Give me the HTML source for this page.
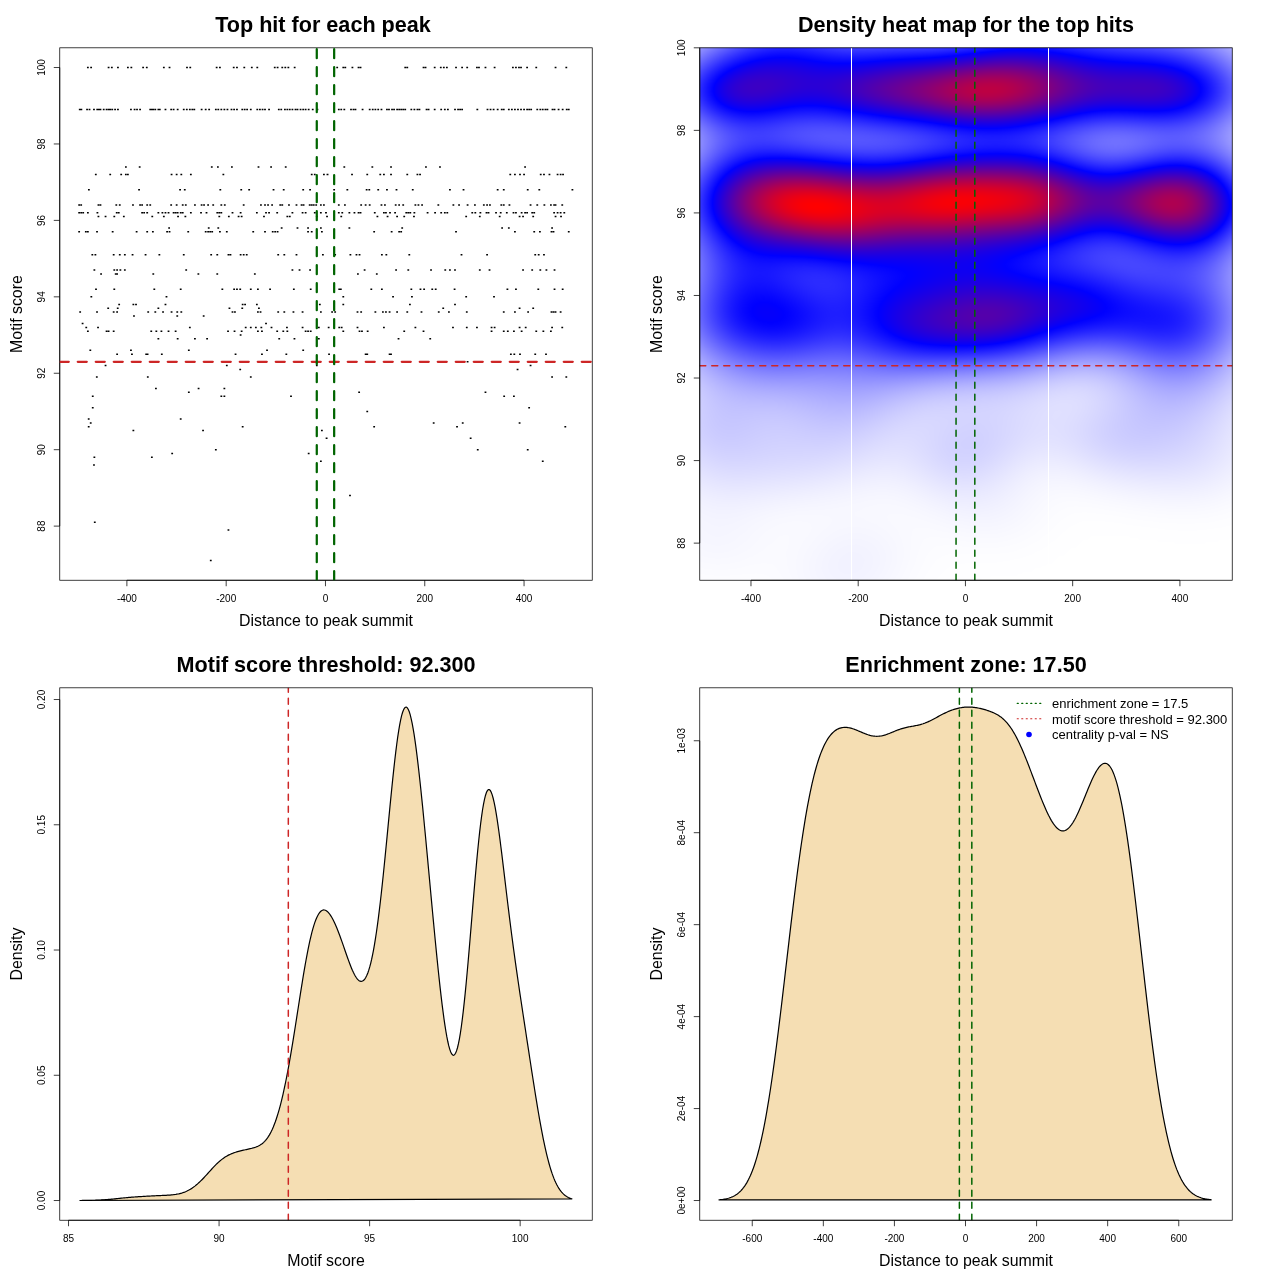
<!DOCTYPE html>
<html><head><meta charset="utf-8"><style>
html,body{margin:0;padding:0;background:#fff;width:1280px;height:1280px;overflow:hidden}
#hm{position:absolute;left:700px;top:48px;width:532px;height:532px}
svg{position:absolute;left:0;top:0}
text{font-family:"Liberation Sans", sans-serif;fill:#000}
</style></head><body>
<svg id="fb" width="1280" height="1280" viewBox="0 0 1280 1280"><defs><filter id="bl" x="-5%" y="-5%" width="110%" height="110%"><feGaussianBlur stdDeviation="9"/></filter><clipPath id="fc"><rect x="699.76" y="47.81" width="532.48" height="532.43"/></clipPath></defs><g clip-path="url(#fc)"><g filter="url(#bl)"><rect x="681" y="29" width="19.5" height="19.5" fill="#6060ff"/><rect x="700" y="29" width="19.5" height="19.5" fill="#6060ff"/><rect x="719" y="29" width="19.5" height="19.5" fill="#3535ff"/><rect x="738" y="29" width="19.5" height="19.5" fill="#1616ff"/><rect x="757" y="29" width="19.5" height="19.5" fill="#0404ff"/><rect x="776" y="29" width="19.5" height="19.5" fill="#0101ff"/><rect x="795" y="29" width="19.5" height="19.5" fill="#0707ff"/><rect x="814" y="29" width="19.5" height="19.5" fill="#1010ff"/><rect x="833" y="29" width="19.5" height="19.5" fill="#1717ff"/><rect x="852" y="29" width="19.5" height="19.5" fill="#1616ff"/><rect x="871" y="29" width="19.5" height="19.5" fill="#1111ff"/><rect x="890" y="29" width="19.5" height="19.5" fill="#0b0bff"/><rect x="909" y="29" width="19.5" height="19.5" fill="#0606ff"/><rect x="928" y="29" width="19.5" height="19.5" fill="#0100fe"/><rect x="947" y="29" width="19.5" height="19.5" fill="#0d00f2"/><rect x="966" y="29" width="19.5" height="19.5" fill="#1d00e2"/><rect x="985" y="29" width="19.5" height="19.5" fill="#2a00d5"/><rect x="1004" y="29" width="19.5" height="19.5" fill="#2e00d1"/><rect x="1023" y="29" width="19.5" height="19.5" fill="#2800d7"/><rect x="1042" y="29" width="19.5" height="19.5" fill="#1b00e4"/><rect x="1061" y="29" width="19.5" height="19.5" fill="#0b00f4"/><rect x="1080" y="29" width="19.5" height="19.5" fill="#0404ff"/><rect x="1099" y="29" width="19.5" height="19.5" fill="#0f0fff"/><rect x="1118" y="29" width="19.5" height="19.5" fill="#1515ff"/><rect x="1137" y="29" width="19.5" height="19.5" fill="#1c1cff"/><rect x="1156" y="29" width="19.5" height="19.5" fill="#2626ff"/><rect x="1175" y="29" width="19.5" height="19.5" fill="#3a3aff"/><rect x="1194" y="29" width="19.5" height="19.5" fill="#5858ff"/><rect x="1213" y="29" width="19.5" height="19.5" fill="#7d7dff"/><rect x="1232" y="29" width="19.5" height="19.5" fill="#7d7dff"/><rect x="681" y="48" width="19.5" height="19.5" fill="#6060ff"/><rect x="700" y="48" width="19.5" height="19.5" fill="#6060ff"/><rect x="719" y="48" width="19.5" height="19.5" fill="#3535ff"/><rect x="738" y="48" width="19.5" height="19.5" fill="#1616ff"/><rect x="757" y="48" width="19.5" height="19.5" fill="#0404ff"/><rect x="776" y="48" width="19.5" height="19.5" fill="#0101ff"/><rect x="795" y="48" width="19.5" height="19.5" fill="#0707ff"/><rect x="814" y="48" width="19.5" height="19.5" fill="#1010ff"/><rect x="833" y="48" width="19.5" height="19.5" fill="#1717ff"/><rect x="852" y="48" width="19.5" height="19.5" fill="#1616ff"/><rect x="871" y="48" width="19.5" height="19.5" fill="#1111ff"/><rect x="890" y="48" width="19.5" height="19.5" fill="#0b0bff"/><rect x="909" y="48" width="19.5" height="19.5" fill="#0606ff"/><rect x="928" y="48" width="19.5" height="19.5" fill="#0100fe"/><rect x="947" y="48" width="19.5" height="19.5" fill="#0d00f2"/><rect x="966" y="48" width="19.5" height="19.5" fill="#1d00e2"/><rect x="985" y="48" width="19.5" height="19.5" fill="#2a00d5"/><rect x="1004" y="48" width="19.5" height="19.5" fill="#2e00d1"/><rect x="1023" y="48" width="19.5" height="19.5" fill="#2800d7"/><rect x="1042" y="48" width="19.5" height="19.5" fill="#1b00e4"/><rect x="1061" y="48" width="19.5" height="19.5" fill="#0b00f4"/><rect x="1080" y="48" width="19.5" height="19.5" fill="#0404ff"/><rect x="1099" y="48" width="19.5" height="19.5" fill="#0f0fff"/><rect x="1118" y="48" width="19.5" height="19.5" fill="#1515ff"/><rect x="1137" y="48" width="19.5" height="19.5" fill="#1c1cff"/><rect x="1156" y="48" width="19.5" height="19.5" fill="#2626ff"/><rect x="1175" y="48" width="19.5" height="19.5" fill="#3a3aff"/><rect x="1194" y="48" width="19.5" height="19.5" fill="#5858ff"/><rect x="1213" y="48" width="19.5" height="19.5" fill="#7d7dff"/><rect x="1232" y="48" width="19.5" height="19.5" fill="#7d7dff"/><rect x="681" y="67" width="19.5" height="19.5" fill="#2020ff"/><rect x="700" y="67" width="19.5" height="19.5" fill="#2020ff"/><rect x="719" y="67" width="19.5" height="19.5" fill="#1100ee"/><rect x="738" y="67" width="19.5" height="19.5" fill="#2b00d4"/><rect x="757" y="67" width="19.5" height="19.5" fill="#3200cd"/><rect x="776" y="67" width="19.5" height="19.5" fill="#2d00d2"/><rect x="795" y="67" width="19.5" height="19.5" fill="#2600d9"/><rect x="814" y="67" width="19.5" height="19.5" fill="#2300dc"/><rect x="833" y="67" width="19.5" height="19.5" fill="#2800d7"/><rect x="852" y="67" width="19.5" height="19.5" fill="#3400cb"/><rect x="871" y="67" width="19.5" height="19.5" fill="#4300bc"/><rect x="890" y="67" width="19.5" height="19.5" fill="#5100ae"/><rect x="909" y="67" width="19.5" height="19.5" fill="#60009f"/><rect x="928" y="67" width="19.5" height="19.5" fill="#72008d"/><rect x="947" y="67" width="19.5" height="19.5" fill="#85007a"/><rect x="966" y="67" width="19.5" height="19.5" fill="#95006a"/><rect x="985" y="67" width="19.5" height="19.5" fill="#9c0063"/><rect x="1004" y="67" width="19.5" height="19.5" fill="#960069"/><rect x="1023" y="67" width="19.5" height="19.5" fill="#84007b"/><rect x="1042" y="67" width="19.5" height="19.5" fill="#6c0093"/><rect x="1061" y="67" width="19.5" height="19.5" fill="#5200ad"/><rect x="1080" y="67" width="19.5" height="19.5" fill="#3f00c0"/><rect x="1099" y="67" width="19.5" height="19.5" fill="#3400cb"/><rect x="1118" y="67" width="19.5" height="19.5" fill="#3100ce"/><rect x="1137" y="67" width="19.5" height="19.5" fill="#2f00d0"/><rect x="1156" y="67" width="19.5" height="19.5" fill="#2500da"/><rect x="1175" y="67" width="19.5" height="19.5" fill="#0e00f1"/><rect x="1194" y="67" width="19.5" height="19.5" fill="#1818ff"/><rect x="1213" y="67" width="19.5" height="19.5" fill="#4b4bff"/><rect x="1232" y="67" width="19.5" height="19.5" fill="#4b4bff"/><rect x="681" y="86" width="19.5" height="19.5" fill="#0f0fff"/><rect x="700" y="86" width="19.5" height="19.5" fill="#0f0fff"/><rect x="719" y="86" width="19.5" height="19.5" fill="#1f00e0"/><rect x="738" y="86" width="19.5" height="19.5" fill="#3200cd"/><rect x="757" y="86" width="19.5" height="19.5" fill="#3000cf"/><rect x="776" y="86" width="19.5" height="19.5" fill="#2500da"/><rect x="795" y="86" width="19.5" height="19.5" fill="#1e00e1"/><rect x="814" y="86" width="19.5" height="19.5" fill="#2000df"/><rect x="833" y="86" width="19.5" height="19.5" fill="#2c00d3"/><rect x="852" y="86" width="19.5" height="19.5" fill="#3e00c1"/><rect x="871" y="86" width="19.5" height="19.5" fill="#5200ad"/><rect x="890" y="86" width="19.5" height="19.5" fill="#65009a"/><rect x="909" y="86" width="19.5" height="19.5" fill="#790086"/><rect x="928" y="86" width="19.5" height="19.5" fill="#8f0070"/><rect x="947" y="86" width="19.5" height="19.5" fill="#a5005a"/><rect x="966" y="86" width="19.5" height="19.5" fill="#b4004b"/><rect x="985" y="86" width="19.5" height="19.5" fill="#b5004a"/><rect x="1004" y="86" width="19.5" height="19.5" fill="#a80057"/><rect x="1023" y="86" width="19.5" height="19.5" fill="#90006f"/><rect x="1042" y="86" width="19.5" height="19.5" fill="#73008c"/><rect x="1061" y="86" width="19.5" height="19.5" fill="#5600a9"/><rect x="1080" y="86" width="19.5" height="19.5" fill="#4200bd"/><rect x="1099" y="86" width="19.5" height="19.5" fill="#3800c7"/><rect x="1118" y="86" width="19.5" height="19.5" fill="#3800c7"/><rect x="1137" y="86" width="19.5" height="19.5" fill="#3900c6"/><rect x="1156" y="86" width="19.5" height="19.5" fill="#3300cc"/><rect x="1175" y="86" width="19.5" height="19.5" fill="#1d00e2"/><rect x="1194" y="86" width="19.5" height="19.5" fill="#0a0aff"/><rect x="1213" y="86" width="19.5" height="19.5" fill="#3f3fff"/><rect x="1232" y="86" width="19.5" height="19.5" fill="#3f3fff"/><rect x="681" y="105" width="19.5" height="19.5" fill="#4040ff"/><rect x="700" y="105" width="19.5" height="19.5" fill="#4040ff"/><rect x="719" y="105" width="19.5" height="19.5" fill="#1b1bff"/><rect x="738" y="105" width="19.5" height="19.5" fill="#0c0cff"/><rect x="757" y="105" width="19.5" height="19.5" fill="#0f0fff"/><rect x="776" y="105" width="19.5" height="19.5" fill="#1a1aff"/><rect x="795" y="105" width="19.5" height="19.5" fill="#2121ff"/><rect x="814" y="105" width="19.5" height="19.5" fill="#2020ff"/><rect x="833" y="105" width="19.5" height="19.5" fill="#1616ff"/><rect x="852" y="105" width="19.5" height="19.5" fill="#0909ff"/><rect x="871" y="105" width="19.5" height="19.5" fill="#0600f9"/><rect x="890" y="105" width="19.5" height="19.5" fill="#1400eb"/><rect x="909" y="105" width="19.5" height="19.5" fill="#2500da"/><rect x="928" y="105" width="19.5" height="19.5" fill="#3700c8"/><rect x="947" y="105" width="19.5" height="19.5" fill="#4800b7"/><rect x="966" y="105" width="19.5" height="19.5" fill="#5300ac"/><rect x="985" y="105" width="19.5" height="19.5" fill="#5400ab"/><rect x="1004" y="105" width="19.5" height="19.5" fill="#4900b6"/><rect x="1023" y="105" width="19.5" height="19.5" fill="#3500ca"/><rect x="1042" y="105" width="19.5" height="19.5" fill="#1d00e2"/><rect x="1061" y="105" width="19.5" height="19.5" fill="#0600f9"/><rect x="1080" y="105" width="19.5" height="19.5" fill="#0d0dff"/><rect x="1099" y="105" width="19.5" height="19.5" fill="#1515ff"/><rect x="1118" y="105" width="19.5" height="19.5" fill="#1515ff"/><rect x="1137" y="105" width="19.5" height="19.5" fill="#1111ff"/><rect x="1156" y="105" width="19.5" height="19.5" fill="#1212ff"/><rect x="1175" y="105" width="19.5" height="19.5" fill="#2020ff"/><rect x="1194" y="105" width="19.5" height="19.5" fill="#3d3dff"/><rect x="1213" y="105" width="19.5" height="19.5" fill="#6666ff"/><rect x="1232" y="105" width="19.5" height="19.5" fill="#6666ff"/><rect x="681" y="124" width="19.5" height="19.5" fill="#7272ff"/><rect x="700" y="124" width="19.5" height="19.5" fill="#7272ff"/><rect x="719" y="124" width="19.5" height="19.5" fill="#5050ff"/><rect x="738" y="124" width="19.5" height="19.5" fill="#3f3fff"/><rect x="757" y="124" width="19.5" height="19.5" fill="#3f3fff"/><rect x="776" y="124" width="19.5" height="19.5" fill="#4747ff"/><rect x="795" y="124" width="19.5" height="19.5" fill="#4f4fff"/><rect x="814" y="124" width="19.5" height="19.5" fill="#5353ff"/><rect x="833" y="124" width="19.5" height="19.5" fill="#5252ff"/><rect x="852" y="124" width="19.5" height="19.5" fill="#4f4fff"/><rect x="871" y="124" width="19.5" height="19.5" fill="#4949ff"/><rect x="890" y="124" width="19.5" height="19.5" fill="#4141ff"/><rect x="909" y="124" width="19.5" height="19.5" fill="#3737ff"/><rect x="928" y="124" width="19.5" height="19.5" fill="#2a2aff"/><rect x="947" y="124" width="19.5" height="19.5" fill="#1d1dff"/><rect x="966" y="124" width="19.5" height="19.5" fill="#1515ff"/><rect x="985" y="124" width="19.5" height="19.5" fill="#1212ff"/><rect x="1004" y="124" width="19.5" height="19.5" fill="#1717ff"/><rect x="1023" y="124" width="19.5" height="19.5" fill="#2323ff"/><rect x="1042" y="124" width="19.5" height="19.5" fill="#3535ff"/><rect x="1061" y="124" width="19.5" height="19.5" fill="#4949ff"/><rect x="1080" y="124" width="19.5" height="19.5" fill="#5b5bff"/><rect x="1099" y="124" width="19.5" height="19.5" fill="#6464ff"/><rect x="1118" y="124" width="19.5" height="19.5" fill="#6464ff"/><rect x="1137" y="124" width="19.5" height="19.5" fill="#5d5dff"/><rect x="1156" y="124" width="19.5" height="19.5" fill="#5757ff"/><rect x="1175" y="124" width="19.5" height="19.5" fill="#5a5aff"/><rect x="1194" y="124" width="19.5" height="19.5" fill="#6b6bff"/><rect x="1213" y="124" width="19.5" height="19.5" fill="#8989ff"/><rect x="1232" y="124" width="19.5" height="19.5" fill="#8989ff"/><rect x="681" y="143" width="19.5" height="19.5" fill="#6e6eff"/><rect x="700" y="143" width="19.5" height="19.5" fill="#6e6eff"/><rect x="719" y="143" width="19.5" height="19.5" fill="#4242ff"/><rect x="738" y="143" width="19.5" height="19.5" fill="#2626ff"/><rect x="757" y="143" width="19.5" height="19.5" fill="#1c1cff"/><rect x="776" y="143" width="19.5" height="19.5" fill="#1e1eff"/><rect x="795" y="143" width="19.5" height="19.5" fill="#2727ff"/><rect x="814" y="143" width="19.5" height="19.5" fill="#3030ff"/><rect x="833" y="143" width="19.5" height="19.5" fill="#3838ff"/><rect x="852" y="143" width="19.5" height="19.5" fill="#3d3dff"/><rect x="871" y="143" width="19.5" height="19.5" fill="#3d3dff"/><rect x="890" y="143" width="19.5" height="19.5" fill="#3737ff"/><rect x="909" y="143" width="19.5" height="19.5" fill="#2b2bff"/><rect x="928" y="143" width="19.5" height="19.5" fill="#1d1dff"/><rect x="947" y="143" width="19.5" height="19.5" fill="#1111ff"/><rect x="966" y="143" width="19.5" height="19.5" fill="#0909ff"/><rect x="985" y="143" width="19.5" height="19.5" fill="#0606ff"/><rect x="1004" y="143" width="19.5" height="19.5" fill="#0808ff"/><rect x="1023" y="143" width="19.5" height="19.5" fill="#1313ff"/><rect x="1042" y="143" width="19.5" height="19.5" fill="#2727ff"/><rect x="1061" y="143" width="19.5" height="19.5" fill="#4040ff"/><rect x="1080" y="143" width="19.5" height="19.5" fill="#5656ff"/><rect x="1099" y="143" width="19.5" height="19.5" fill="#6262ff"/><rect x="1118" y="143" width="19.5" height="19.5" fill="#5f5fff"/><rect x="1137" y="143" width="19.5" height="19.5" fill="#5151ff"/><rect x="1156" y="143" width="19.5" height="19.5" fill="#4444ff"/><rect x="1175" y="143" width="19.5" height="19.5" fill="#4242ff"/><rect x="1194" y="143" width="19.5" height="19.5" fill="#5353ff"/><rect x="1213" y="143" width="19.5" height="19.5" fill="#7575ff"/><rect x="1232" y="143" width="19.5" height="19.5" fill="#7575ff"/><rect x="681" y="162" width="19.5" height="19.5" fill="#4141ff"/><rect x="700" y="162" width="19.5" height="19.5" fill="#4141ff"/><rect x="719" y="162" width="19.5" height="19.5" fill="#0303ff"/><rect x="738" y="162" width="19.5" height="19.5" fill="#2d00d2"/><rect x="757" y="162" width="19.5" height="19.5" fill="#4a00b5"/><rect x="776" y="162" width="19.5" height="19.5" fill="#5500aa"/><rect x="795" y="162" width="19.5" height="19.5" fill="#5300ac"/><rect x="814" y="162" width="19.5" height="19.5" fill="#4800b7"/><rect x="833" y="162" width="19.5" height="19.5" fill="#3a00c5"/><rect x="852" y="162" width="19.5" height="19.5" fill="#2f00d0"/><rect x="871" y="162" width="19.5" height="19.5" fill="#2e00d1"/><rect x="890" y="162" width="19.5" height="19.5" fill="#3700c8"/><rect x="909" y="162" width="19.5" height="19.5" fill="#4900b6"/><rect x="928" y="162" width="19.5" height="19.5" fill="#5a00a5"/><rect x="947" y="162" width="19.5" height="19.5" fill="#670098"/><rect x="966" y="162" width="19.5" height="19.5" fill="#6e0091"/><rect x="985" y="162" width="19.5" height="19.5" fill="#6e0091"/><rect x="1004" y="162" width="19.5" height="19.5" fill="#680097"/><rect x="1023" y="162" width="19.5" height="19.5" fill="#5800a7"/><rect x="1042" y="162" width="19.5" height="19.5" fill="#3c00c3"/><rect x="1061" y="162" width="19.5" height="19.5" fill="#1900e6"/><rect x="1080" y="162" width="19.5" height="19.5" fill="#0303ff"/><rect x="1099" y="162" width="19.5" height="19.5" fill="#0e0eff"/><rect x="1118" y="162" width="19.5" height="19.5" fill="#0505ff"/><rect x="1137" y="162" width="19.5" height="19.5" fill="#1100ee"/><rect x="1156" y="162" width="19.5" height="19.5" fill="#2400db"/><rect x="1175" y="162" width="19.5" height="19.5" fill="#2200dd"/><rect x="1194" y="162" width="19.5" height="19.5" fill="#0400fb"/><rect x="1213" y="162" width="19.5" height="19.5" fill="#3232ff"/><rect x="1232" y="162" width="19.5" height="19.5" fill="#3232ff"/><rect x="681" y="181" width="19.5" height="19.5" fill="#1717ff"/><rect x="700" y="181" width="19.5" height="19.5" fill="#1717ff"/><rect x="719" y="181" width="19.5" height="19.5" fill="#3700c8"/><rect x="738" y="181" width="19.5" height="19.5" fill="#7b0084"/><rect x="757" y="181" width="19.5" height="19.5" fill="#ac0053"/><rect x="776" y="181" width="19.5" height="19.5" fill="#c90036"/><rect x="795" y="181" width="19.5" height="19.5" fill="#d4002b"/><rect x="814" y="181" width="19.5" height="19.5" fill="#ce0031"/><rect x="833" y="181" width="19.5" height="19.5" fill="#bf0040"/><rect x="852" y="181" width="19.5" height="19.5" fill="#b0004f"/><rect x="871" y="181" width="19.5" height="19.5" fill="#ac0053"/><rect x="890" y="181" width="19.5" height="19.5" fill="#b4004b"/><rect x="909" y="181" width="19.5" height="19.5" fill="#c60039"/><rect x="928" y="181" width="19.5" height="19.5" fill="#d70028"/><rect x="947" y="181" width="19.5" height="19.5" fill="#e1001e"/><rect x="966" y="181" width="19.5" height="19.5" fill="#e2001d"/><rect x="985" y="181" width="19.5" height="19.5" fill="#de0021"/><rect x="1004" y="181" width="19.5" height="19.5" fill="#d4002b"/><rect x="1023" y="181" width="19.5" height="19.5" fill="#bf0040"/><rect x="1042" y="181" width="19.5" height="19.5" fill="#9c0063"/><rect x="1061" y="181" width="19.5" height="19.5" fill="#72008d"/><rect x="1080" y="181" width="19.5" height="19.5" fill="#5200ad"/><rect x="1099" y="181" width="19.5" height="19.5" fill="#4a00b5"/><rect x="1118" y="181" width="19.5" height="19.5" fill="#5c00a3"/><rect x="1137" y="181" width="19.5" height="19.5" fill="#7b0084"/><rect x="1156" y="181" width="19.5" height="19.5" fill="#91006e"/><rect x="1175" y="181" width="19.5" height="19.5" fill="#8b0074"/><rect x="1194" y="181" width="19.5" height="19.5" fill="#5e00a1"/><rect x="1213" y="181" width="19.5" height="19.5" fill="#1200ed"/><rect x="1232" y="181" width="19.5" height="19.5" fill="#1200ed"/><rect x="681" y="200" width="19.5" height="19.5" fill="#1010ff"/><rect x="700" y="200" width="19.5" height="19.5" fill="#1010ff"/><rect x="719" y="200" width="19.5" height="19.5" fill="#3f00c0"/><rect x="738" y="200" width="19.5" height="19.5" fill="#85007a"/><rect x="757" y="200" width="19.5" height="19.5" fill="#bb0044"/><rect x="776" y="200" width="19.5" height="19.5" fill="#e2001d"/><rect x="795" y="200" width="19.5" height="19.5" fill="#f80007"/><rect x="814" y="200" width="19.5" height="19.5" fill="#fd0002"/><rect x="833" y="200" width="19.5" height="19.5" fill="#f4000b"/><rect x="852" y="200" width="19.5" height="19.5" fill="#e60019"/><rect x="871" y="200" width="19.5" height="19.5" fill="#db0024"/><rect x="890" y="200" width="19.5" height="19.5" fill="#db0024"/><rect x="909" y="200" width="19.5" height="19.5" fill="#e4001b"/><rect x="928" y="200" width="19.5" height="19.5" fill="#ed0012"/><rect x="947" y="200" width="19.5" height="19.5" fill="#ef0010"/><rect x="966" y="200" width="19.5" height="19.5" fill="#ea0015"/><rect x="985" y="200" width="19.5" height="19.5" fill="#e2001d"/><rect x="1004" y="200" width="19.5" height="19.5" fill="#d70028"/><rect x="1023" y="200" width="19.5" height="19.5" fill="#c2003d"/><rect x="1042" y="200" width="19.5" height="19.5" fill="#9f0060"/><rect x="1061" y="200" width="19.5" height="19.5" fill="#760089"/><rect x="1080" y="200" width="19.5" height="19.5" fill="#5700a8"/><rect x="1099" y="200" width="19.5" height="19.5" fill="#5200ad"/><rect x="1118" y="200" width="19.5" height="19.5" fill="#680097"/><rect x="1137" y="200" width="19.5" height="19.5" fill="#8b0074"/><rect x="1156" y="200" width="19.5" height="19.5" fill="#a5005a"/><rect x="1175" y="200" width="19.5" height="19.5" fill="#a0005f"/><rect x="1194" y="200" width="19.5" height="19.5" fill="#72008d"/><rect x="1213" y="200" width="19.5" height="19.5" fill="#2200dd"/><rect x="1232" y="200" width="19.5" height="19.5" fill="#2200dd"/><rect x="681" y="219" width="19.5" height="19.5" fill="#2c2cff"/><rect x="700" y="219" width="19.5" height="19.5" fill="#2c2cff"/><rect x="719" y="219" width="19.5" height="19.5" fill="#1400eb"/><rect x="738" y="219" width="19.5" height="19.5" fill="#4900b6"/><rect x="757" y="219" width="19.5" height="19.5" fill="#71008e"/><rect x="776" y="219" width="19.5" height="19.5" fill="#90006f"/><rect x="795" y="219" width="19.5" height="19.5" fill="#a60059"/><rect x="814" y="219" width="19.5" height="19.5" fill="#b2004d"/><rect x="833" y="219" width="19.5" height="19.5" fill="#b4004b"/><rect x="852" y="219" width="19.5" height="19.5" fill="#ab0054"/><rect x="871" y="219" width="19.5" height="19.5" fill="#9f0060"/><rect x="890" y="219" width="19.5" height="19.5" fill="#980067"/><rect x="909" y="219" width="19.5" height="19.5" fill="#960069"/><rect x="928" y="219" width="19.5" height="19.5" fill="#970068"/><rect x="947" y="219" width="19.5" height="19.5" fill="#93006c"/><rect x="966" y="219" width="19.5" height="19.5" fill="#8b0074"/><rect x="985" y="219" width="19.5" height="19.5" fill="#81007e"/><rect x="1004" y="219" width="19.5" height="19.5" fill="#760089"/><rect x="1023" y="219" width="19.5" height="19.5" fill="#64009b"/><rect x="1042" y="219" width="19.5" height="19.5" fill="#4800b7"/><rect x="1061" y="219" width="19.5" height="19.5" fill="#2800d7"/><rect x="1080" y="219" width="19.5" height="19.5" fill="#1000ef"/><rect x="1099" y="219" width="19.5" height="19.5" fill="#0b00f4"/><rect x="1118" y="219" width="19.5" height="19.5" fill="#1c00e3"/><rect x="1137" y="219" width="19.5" height="19.5" fill="#3a00c5"/><rect x="1156" y="219" width="19.5" height="19.5" fill="#5300ac"/><rect x="1175" y="219" width="19.5" height="19.5" fill="#5400ab"/><rect x="1194" y="219" width="19.5" height="19.5" fill="#3300cc"/><rect x="1213" y="219" width="19.5" height="19.5" fill="#0e0eff"/><rect x="1232" y="219" width="19.5" height="19.5" fill="#0e0eff"/><rect x="681" y="238" width="19.5" height="19.5" fill="#4d4dff"/><rect x="700" y="238" width="19.5" height="19.5" fill="#4d4dff"/><rect x="719" y="238" width="19.5" height="19.5" fill="#1c1cff"/><rect x="738" y="238" width="19.5" height="19.5" fill="#0600f9"/><rect x="757" y="238" width="19.5" height="19.5" fill="#1800e7"/><rect x="776" y="238" width="19.5" height="19.5" fill="#2300dc"/><rect x="795" y="238" width="19.5" height="19.5" fill="#2d00d2"/><rect x="814" y="238" width="19.5" height="19.5" fill="#3800c7"/><rect x="833" y="238" width="19.5" height="19.5" fill="#4000bf"/><rect x="852" y="238" width="19.5" height="19.5" fill="#4100be"/><rect x="871" y="238" width="19.5" height="19.5" fill="#3c00c3"/><rect x="890" y="238" width="19.5" height="19.5" fill="#3800c7"/><rect x="909" y="238" width="19.5" height="19.5" fill="#3600c9"/><rect x="928" y="238" width="19.5" height="19.5" fill="#3600c9"/><rect x="947" y="238" width="19.5" height="19.5" fill="#3300cc"/><rect x="966" y="238" width="19.5" height="19.5" fill="#2c00d3"/><rect x="985" y="238" width="19.5" height="19.5" fill="#2200dd"/><rect x="1004" y="238" width="19.5" height="19.5" fill="#1700e8"/><rect x="1023" y="238" width="19.5" height="19.5" fill="#0800f7"/><rect x="1042" y="238" width="19.5" height="19.5" fill="#0b0bff"/><rect x="1061" y="238" width="19.5" height="19.5" fill="#2020ff"/><rect x="1080" y="238" width="19.5" height="19.5" fill="#3131ff"/><rect x="1099" y="238" width="19.5" height="19.5" fill="#3838ff"/><rect x="1118" y="238" width="19.5" height="19.5" fill="#3232ff"/><rect x="1137" y="238" width="19.5" height="19.5" fill="#2222ff"/><rect x="1156" y="238" width="19.5" height="19.5" fill="#1212ff"/><rect x="1175" y="238" width="19.5" height="19.5" fill="#0f0fff"/><rect x="1194" y="238" width="19.5" height="19.5" fill="#2424ff"/><rect x="1213" y="238" width="19.5" height="19.5" fill="#5151ff"/><rect x="1232" y="238" width="19.5" height="19.5" fill="#5151ff"/><rect x="681" y="257" width="19.5" height="19.5" fill="#5b5bff"/><rect x="700" y="257" width="19.5" height="19.5" fill="#5b5bff"/><rect x="719" y="257" width="19.5" height="19.5" fill="#3030ff"/><rect x="738" y="257" width="19.5" height="19.5" fill="#1919ff"/><rect x="757" y="257" width="19.5" height="19.5" fill="#1414ff"/><rect x="776" y="257" width="19.5" height="19.5" fill="#1818ff"/><rect x="795" y="257" width="19.5" height="19.5" fill="#1c1cff"/><rect x="814" y="257" width="19.5" height="19.5" fill="#1919ff"/><rect x="833" y="257" width="19.5" height="19.5" fill="#1111ff"/><rect x="852" y="257" width="19.5" height="19.5" fill="#0808ff"/><rect x="871" y="257" width="19.5" height="19.5" fill="#0202ff"/><rect x="890" y="257" width="19.5" height="19.5" fill="#0300fc"/><rect x="909" y="257" width="19.5" height="19.5" fill="#0800f7"/><rect x="928" y="257" width="19.5" height="19.5" fill="#0c00f3"/><rect x="947" y="257" width="19.5" height="19.5" fill="#0e00f1"/><rect x="966" y="257" width="19.5" height="19.5" fill="#0c00f3"/><rect x="985" y="257" width="19.5" height="19.5" fill="#0500fa"/><rect x="1004" y="257" width="19.5" height="19.5" fill="#0404ff"/><rect x="1023" y="257" width="19.5" height="19.5" fill="#0f0fff"/><rect x="1042" y="257" width="19.5" height="19.5" fill="#1b1bff"/><rect x="1061" y="257" width="19.5" height="19.5" fill="#2828ff"/><rect x="1080" y="257" width="19.5" height="19.5" fill="#3535ff"/><rect x="1099" y="257" width="19.5" height="19.5" fill="#4040ff"/><rect x="1118" y="257" width="19.5" height="19.5" fill="#4545ff"/><rect x="1137" y="257" width="19.5" height="19.5" fill="#4545ff"/><rect x="1156" y="257" width="19.5" height="19.5" fill="#4141ff"/><rect x="1175" y="257" width="19.5" height="19.5" fill="#4343ff"/><rect x="1194" y="257" width="19.5" height="19.5" fill="#5555ff"/><rect x="1213" y="257" width="19.5" height="19.5" fill="#7878ff"/><rect x="1232" y="257" width="19.5" height="19.5" fill="#7878ff"/><rect x="681" y="276" width="19.5" height="19.5" fill="#5656ff"/><rect x="700" y="276" width="19.5" height="19.5" fill="#5656ff"/><rect x="719" y="276" width="19.5" height="19.5" fill="#2b2bff"/><rect x="738" y="276" width="19.5" height="19.5" fill="#1414ff"/><rect x="757" y="276" width="19.5" height="19.5" fill="#1111ff"/><rect x="776" y="276" width="19.5" height="19.5" fill="#1b1bff"/><rect x="795" y="276" width="19.5" height="19.5" fill="#2626ff"/><rect x="814" y="276" width="19.5" height="19.5" fill="#2b2bff"/><rect x="833" y="276" width="19.5" height="19.5" fill="#2727ff"/><rect x="852" y="276" width="19.5" height="19.5" fill="#1b1bff"/><rect x="871" y="276" width="19.5" height="19.5" fill="#0d0dff"/><rect x="890" y="276" width="19.5" height="19.5" fill="#0000ff"/><rect x="909" y="276" width="19.5" height="19.5" fill="#0c00f3"/><rect x="928" y="276" width="19.5" height="19.5" fill="#1500ea"/><rect x="947" y="276" width="19.5" height="19.5" fill="#1d00e2"/><rect x="966" y="276" width="19.5" height="19.5" fill="#2100de"/><rect x="985" y="276" width="19.5" height="19.5" fill="#1f00e0"/><rect x="1004" y="276" width="19.5" height="19.5" fill="#1900e6"/><rect x="1023" y="276" width="19.5" height="19.5" fill="#1000ef"/><rect x="1042" y="276" width="19.5" height="19.5" fill="#0600f9"/><rect x="1061" y="276" width="19.5" height="19.5" fill="#0303ff"/><rect x="1080" y="276" width="19.5" height="19.5" fill="#1010ff"/><rect x="1099" y="276" width="19.5" height="19.5" fill="#1e1eff"/><rect x="1118" y="276" width="19.5" height="19.5" fill="#2c2cff"/><rect x="1137" y="276" width="19.5" height="19.5" fill="#3535ff"/><rect x="1156" y="276" width="19.5" height="19.5" fill="#3a3aff"/><rect x="1175" y="276" width="19.5" height="19.5" fill="#4343ff"/><rect x="1194" y="276" width="19.5" height="19.5" fill="#5959ff"/><rect x="1213" y="276" width="19.5" height="19.5" fill="#7c7cff"/><rect x="1232" y="276" width="19.5" height="19.5" fill="#7c7cff"/><rect x="681" y="295" width="19.5" height="19.5" fill="#4c4cff"/><rect x="700" y="295" width="19.5" height="19.5" fill="#4c4cff"/><rect x="719" y="295" width="19.5" height="19.5" fill="#2020ff"/><rect x="738" y="295" width="19.5" height="19.5" fill="#0505ff"/><rect x="757" y="295" width="19.5" height="19.5" fill="#0200fd"/><rect x="776" y="295" width="19.5" height="19.5" fill="#0606ff"/><rect x="795" y="295" width="19.5" height="19.5" fill="#1414ff"/><rect x="814" y="295" width="19.5" height="19.5" fill="#1f1fff"/><rect x="833" y="295" width="19.5" height="19.5" fill="#2020ff"/><rect x="852" y="295" width="19.5" height="19.5" fill="#1414ff"/><rect x="871" y="295" width="19.5" height="19.5" fill="#0000ff"/><rect x="890" y="295" width="19.5" height="19.5" fill="#1400eb"/><rect x="909" y="295" width="19.5" height="19.5" fill="#2500da"/><rect x="928" y="295" width="19.5" height="19.5" fill="#3400cb"/><rect x="947" y="295" width="19.5" height="19.5" fill="#4000bf"/><rect x="966" y="295" width="19.5" height="19.5" fill="#4900b6"/><rect x="985" y="295" width="19.5" height="19.5" fill="#4900b6"/><rect x="1004" y="295" width="19.5" height="19.5" fill="#4100be"/><rect x="1023" y="295" width="19.5" height="19.5" fill="#3400cb"/><rect x="1042" y="295" width="19.5" height="19.5" fill="#2600d9"/><rect x="1061" y="295" width="19.5" height="19.5" fill="#1900e6"/><rect x="1080" y="295" width="19.5" height="19.5" fill="#0b00f4"/><rect x="1099" y="295" width="19.5" height="19.5" fill="#0303ff"/><rect x="1118" y="295" width="19.5" height="19.5" fill="#0f0fff"/><rect x="1137" y="295" width="19.5" height="19.5" fill="#1818ff"/><rect x="1156" y="295" width="19.5" height="19.5" fill="#1f1fff"/><rect x="1175" y="295" width="19.5" height="19.5" fill="#2d2dff"/><rect x="1194" y="295" width="19.5" height="19.5" fill="#4848ff"/><rect x="1213" y="295" width="19.5" height="19.5" fill="#7171ff"/><rect x="1232" y="295" width="19.5" height="19.5" fill="#7171ff"/><rect x="681" y="314" width="19.5" height="19.5" fill="#5353ff"/><rect x="700" y="314" width="19.5" height="19.5" fill="#5353ff"/><rect x="719" y="314" width="19.5" height="19.5" fill="#2828ff"/><rect x="738" y="314" width="19.5" height="19.5" fill="#0c0cff"/><rect x="757" y="314" width="19.5" height="19.5" fill="#0202ff"/><rect x="776" y="314" width="19.5" height="19.5" fill="#0505ff"/><rect x="795" y="314" width="19.5" height="19.5" fill="#1212ff"/><rect x="814" y="314" width="19.5" height="19.5" fill="#1e1eff"/><rect x="833" y="314" width="19.5" height="19.5" fill="#2121ff"/><rect x="852" y="314" width="19.5" height="19.5" fill="#1616ff"/><rect x="871" y="314" width="19.5" height="19.5" fill="#0101ff"/><rect x="890" y="314" width="19.5" height="19.5" fill="#1800e7"/><rect x="909" y="314" width="19.5" height="19.5" fill="#2d00d2"/><rect x="928" y="314" width="19.5" height="19.5" fill="#3c00c3"/><rect x="947" y="314" width="19.5" height="19.5" fill="#4800b7"/><rect x="966" y="314" width="19.5" height="19.5" fill="#4e00b1"/><rect x="985" y="314" width="19.5" height="19.5" fill="#4a00b5"/><rect x="1004" y="314" width="19.5" height="19.5" fill="#3d00c2"/><rect x="1023" y="314" width="19.5" height="19.5" fill="#2800d7"/><rect x="1042" y="314" width="19.5" height="19.5" fill="#1200ed"/><rect x="1061" y="314" width="19.5" height="19.5" fill="#0100fe"/><rect x="1080" y="314" width="19.5" height="19.5" fill="#0c0cff"/><rect x="1099" y="314" width="19.5" height="19.5" fill="#1414ff"/><rect x="1118" y="314" width="19.5" height="19.5" fill="#1717ff"/><rect x="1137" y="314" width="19.5" height="19.5" fill="#1616ff"/><rect x="1156" y="314" width="19.5" height="19.5" fill="#1818ff"/><rect x="1175" y="314" width="19.5" height="19.5" fill="#2525ff"/><rect x="1194" y="314" width="19.5" height="19.5" fill="#4242ff"/><rect x="1213" y="314" width="19.5" height="19.5" fill="#6e6eff"/><rect x="1232" y="314" width="19.5" height="19.5" fill="#6e6eff"/><rect x="681" y="333" width="19.5" height="19.5" fill="#7373ff"/><rect x="700" y="333" width="19.5" height="19.5" fill="#7373ff"/><rect x="719" y="333" width="19.5" height="19.5" fill="#4e4eff"/><rect x="738" y="333" width="19.5" height="19.5" fill="#3535ff"/><rect x="757" y="333" width="19.5" height="19.5" fill="#2a2aff"/><rect x="776" y="333" width="19.5" height="19.5" fill="#2a2aff"/><rect x="795" y="333" width="19.5" height="19.5" fill="#3333ff"/><rect x="814" y="333" width="19.5" height="19.5" fill="#3c3cff"/><rect x="833" y="333" width="19.5" height="19.5" fill="#3f3fff"/><rect x="852" y="333" width="19.5" height="19.5" fill="#3535ff"/><rect x="871" y="333" width="19.5" height="19.5" fill="#2323ff"/><rect x="890" y="333" width="19.5" height="19.5" fill="#0f0fff"/><rect x="909" y="333" width="19.5" height="19.5" fill="#0100fe"/><rect x="928" y="333" width="19.5" height="19.5" fill="#0b00f4"/><rect x="947" y="333" width="19.5" height="19.5" fill="#0f00f0"/><rect x="966" y="333" width="19.5" height="19.5" fill="#0e00f1"/><rect x="985" y="333" width="19.5" height="19.5" fill="#0600f9"/><rect x="1004" y="333" width="19.5" height="19.5" fill="#0909ff"/><rect x="1023" y="333" width="19.5" height="19.5" fill="#1f1fff"/><rect x="1042" y="333" width="19.5" height="19.5" fill="#3636ff"/><rect x="1061" y="333" width="19.5" height="19.5" fill="#4848ff"/><rect x="1080" y="333" width="19.5" height="19.5" fill="#5252ff"/><rect x="1099" y="333" width="19.5" height="19.5" fill="#5353ff"/><rect x="1118" y="333" width="19.5" height="19.5" fill="#4b4bff"/><rect x="1137" y="333" width="19.5" height="19.5" fill="#3f3fff"/><rect x="1156" y="333" width="19.5" height="19.5" fill="#3939ff"/><rect x="1175" y="333" width="19.5" height="19.5" fill="#4040ff"/><rect x="1194" y="333" width="19.5" height="19.5" fill="#5a5aff"/><rect x="1213" y="333" width="19.5" height="19.5" fill="#8181ff"/><rect x="1232" y="333" width="19.5" height="19.5" fill="#8181ff"/><rect x="681" y="352" width="19.5" height="19.5" fill="#9b9bff"/><rect x="700" y="352" width="19.5" height="19.5" fill="#9b9bff"/><rect x="719" y="352" width="19.5" height="19.5" fill="#8080ff"/><rect x="738" y="352" width="19.5" height="19.5" fill="#6e6eff"/><rect x="757" y="352" width="19.5" height="19.5" fill="#6464ff"/><rect x="776" y="352" width="19.5" height="19.5" fill="#6363ff"/><rect x="795" y="352" width="19.5" height="19.5" fill="#6767ff"/><rect x="814" y="352" width="19.5" height="19.5" fill="#6c6cff"/><rect x="833" y="352" width="19.5" height="19.5" fill="#6c6cff"/><rect x="852" y="352" width="19.5" height="19.5" fill="#6666ff"/><rect x="871" y="352" width="19.5" height="19.5" fill="#5d5dff"/><rect x="890" y="352" width="19.5" height="19.5" fill="#5454ff"/><rect x="909" y="352" width="19.5" height="19.5" fill="#4f4fff"/><rect x="928" y="352" width="19.5" height="19.5" fill="#4f4fff"/><rect x="947" y="352" width="19.5" height="19.5" fill="#5151ff"/><rect x="966" y="352" width="19.5" height="19.5" fill="#5656ff"/><rect x="985" y="352" width="19.5" height="19.5" fill="#5e5eff"/><rect x="1004" y="352" width="19.5" height="19.5" fill="#6a6aff"/><rect x="1023" y="352" width="19.5" height="19.5" fill="#7a7aff"/><rect x="1042" y="352" width="19.5" height="19.5" fill="#8a8aff"/><rect x="1061" y="352" width="19.5" height="19.5" fill="#9797ff"/><rect x="1080" y="352" width="19.5" height="19.5" fill="#9c9cff"/><rect x="1099" y="352" width="19.5" height="19.5" fill="#9797ff"/><rect x="1118" y="352" width="19.5" height="19.5" fill="#8a8aff"/><rect x="1137" y="352" width="19.5" height="19.5" fill="#7979ff"/><rect x="1156" y="352" width="19.5" height="19.5" fill="#6e6eff"/><rect x="1175" y="352" width="19.5" height="19.5" fill="#6f6fff"/><rect x="1194" y="352" width="19.5" height="19.5" fill="#8282ff"/><rect x="1213" y="352" width="19.5" height="19.5" fill="#a0a0ff"/><rect x="1232" y="352" width="19.5" height="19.5" fill="#a0a0ff"/><rect x="681" y="371" width="19.5" height="19.5" fill="#b9b9ff"/><rect x="700" y="371" width="19.5" height="19.5" fill="#b9b9ff"/><rect x="719" y="371" width="19.5" height="19.5" fill="#a8a8ff"/><rect x="738" y="371" width="19.5" height="19.5" fill="#9d9dff"/><rect x="757" y="371" width="19.5" height="19.5" fill="#9898ff"/><rect x="776" y="371" width="19.5" height="19.5" fill="#9696ff"/><rect x="795" y="371" width="19.5" height="19.5" fill="#9696ff"/><rect x="814" y="371" width="19.5" height="19.5" fill="#9595ff"/><rect x="833" y="371" width="19.5" height="19.5" fill="#9393ff"/><rect x="852" y="371" width="19.5" height="19.5" fill="#9191ff"/><rect x="871" y="371" width="19.5" height="19.5" fill="#9292ff"/><rect x="890" y="371" width="19.5" height="19.5" fill="#9595ff"/><rect x="909" y="371" width="19.5" height="19.5" fill="#9999ff"/><rect x="928" y="371" width="19.5" height="19.5" fill="#9e9eff"/><rect x="947" y="371" width="19.5" height="19.5" fill="#a2a2ff"/><rect x="966" y="371" width="19.5" height="19.5" fill="#a6a6ff"/><rect x="985" y="371" width="19.5" height="19.5" fill="#ababff"/><rect x="1004" y="371" width="19.5" height="19.5" fill="#b2b2ff"/><rect x="1023" y="371" width="19.5" height="19.5" fill="#bbbbff"/><rect x="1042" y="371" width="19.5" height="19.5" fill="#c4c4ff"/><rect x="1061" y="371" width="19.5" height="19.5" fill="#cbcbff"/><rect x="1080" y="371" width="19.5" height="19.5" fill="#cacaff"/><rect x="1099" y="371" width="19.5" height="19.5" fill="#c3c3ff"/><rect x="1118" y="371" width="19.5" height="19.5" fill="#b5b5ff"/><rect x="1137" y="371" width="19.5" height="19.5" fill="#a5a5ff"/><rect x="1156" y="371" width="19.5" height="19.5" fill="#9b9bff"/><rect x="1175" y="371" width="19.5" height="19.5" fill="#9a9aff"/><rect x="1194" y="371" width="19.5" height="19.5" fill="#a7a7ff"/><rect x="1213" y="371" width="19.5" height="19.5" fill="#bbbbff"/><rect x="1232" y="371" width="19.5" height="19.5" fill="#bbbbff"/><rect x="681" y="390" width="19.5" height="19.5" fill="#c7c7ff"/><rect x="700" y="390" width="19.5" height="19.5" fill="#c7c7ff"/><rect x="719" y="390" width="19.5" height="19.5" fill="#bebeff"/><rect x="738" y="390" width="19.5" height="19.5" fill="#babaff"/><rect x="757" y="390" width="19.5" height="19.5" fill="#b8b8ff"/><rect x="776" y="390" width="19.5" height="19.5" fill="#b6b6ff"/><rect x="795" y="390" width="19.5" height="19.5" fill="#b3b3ff"/><rect x="814" y="390" width="19.5" height="19.5" fill="#afafff"/><rect x="833" y="390" width="19.5" height="19.5" fill="#adadff"/><rect x="852" y="390" width="19.5" height="19.5" fill="#afafff"/><rect x="871" y="390" width="19.5" height="19.5" fill="#b5b5ff"/><rect x="890" y="390" width="19.5" height="19.5" fill="#bdbdff"/><rect x="909" y="390" width="19.5" height="19.5" fill="#c4c4ff"/><rect x="928" y="390" width="19.5" height="19.5" fill="#c9c9ff"/><rect x="947" y="390" width="19.5" height="19.5" fill="#cbcbff"/><rect x="966" y="390" width="19.5" height="19.5" fill="#ccccff"/><rect x="985" y="390" width="19.5" height="19.5" fill="#ceceff"/><rect x="1004" y="390" width="19.5" height="19.5" fill="#d2d2ff"/><rect x="1023" y="390" width="19.5" height="19.5" fill="#d7d7ff"/><rect x="1042" y="390" width="19.5" height="19.5" fill="#dcdcff"/><rect x="1061" y="390" width="19.5" height="19.5" fill="#ddddff"/><rect x="1080" y="390" width="19.5" height="19.5" fill="#dadaff"/><rect x="1099" y="390" width="19.5" height="19.5" fill="#d1d1ff"/><rect x="1118" y="390" width="19.5" height="19.5" fill="#c6c6ff"/><rect x="1137" y="390" width="19.5" height="19.5" fill="#bbbbff"/><rect x="1156" y="390" width="19.5" height="19.5" fill="#b5b5ff"/><rect x="1175" y="390" width="19.5" height="19.5" fill="#b6b6ff"/><rect x="1194" y="390" width="19.5" height="19.5" fill="#c0c0ff"/><rect x="1213" y="390" width="19.5" height="19.5" fill="#cfcfff"/><rect x="1232" y="390" width="19.5" height="19.5" fill="#cfcfff"/><rect x="681" y="409" width="19.5" height="19.5" fill="#cacaff"/><rect x="700" y="409" width="19.5" height="19.5" fill="#cacaff"/><rect x="719" y="409" width="19.5" height="19.5" fill="#c6c6ff"/><rect x="738" y="409" width="19.5" height="19.5" fill="#c6c6ff"/><rect x="757" y="409" width="19.5" height="19.5" fill="#c7c7ff"/><rect x="776" y="409" width="19.5" height="19.5" fill="#c7c7ff"/><rect x="795" y="409" width="19.5" height="19.5" fill="#c4c4ff"/><rect x="814" y="409" width="19.5" height="19.5" fill="#c0c0ff"/><rect x="833" y="409" width="19.5" height="19.5" fill="#c0c0ff"/><rect x="852" y="409" width="19.5" height="19.5" fill="#c3c3ff"/><rect x="871" y="409" width="19.5" height="19.5" fill="#cacaff"/><rect x="890" y="409" width="19.5" height="19.5" fill="#d1d1ff"/><rect x="909" y="409" width="19.5" height="19.5" fill="#d5d5ff"/><rect x="928" y="409" width="19.5" height="19.5" fill="#d6d6ff"/><rect x="947" y="409" width="19.5" height="19.5" fill="#d5d5ff"/><rect x="966" y="409" width="19.5" height="19.5" fill="#d4d4ff"/><rect x="985" y="409" width="19.5" height="19.5" fill="#d5d5ff"/><rect x="1004" y="409" width="19.5" height="19.5" fill="#d9d9ff"/><rect x="1023" y="409" width="19.5" height="19.5" fill="#ddddff"/><rect x="1042" y="409" width="19.5" height="19.5" fill="#dfdfff"/><rect x="1061" y="409" width="19.5" height="19.5" fill="#dedeff"/><rect x="1080" y="409" width="19.5" height="19.5" fill="#d8d8ff"/><rect x="1099" y="409" width="19.5" height="19.5" fill="#d1d1ff"/><rect x="1118" y="409" width="19.5" height="19.5" fill="#c9c9ff"/><rect x="1137" y="409" width="19.5" height="19.5" fill="#c3c3ff"/><rect x="1156" y="409" width="19.5" height="19.5" fill="#c2c2ff"/><rect x="1175" y="409" width="19.5" height="19.5" fill="#c6c6ff"/><rect x="1194" y="409" width="19.5" height="19.5" fill="#ceceff"/><rect x="1213" y="409" width="19.5" height="19.5" fill="#dadaff"/><rect x="1232" y="409" width="19.5" height="19.5" fill="#dadaff"/><rect x="681" y="428" width="19.5" height="19.5" fill="#ceceff"/><rect x="700" y="428" width="19.5" height="19.5" fill="#ceceff"/><rect x="719" y="428" width="19.5" height="19.5" fill="#cbcbff"/><rect x="738" y="428" width="19.5" height="19.5" fill="#ccccff"/><rect x="757" y="428" width="19.5" height="19.5" fill="#ceceff"/><rect x="776" y="428" width="19.5" height="19.5" fill="#cfcfff"/><rect x="795" y="428" width="19.5" height="19.5" fill="#ceceff"/><rect x="814" y="428" width="19.5" height="19.5" fill="#cdcdff"/><rect x="833" y="428" width="19.5" height="19.5" fill="#ceceff"/><rect x="852" y="428" width="19.5" height="19.5" fill="#d3d3ff"/><rect x="871" y="428" width="19.5" height="19.5" fill="#d8d8ff"/><rect x="890" y="428" width="19.5" height="19.5" fill="#dbdbff"/><rect x="909" y="428" width="19.5" height="19.5" fill="#dbdbff"/><rect x="928" y="428" width="19.5" height="19.5" fill="#d7d7ff"/><rect x="947" y="428" width="19.5" height="19.5" fill="#d3d3ff"/><rect x="966" y="428" width="19.5" height="19.5" fill="#d2d2ff"/><rect x="985" y="428" width="19.5" height="19.5" fill="#d5d5ff"/><rect x="1004" y="428" width="19.5" height="19.5" fill="#dadaff"/><rect x="1023" y="428" width="19.5" height="19.5" fill="#dfdfff"/><rect x="1042" y="428" width="19.5" height="19.5" fill="#e1e1ff"/><rect x="1061" y="428" width="19.5" height="19.5" fill="#dedeff"/><rect x="1080" y="428" width="19.5" height="19.5" fill="#d8d8ff"/><rect x="1099" y="428" width="19.5" height="19.5" fill="#d1d1ff"/><rect x="1118" y="428" width="19.5" height="19.5" fill="#ccccff"/><rect x="1137" y="428" width="19.5" height="19.5" fill="#cacaff"/><rect x="1156" y="428" width="19.5" height="19.5" fill="#cbcbff"/><rect x="1175" y="428" width="19.5" height="19.5" fill="#d0d0ff"/><rect x="1194" y="428" width="19.5" height="19.5" fill="#d7d7ff"/><rect x="1213" y="428" width="19.5" height="19.5" fill="#e1e1ff"/><rect x="1232" y="428" width="19.5" height="19.5" fill="#e1e1ff"/><rect x="681" y="447" width="19.5" height="19.5" fill="#d7d7ff"/><rect x="700" y="447" width="19.5" height="19.5" fill="#d7d7ff"/><rect x="719" y="447" width="19.5" height="19.5" fill="#d3d3ff"/><rect x="738" y="447" width="19.5" height="19.5" fill="#d4d4ff"/><rect x="757" y="447" width="19.5" height="19.5" fill="#d5d5ff"/><rect x="776" y="447" width="19.5" height="19.5" fill="#d6d6ff"/><rect x="795" y="447" width="19.5" height="19.5" fill="#d7d7ff"/><rect x="814" y="447" width="19.5" height="19.5" fill="#d8d8ff"/><rect x="833" y="447" width="19.5" height="19.5" fill="#dbdbff"/><rect x="852" y="447" width="19.5" height="19.5" fill="#dfdfff"/><rect x="871" y="447" width="19.5" height="19.5" fill="#e3e3ff"/><rect x="890" y="447" width="19.5" height="19.5" fill="#e3e3ff"/><rect x="909" y="447" width="19.5" height="19.5" fill="#dfdfff"/><rect x="928" y="447" width="19.5" height="19.5" fill="#d9d9ff"/><rect x="947" y="447" width="19.5" height="19.5" fill="#d4d4ff"/><rect x="966" y="447" width="19.5" height="19.5" fill="#d4d4ff"/><rect x="985" y="447" width="19.5" height="19.5" fill="#d9d9ff"/><rect x="1004" y="447" width="19.5" height="19.5" fill="#e1e1ff"/><rect x="1023" y="447" width="19.5" height="19.5" fill="#e7e7ff"/><rect x="1042" y="447" width="19.5" height="19.5" fill="#e9e9ff"/><rect x="1061" y="447" width="19.5" height="19.5" fill="#e6e6ff"/><rect x="1080" y="447" width="19.5" height="19.5" fill="#e0e0ff"/><rect x="1099" y="447" width="19.5" height="19.5" fill="#dadaff"/><rect x="1118" y="447" width="19.5" height="19.5" fill="#d6d6ff"/><rect x="1137" y="447" width="19.5" height="19.5" fill="#d5d5ff"/><rect x="1156" y="447" width="19.5" height="19.5" fill="#d6d6ff"/><rect x="1175" y="447" width="19.5" height="19.5" fill="#d9d9ff"/><rect x="1194" y="447" width="19.5" height="19.5" fill="#dfdfff"/><rect x="1213" y="447" width="19.5" height="19.5" fill="#e6e6ff"/><rect x="1232" y="447" width="19.5" height="19.5" fill="#e6e6ff"/><rect x="681" y="466" width="19.5" height="19.5" fill="#e2e2ff"/><rect x="700" y="466" width="19.5" height="19.5" fill="#e2e2ff"/><rect x="719" y="466" width="19.5" height="19.5" fill="#dfdfff"/><rect x="738" y="466" width="19.5" height="19.5" fill="#dfdfff"/><rect x="757" y="466" width="19.5" height="19.5" fill="#e0e0ff"/><rect x="776" y="466" width="19.5" height="19.5" fill="#e1e1ff"/><rect x="795" y="466" width="19.5" height="19.5" fill="#e3e3ff"/><rect x="814" y="466" width="19.5" height="19.5" fill="#e5e5ff"/><rect x="833" y="466" width="19.5" height="19.5" fill="#e8e8ff"/><rect x="852" y="466" width="19.5" height="19.5" fill="#ebebff"/><rect x="871" y="466" width="19.5" height="19.5" fill="#ededff"/><rect x="890" y="466" width="19.5" height="19.5" fill="#ececff"/><rect x="909" y="466" width="19.5" height="19.5" fill="#e8e8ff"/><rect x="928" y="466" width="19.5" height="19.5" fill="#e2e2ff"/><rect x="947" y="466" width="19.5" height="19.5" fill="#dedeff"/><rect x="966" y="466" width="19.5" height="19.5" fill="#dedeff"/><rect x="985" y="466" width="19.5" height="19.5" fill="#e3e3ff"/><rect x="1004" y="466" width="19.5" height="19.5" fill="#eaeaff"/><rect x="1023" y="466" width="19.5" height="19.5" fill="#f0f0ff"/><rect x="1042" y="466" width="19.5" height="19.5" fill="#f2f2ff"/><rect x="1061" y="466" width="19.5" height="19.5" fill="#f1f1ff"/><rect x="1080" y="466" width="19.5" height="19.5" fill="#eeeeff"/><rect x="1099" y="466" width="19.5" height="19.5" fill="#e9e9ff"/><rect x="1118" y="466" width="19.5" height="19.5" fill="#e6e6ff"/><rect x="1137" y="466" width="19.5" height="19.5" fill="#e4e4ff"/><rect x="1156" y="466" width="19.5" height="19.5" fill="#e4e4ff"/><rect x="1175" y="466" width="19.5" height="19.5" fill="#e5e5ff"/><rect x="1194" y="466" width="19.5" height="19.5" fill="#e9e9ff"/><rect x="1213" y="466" width="19.5" height="19.5" fill="#eeeeff"/><rect x="1232" y="466" width="19.5" height="19.5" fill="#eeeeff"/><rect x="681" y="485" width="19.5" height="19.5" fill="#ececff"/><rect x="700" y="485" width="19.5" height="19.5" fill="#ececff"/><rect x="719" y="485" width="19.5" height="19.5" fill="#ebebff"/><rect x="738" y="485" width="19.5" height="19.5" fill="#ebebff"/><rect x="757" y="485" width="19.5" height="19.5" fill="#ededff"/><rect x="776" y="485" width="19.5" height="19.5" fill="#eeeeff"/><rect x="795" y="485" width="19.5" height="19.5" fill="#efefff"/><rect x="814" y="485" width="19.5" height="19.5" fill="#f1f1ff"/><rect x="833" y="485" width="19.5" height="19.5" fill="#f3f3ff"/><rect x="852" y="485" width="19.5" height="19.5" fill="#f4f4ff"/><rect x="871" y="485" width="19.5" height="19.5" fill="#f5f5ff"/><rect x="890" y="485" width="19.5" height="19.5" fill="#f4f4ff"/><rect x="909" y="485" width="19.5" height="19.5" fill="#f1f1ff"/><rect x="928" y="485" width="19.5" height="19.5" fill="#ededff"/><rect x="947" y="485" width="19.5" height="19.5" fill="#eaeaff"/><rect x="966" y="485" width="19.5" height="19.5" fill="#eaeaff"/><rect x="985" y="485" width="19.5" height="19.5" fill="#ececff"/><rect x="1004" y="485" width="19.5" height="19.5" fill="#f1f1ff"/><rect x="1023" y="485" width="19.5" height="19.5" fill="#f5f5ff"/><rect x="1042" y="485" width="19.5" height="19.5" fill="#f8f8ff"/><rect x="1061" y="485" width="19.5" height="19.5" fill="#f9f9ff"/><rect x="1080" y="485" width="19.5" height="19.5" fill="#f8f8ff"/><rect x="1099" y="485" width="19.5" height="19.5" fill="#f6f6ff"/><rect x="1118" y="485" width="19.5" height="19.5" fill="#f4f4ff"/><rect x="1137" y="485" width="19.5" height="19.5" fill="#f2f2ff"/><rect x="1156" y="485" width="19.5" height="19.5" fill="#f2f2ff"/><rect x="1175" y="485" width="19.5" height="19.5" fill="#f2f2ff"/><rect x="1194" y="485" width="19.5" height="19.5" fill="#f3f3ff"/><rect x="1213" y="485" width="19.5" height="19.5" fill="#f6f6ff"/><rect x="1232" y="485" width="19.5" height="19.5" fill="#f6f6ff"/><rect x="681" y="504" width="19.5" height="19.5" fill="#f3f3ff"/><rect x="700" y="504" width="19.5" height="19.5" fill="#f3f3ff"/><rect x="719" y="504" width="19.5" height="19.5" fill="#f2f2ff"/><rect x="738" y="504" width="19.5" height="19.5" fill="#f4f4ff"/><rect x="757" y="504" width="19.5" height="19.5" fill="#f5f5ff"/><rect x="776" y="504" width="19.5" height="19.5" fill="#f7f7ff"/><rect x="795" y="504" width="19.5" height="19.5" fill="#f7f7ff"/><rect x="814" y="504" width="19.5" height="19.5" fill="#f7f7ff"/><rect x="833" y="504" width="19.5" height="19.5" fill="#f7f7ff"/><rect x="852" y="504" width="19.5" height="19.5" fill="#f8f8ff"/><rect x="871" y="504" width="19.5" height="19.5" fill="#f8f8ff"/><rect x="890" y="504" width="19.5" height="19.5" fill="#f8f8ff"/><rect x="909" y="504" width="19.5" height="19.5" fill="#f8f8ff"/><rect x="928" y="504" width="19.5" height="19.5" fill="#f6f6ff"/><rect x="947" y="504" width="19.5" height="19.5" fill="#f3f3ff"/><rect x="966" y="504" width="19.5" height="19.5" fill="#f2f2ff"/><rect x="985" y="504" width="19.5" height="19.5" fill="#f3f3ff"/><rect x="1004" y="504" width="19.5" height="19.5" fill="#f5f5ff"/><rect x="1023" y="504" width="19.5" height="19.5" fill="#f9f9ff"/><rect x="1042" y="504" width="19.5" height="19.5" fill="#fbfbff"/><rect x="1061" y="504" width="19.5" height="19.5" fill="#fcfcff"/><rect x="1080" y="504" width="19.5" height="19.5" fill="#fdfdff"/><rect x="1099" y="504" width="19.5" height="19.5" fill="#fcfcff"/><rect x="1118" y="504" width="19.5" height="19.5" fill="#fcfcff"/><rect x="1137" y="504" width="19.5" height="19.5" fill="#fbfbff"/><rect x="1156" y="504" width="19.5" height="19.5" fill="#fafaff"/><rect x="1175" y="504" width="19.5" height="19.5" fill="#fafaff"/><rect x="1194" y="504" width="19.5" height="19.5" fill="#fafaff"/><rect x="1213" y="504" width="19.5" height="19.5" fill="#fbfbff"/><rect x="1232" y="504" width="19.5" height="19.5" fill="#fbfbff"/><rect x="681" y="523" width="19.5" height="19.5" fill="#f5f5ff"/><rect x="700" y="523" width="19.5" height="19.5" fill="#f5f5ff"/><rect x="719" y="523" width="19.5" height="19.5" fill="#f5f5ff"/><rect x="738" y="523" width="19.5" height="19.5" fill="#f7f7ff"/><rect x="757" y="523" width="19.5" height="19.5" fill="#f9f9ff"/><rect x="776" y="523" width="19.5" height="19.5" fill="#f9f9ff"/><rect x="795" y="523" width="19.5" height="19.5" fill="#f9f9ff"/><rect x="814" y="523" width="19.5" height="19.5" fill="#f7f7ff"/><rect x="833" y="523" width="19.5" height="19.5" fill="#f6f6ff"/><rect x="852" y="523" width="19.5" height="19.5" fill="#f6f6ff"/><rect x="871" y="523" width="19.5" height="19.5" fill="#f7f7ff"/><rect x="890" y="523" width="19.5" height="19.5" fill="#f9f9ff"/><rect x="909" y="523" width="19.5" height="19.5" fill="#fafaff"/><rect x="928" y="523" width="19.5" height="19.5" fill="#fafaff"/><rect x="947" y="523" width="19.5" height="19.5" fill="#f9f9ff"/><rect x="966" y="523" width="19.5" height="19.5" fill="#f8f8ff"/><rect x="985" y="523" width="19.5" height="19.5" fill="#f8f8ff"/><rect x="1004" y="523" width="19.5" height="19.5" fill="#f9f9ff"/><rect x="1023" y="523" width="19.5" height="19.5" fill="#fbfbff"/><rect x="1042" y="523" width="19.5" height="19.5" fill="#fdfdff"/><rect x="1061" y="523" width="19.5" height="19.5" fill="#fefeff"/><rect x="1080" y="523" width="19.5" height="19.5" fill="#fefeff"/><rect x="1099" y="523" width="19.5" height="19.5" fill="#fefeff"/><rect x="1118" y="523" width="19.5" height="19.5" fill="#fefeff"/><rect x="1137" y="523" width="19.5" height="19.5" fill="#fefeff"/><rect x="1156" y="523" width="19.5" height="19.5" fill="#fefeff"/><rect x="1175" y="523" width="19.5" height="19.5" fill="#fefeff"/><rect x="1194" y="523" width="19.5" height="19.5" fill="#fefeff"/><rect x="1213" y="523" width="19.5" height="19.5" fill="#fefeff"/><rect x="1232" y="523" width="19.5" height="19.5" fill="#fefeff"/><rect x="681" y="542" width="19.5" height="19.5" fill="#f7f7ff"/><rect x="700" y="542" width="19.5" height="19.5" fill="#f7f7ff"/><rect x="719" y="542" width="19.5" height="19.5" fill="#f8f8ff"/><rect x="738" y="542" width="19.5" height="19.5" fill="#f9f9ff"/><rect x="757" y="542" width="19.5" height="19.5" fill="#fafaff"/><rect x="776" y="542" width="19.5" height="19.5" fill="#fafaff"/><rect x="795" y="542" width="19.5" height="19.5" fill="#f8f8ff"/><rect x="814" y="542" width="19.5" height="19.5" fill="#f5f5ff"/><rect x="833" y="542" width="19.5" height="19.5" fill="#f3f3ff"/><rect x="852" y="542" width="19.5" height="19.5" fill="#f3f3ff"/><rect x="871" y="542" width="19.5" height="19.5" fill="#f5f5ff"/><rect x="890" y="542" width="19.5" height="19.5" fill="#f8f8ff"/><rect x="909" y="542" width="19.5" height="19.5" fill="#fafaff"/><rect x="928" y="542" width="19.5" height="19.5" fill="#fcfcff"/><rect x="947" y="542" width="19.5" height="19.5" fill="#fcfcff"/><rect x="966" y="542" width="19.5" height="19.5" fill="#fcfcff"/><rect x="985" y="542" width="19.5" height="19.5" fill="#fcfcff"/><rect x="1004" y="542" width="19.5" height="19.5" fill="#fdfdff"/><rect x="1023" y="542" width="19.5" height="19.5" fill="#fdfdff"/><rect x="1042" y="542" width="19.5" height="19.5" fill="#fefeff"/><rect x="1061" y="542" width="19.5" height="19.5" fill="#ffffff"/><rect x="1080" y="542" width="19.5" height="19.5" fill="#ffffff"/><rect x="1099" y="542" width="19.5" height="19.5" fill="#ffffff"/><rect x="1118" y="542" width="19.5" height="19.5" fill="#ffffff"/><rect x="1137" y="542" width="19.5" height="19.5" fill="#ffffff"/><rect x="1156" y="542" width="19.5" height="19.5" fill="#ffffff"/><rect x="1175" y="542" width="19.5" height="19.5" fill="#ffffff"/><rect x="1194" y="542" width="19.5" height="19.5" fill="#ffffff"/><rect x="1213" y="542" width="19.5" height="19.5" fill="#ffffff"/><rect x="1232" y="542" width="19.5" height="19.5" fill="#ffffff"/><rect x="681" y="561" width="19.5" height="19.5" fill="#fbfbff"/><rect x="700" y="561" width="19.5" height="19.5" fill="#fbfbff"/><rect x="719" y="561" width="19.5" height="19.5" fill="#fbfbff"/><rect x="738" y="561" width="19.5" height="19.5" fill="#fbfbff"/><rect x="757" y="561" width="19.5" height="19.5" fill="#fbfbff"/><rect x="776" y="561" width="19.5" height="19.5" fill="#fafaff"/><rect x="795" y="561" width="19.5" height="19.5" fill="#f7f7ff"/><rect x="814" y="561" width="19.5" height="19.5" fill="#f4f4ff"/><rect x="833" y="561" width="19.5" height="19.5" fill="#f2f2ff"/><rect x="852" y="561" width="19.5" height="19.5" fill="#f3f3ff"/><rect x="871" y="561" width="19.5" height="19.5" fill="#f5f5ff"/><rect x="890" y="561" width="19.5" height="19.5" fill="#f8f8ff"/><rect x="909" y="561" width="19.5" height="19.5" fill="#fbfbff"/><rect x="928" y="561" width="19.5" height="19.5" fill="#fdfdff"/><rect x="947" y="561" width="19.5" height="19.5" fill="#fefeff"/><rect x="966" y="561" width="19.5" height="19.5" fill="#fefeff"/><rect x="985" y="561" width="19.5" height="19.5" fill="#fefeff"/><rect x="1004" y="561" width="19.5" height="19.5" fill="#fefeff"/><rect x="1023" y="561" width="19.5" height="19.5" fill="#ffffff"/><rect x="1042" y="561" width="19.5" height="19.5" fill="#ffffff"/><rect x="1061" y="561" width="19.5" height="19.5" fill="#ffffff"/><rect x="1080" y="561" width="19.5" height="19.5" fill="#ffffff"/><rect x="1099" y="561" width="19.5" height="19.5" fill="#ffffff"/><rect x="1118" y="561" width="19.5" height="19.5" fill="#ffffff"/><rect x="1137" y="561" width="19.5" height="19.5" fill="#ffffff"/><rect x="1156" y="561" width="19.5" height="19.5" fill="#ffffff"/><rect x="1175" y="561" width="19.5" height="19.5" fill="#ffffff"/><rect x="1194" y="561" width="19.5" height="19.5" fill="#ffffff"/><rect x="1213" y="561" width="19.5" height="19.5" fill="#ffffff"/><rect x="1232" y="561" width="19.5" height="19.5" fill="#ffffff"/><rect x="681" y="580" width="19.5" height="19.5" fill="#fbfbff"/><rect x="700" y="580" width="19.5" height="19.5" fill="#fbfbff"/><rect x="719" y="580" width="19.5" height="19.5" fill="#fbfbff"/><rect x="738" y="580" width="19.5" height="19.5" fill="#fbfbff"/><rect x="757" y="580" width="19.5" height="19.5" fill="#fbfbff"/><rect x="776" y="580" width="19.5" height="19.5" fill="#fafaff"/><rect x="795" y="580" width="19.5" height="19.5" fill="#f7f7ff"/><rect x="814" y="580" width="19.5" height="19.5" fill="#f4f4ff"/><rect x="833" y="580" width="19.5" height="19.5" fill="#f2f2ff"/><rect x="852" y="580" width="19.5" height="19.5" fill="#f3f3ff"/><rect x="871" y="580" width="19.5" height="19.5" fill="#f5f5ff"/><rect x="890" y="580" width="19.5" height="19.5" fill="#f8f8ff"/><rect x="909" y="580" width="19.5" height="19.5" fill="#fbfbff"/><rect x="928" y="580" width="19.5" height="19.5" fill="#fdfdff"/><rect x="947" y="580" width="19.5" height="19.5" fill="#fefeff"/><rect x="966" y="580" width="19.5" height="19.5" fill="#fefeff"/><rect x="985" y="580" width="19.5" height="19.5" fill="#fefeff"/><rect x="1004" y="580" width="19.5" height="19.5" fill="#fefeff"/><rect x="1023" y="580" width="19.5" height="19.5" fill="#ffffff"/><rect x="1042" y="580" width="19.5" height="19.5" fill="#ffffff"/><rect x="1061" y="580" width="19.5" height="19.5" fill="#ffffff"/><rect x="1080" y="580" width="19.5" height="19.5" fill="#ffffff"/><rect x="1099" y="580" width="19.5" height="19.5" fill="#ffffff"/><rect x="1118" y="580" width="19.5" height="19.5" fill="#ffffff"/><rect x="1137" y="580" width="19.5" height="19.5" fill="#ffffff"/><rect x="1156" y="580" width="19.5" height="19.5" fill="#ffffff"/><rect x="1175" y="580" width="19.5" height="19.5" fill="#ffffff"/><rect x="1194" y="580" width="19.5" height="19.5" fill="#ffffff"/><rect x="1213" y="580" width="19.5" height="19.5" fill="#ffffff"/><rect x="1232" y="580" width="19.5" height="19.5" fill="#ffffff"/></g></g></svg>
<canvas id="hm" width="532" height="532"></canvas>
<svg width="1280" height="1280" viewBox="0 0 1280 1280">
<defs><clipPath id="c1"><rect x="59.76" y="47.81" width="532.48" height="532.43"/></clipPath><clipPath id="c2"><rect x="699.76" y="47.81" width="532.48" height="532.43"/></clipPath><clipPath id="c3"><rect x="59.76" y="687.81" width="532.48" height="532.43"/></clipPath><clipPath id="c4"><rect x="699.76" y="687.81" width="532.48" height="532.43"/></clipPath></defs>
<path d="M86.97 66.78h1.8v1.5h-1.8zM90.22 66.78h1.8v1.5h-1.8zM107.69 66.78h1.8v1.5h-1.8zM110.94 66.78h1.8v1.5h-1.8zM117.04 66.78h1.8v1.5h-1.8zM126.99 66.78h1.8v1.5h-1.8zM130.44 66.78h1.8v1.5h-1.8zM142.22 66.78h1.8v1.5h-1.8zM145.88 66.78h1.8v1.5h-1.8zM162.94 66.78h1.8v1.5h-1.8zM168.63 66.78h1.8v1.5h-1.8zM186.1 66.78h1.8v1.5h-1.8zM189.35 66.78h1.8v1.5h-1.8zM215.76 66.78h1.8v1.5h-1.8zM219.01 66.78h1.8v1.5h-1.8zM232.82 66.78h1.8v1.5h-1.8zM236.07 66.78h1.8v1.5h-1.8zM243.38 66.78h1.8v1.5h-1.8zM250.9 66.78h1.8v1.5h-1.8zM256.38 66.78h1.8v1.5h-1.8zM273.85 66.78h1.8v1.5h-1.8zM276.69 66.78h1.8v1.5h-1.8zM281.37 66.78h1.8v1.5h-1.8zM284.41 66.78h1.8v1.5h-1.8zM287.46 66.78h1.8v1.5h-1.8zM293.76 66.78h1.8v1.5h-1.8zM78.85 108.82h1.8v1.5h-1.8zM80.47 108.82h1.8v1.5h-1.8zM86.16 108.82h1.8v1.5h-1.8zM88.6 108.82h1.8v1.5h-1.8zM93.07 108.82h1.8v1.5h-1.8zM96.32 108.82h1.8v1.5h-1.8zM97.94 108.82h1.8v1.5h-1.8zM99.57 108.82h1.8v1.5h-1.8zM102.82 108.82h1.8v1.5h-1.8zM105.66 108.82h1.8v1.5h-1.8zM107.69 108.82h1.8v1.5h-1.8zM109.32 108.82h1.8v1.5h-1.8zM111.35 108.82h1.8v1.5h-1.8zM114.19 108.82h1.8v1.5h-1.8zM117.04 108.82h1.8v1.5h-1.8zM130.04 108.82h1.8v1.5h-1.8zM133.69 108.82h1.8v1.5h-1.8zM136.13 108.82h1.8v1.5h-1.8zM139.18 108.82h1.8v1.5h-1.8zM149.33 108.82h1.8v1.5h-1.8zM150.96 108.82h1.8v1.5h-1.8zM152.38 108.82h1.8v1.5h-1.8zM154.41 108.82h1.8v1.5h-1.8zM157.46 108.82h1.8v1.5h-1.8zM158.88 108.82h1.8v1.5h-1.8zM164.57 108.82h1.8v1.5h-1.8zM170.26 108.82h1.8v1.5h-1.8zM172.69 108.82h1.8v1.5h-1.8zM176.76 108.82h1.8v1.5h-1.8zM182.85 108.82h1.8v1.5h-1.8zM185.9 108.82h1.8v1.5h-1.8zM188.94 108.82h1.8v1.5h-1.8zM191.38 108.82h1.8v1.5h-1.8zM193.41 108.82h1.8v1.5h-1.8zM200.72 108.82h1.8v1.5h-1.8zM204.79 108.82h1.8v1.5h-1.8zM208.24 108.82h1.8v1.5h-1.8zM214.94 108.82h1.8v1.5h-1.8zM217.38 108.82h1.8v1.5h-1.8zM220.43 108.82h1.8v1.5h-1.8zM223.47 108.82h1.8v1.5h-1.8zM226.52 108.82h1.8v1.5h-1.8zM230.58 108.82h1.8v1.5h-1.8zM233.22 108.82h1.8v1.5h-1.8zM236.07 108.82h1.8v1.5h-1.8zM241.35 108.82h1.8v1.5h-1.8zM243.79 108.82h1.8v1.5h-1.8zM246.22 108.82h1.8v1.5h-1.8zM249.88 108.82h1.8v1.5h-1.8zM256.38 108.82h1.8v1.5h-1.8zM259.02 108.82h1.8v1.5h-1.8zM261.66 108.82h1.8v1.5h-1.8zM264.1 108.82h1.8v1.5h-1.8zM268.16 108.82h1.8v1.5h-1.8zM277.91 108.82h1.8v1.5h-1.8zM280.35 108.82h1.8v1.5h-1.8zM284.01 108.82h1.8v1.5h-1.8zM286.44 108.82h1.8v1.5h-1.8zM288.88 108.82h1.8v1.5h-1.8zM291.52 108.82h1.8v1.5h-1.8zM294.57 108.82h1.8v1.5h-1.8zM296.6 108.82h1.8v1.5h-1.8zM299.65 108.82h1.8v1.5h-1.8zM302.29 108.82h1.8v1.5h-1.8zM304.73 108.82h1.8v1.5h-1.8zM307.77 108.82h1.8v1.5h-1.8zM311.83 108.82h1.8v1.5h-1.8zM316.51 108.82h1.8v1.5h-1.8zM336.29 66.78h1.8v1.5h-1.8zM342.38 66.78h1.8v1.5h-1.8zM344.41 66.78h1.8v1.5h-1.8zM351.52 66.78h1.8v1.5h-1.8zM357.62 66.78h1.8v1.5h-1.8zM359.65 66.78h1.8v1.5h-1.8zM404.33 66.78h1.8v1.5h-1.8zM406.37 66.78h1.8v1.5h-1.8zM422.62 66.78h1.8v1.5h-1.8zM424.65 66.78h1.8v1.5h-1.8zM433.79 66.78h1.8v1.5h-1.8zM439.88 66.78h1.8v1.5h-1.8zM442.93 66.78h1.8v1.5h-1.8zM445.98 66.78h1.8v1.5h-1.8zM455.12 66.78h1.8v1.5h-1.8zM461.21 66.78h1.8v1.5h-1.8zM466.29 66.78h1.8v1.5h-1.8zM476.04 66.78h1.8v1.5h-1.8zM478.07 66.78h1.8v1.5h-1.8zM484.57 66.78h1.8v1.5h-1.8zM493.71 66.78h1.8v1.5h-1.8zM511.99 66.78h1.8v1.5h-1.8zM515.04 66.78h1.8v1.5h-1.8zM518.08 66.78h1.8v1.5h-1.8zM520.12 66.78h1.8v1.5h-1.8zM526.21 66.78h1.8v1.5h-1.8zM535.35 66.78h1.8v1.5h-1.8zM554.65 66.78h1.8v1.5h-1.8zM565.41 66.78h1.8v1.5h-1.8zM337.91 108.82h1.8v1.5h-1.8zM340.35 108.82h1.8v1.5h-1.8zM343.4 108.82h1.8v1.5h-1.8zM350.1 108.82h1.8v1.5h-1.8zM352.54 108.82h1.8v1.5h-1.8zM354.57 108.82h1.8v1.5h-1.8zM361.68 108.82h1.8v1.5h-1.8zM368.79 108.82h1.8v1.5h-1.8zM371.83 108.82h1.8v1.5h-1.8zM374.48 108.82h1.8v1.5h-1.8zM377.32 108.82h1.8v1.5h-1.8zM380.57 108.82h1.8v1.5h-1.8zM386.05 108.82h1.8v1.5h-1.8zM388.08 108.82h1.8v1.5h-1.8zM391.13 108.82h1.8v1.5h-1.8zM393.16 108.82h1.8v1.5h-1.8zM396.21 108.82h1.8v1.5h-1.8zM398.24 108.82h1.8v1.5h-1.8zM400.27 108.82h1.8v1.5h-1.8zM402.3 108.82h1.8v1.5h-1.8zM404.33 108.82h1.8v1.5h-1.8zM410.43 108.82h1.8v1.5h-1.8zM413.48 108.82h1.8v1.5h-1.8zM416.52 108.82h1.8v1.5h-1.8zM418.55 108.82h1.8v1.5h-1.8zM425.66 108.82h1.8v1.5h-1.8zM427.69 108.82h1.8v1.5h-1.8zM433.79 108.82h1.8v1.5h-1.8zM440.29 108.82h1.8v1.5h-1.8zM443.94 108.82h1.8v1.5h-1.8zM446.99 108.82h1.8v1.5h-1.8zM454.1 108.82h1.8v1.5h-1.8zM457.15 108.82h1.8v1.5h-1.8zM459.18 108.82h1.8v1.5h-1.8zM461.21 108.82h1.8v1.5h-1.8zM476.44 108.82h1.8v1.5h-1.8zM486.6 108.82h1.8v1.5h-1.8zM489.65 108.82h1.8v1.5h-1.8zM492.69 108.82h1.8v1.5h-1.8zM496.76 108.82h1.8v1.5h-1.8zM500.82 108.82h1.8v1.5h-1.8zM502.85 108.82h1.8v1.5h-1.8zM507.93 108.82h1.8v1.5h-1.8zM510.98 108.82h1.8v1.5h-1.8zM514.02 108.82h1.8v1.5h-1.8zM517.07 108.82h1.8v1.5h-1.8zM520.12 108.82h1.8v1.5h-1.8zM523.16 108.82h1.8v1.5h-1.8zM526.21 108.82h1.8v1.5h-1.8zM528.24 108.82h1.8v1.5h-1.8zM530.27 108.82h1.8v1.5h-1.8zM536.37 108.82h1.8v1.5h-1.8zM539.41 108.82h1.8v1.5h-1.8zM541.85 108.82h1.8v1.5h-1.8zM544.49 108.82h1.8v1.5h-1.8zM546.52 108.82h1.8v1.5h-1.8zM551.6 108.82h1.8v1.5h-1.8zM553.63 108.82h1.8v1.5h-1.8zM557.69 108.82h1.8v1.5h-1.8zM561.76 108.82h1.8v1.5h-1.8zM565.82 108.82h1.8v1.5h-1.8zM567.85 108.82h1.8v1.5h-1.8zM124.96 166.14h1.8v1.5h-1.8zM138.77 166.14h1.8v1.5h-1.8zM210.88 166.14h1.8v1.5h-1.8zM216.97 166.14h1.8v1.5h-1.8zM230.99 166.14h1.8v1.5h-1.8zM257.6 166.14h1.8v1.5h-1.8zM270.19 166.14h1.8v1.5h-1.8zM284.82 166.14h1.8v1.5h-1.8zM94.9 173.78h1.8v1.5h-1.8zM109.32 173.78h1.8v1.5h-1.8zM120.29 173.78h1.8v1.5h-1.8zM124.96 173.78h1.8v1.5h-1.8zM126.99 173.78h1.8v1.5h-1.8zM170.66 173.78h1.8v1.5h-1.8zM175.74 173.78h1.8v1.5h-1.8zM180.41 173.78h1.8v1.5h-1.8zM189.96 173.78h1.8v1.5h-1.8zM222.46 173.78h1.8v1.5h-1.8zM310.82 173.78h1.8v1.5h-1.8zM313.87 173.78h1.8v1.5h-1.8zM323.01 173.78h1.8v1.5h-1.8zM326.66 173.78h1.8v1.5h-1.8zM87.99 189.07h1.8v1.5h-1.8zM138.16 189.07h1.8v1.5h-1.8zM179.19 189.07h1.8v1.5h-1.8zM183.87 189.07h1.8v1.5h-1.8zM219.41 189.07h1.8v1.5h-1.8zM240.33 189.07h1.8v1.5h-1.8zM248.26 189.07h1.8v1.5h-1.8zM272.63 189.07h1.8v1.5h-1.8zM282.79 189.07h1.8v1.5h-1.8zM302.29 189.07h1.8v1.5h-1.8zM309.19 189.07h1.8v1.5h-1.8zM78.24 204.36h1.8v1.5h-1.8zM80.27 204.36h1.8v1.5h-1.8zM97.54 204.36h1.8v1.5h-1.8zM99.57 204.36h1.8v1.5h-1.8zM115.41 204.36h1.8v1.5h-1.8zM118.87 204.36h1.8v1.5h-1.8zM132.07 204.36h1.8v1.5h-1.8zM139.18 204.36h1.8v1.5h-1.8zM141.21 204.36h1.8v1.5h-1.8zM146.29 204.36h1.8v1.5h-1.8zM149.33 204.36h1.8v1.5h-1.8zM170.26 204.36h1.8v1.5h-1.8zM175.74 204.36h1.8v1.5h-1.8zM181.83 204.36h1.8v1.5h-1.8zM184.88 204.36h1.8v1.5h-1.8zM194.02 204.36h1.8v1.5h-1.8zM200.72 204.36h1.8v1.5h-1.8zM203.16 204.36h1.8v1.5h-1.8zM207.22 204.36h1.8v1.5h-1.8zM212.3 204.36h1.8v1.5h-1.8zM220.43 204.36h1.8v1.5h-1.8zM223.88 204.36h1.8v1.5h-1.8zM242.77 204.36h1.8v1.5h-1.8zM260.04 204.36h1.8v1.5h-1.8zM264.1 204.36h1.8v1.5h-1.8zM267.15 204.36h1.8v1.5h-1.8zM271.21 204.36h1.8v1.5h-1.8zM279.33 204.36h1.8v1.5h-1.8zM281.37 204.36h1.8v1.5h-1.8zM288.07 204.36h1.8v1.5h-1.8zM295.58 204.36h1.8v1.5h-1.8zM300.66 204.36h1.8v1.5h-1.8zM302.69 204.36h1.8v1.5h-1.8zM308.79 204.36h1.8v1.5h-1.8zM310.82 204.36h1.8v1.5h-1.8zM312.85 204.36h1.8v1.5h-1.8zM315.29 204.36h1.8v1.5h-1.8zM319.96 204.36h1.8v1.5h-1.8zM323.01 204.36h1.8v1.5h-1.8zM78.24 212h1.8v1.5h-1.8zM80.27 212h1.8v1.5h-1.8zM82.3 212h1.8v1.5h-1.8zM86.97 212h1.8v1.5h-1.8zM96.52 212h1.8v1.5h-1.8zM115.82 212h1.8v1.5h-1.8zM117.85 212h1.8v1.5h-1.8zM141.21 212h1.8v1.5h-1.8zM143.24 212h1.8v1.5h-1.8zM146.29 212h1.8v1.5h-1.8zM157.46 212h1.8v1.5h-1.8zM161.52 212h1.8v1.5h-1.8zM164.57 212h1.8v1.5h-1.8zM167.62 212h1.8v1.5h-1.8zM172.69 212h1.8v1.5h-1.8zM174.72 212h1.8v1.5h-1.8zM176.76 212h1.8v1.5h-1.8zM179.8 212h1.8v1.5h-1.8zM181.83 212h1.8v1.5h-1.8zM189.96 212h1.8v1.5h-1.8zM200.12 212h1.8v1.5h-1.8zM205.6 212h1.8v1.5h-1.8zM216.37 212h1.8v1.5h-1.8zM218.4 212h1.8v1.5h-1.8zM220.43 212h1.8v1.5h-1.8zM231.6 212h1.8v1.5h-1.8zM239.72 212h1.8v1.5h-1.8zM255.97 212h1.8v1.5h-1.8zM265.12 212h1.8v1.5h-1.8zM268.16 212h1.8v1.5h-1.8zM276.29 212h1.8v1.5h-1.8zM291.52 212h1.8v1.5h-1.8zM301.68 212h1.8v1.5h-1.8zM304.73 212h1.8v1.5h-1.8zM313.87 212h1.8v1.5h-1.8zM319.96 212h1.8v1.5h-1.8zM325.04 212h1.8v1.5h-1.8zM97.54 215.82h1.8v1.5h-1.8zM104.65 215.82h1.8v1.5h-1.8zM113.38 215.82h1.8v1.5h-1.8zM122.93 215.82h1.8v1.5h-1.8zM151.37 215.82h1.8v1.5h-1.8zM162.94 215.82h1.8v1.5h-1.8zM177.16 215.82h1.8v1.5h-1.8zM184.47 215.82h1.8v1.5h-1.8zM218.4 215.82h1.8v1.5h-1.8zM227.94 215.82h1.8v1.5h-1.8zM237.69 215.82h1.8v1.5h-1.8zM240.74 215.82h1.8v1.5h-1.8zM263.08 215.82h1.8v1.5h-1.8zM286.44 215.82h1.8v1.5h-1.8zM288.88 215.82h1.8v1.5h-1.8zM315.9 215.82h1.8v1.5h-1.8zM168.22 227.29h1.8v1.5h-1.8zM207.83 227.29h1.8v1.5h-1.8zM217.38 227.29h1.8v1.5h-1.8zM280.76 227.29h1.8v1.5h-1.8zM296.6 227.29h1.8v1.5h-1.8zM307.16 227.29h1.8v1.5h-1.8zM319.96 227.29h1.8v1.5h-1.8zM78.24 231.11h1.8v1.5h-1.8zM84.94 231.11h1.8v1.5h-1.8zM86.97 231.11h1.8v1.5h-1.8zM96.12 231.11h1.8v1.5h-1.8zM111.76 231.11h1.8v1.5h-1.8zM135.72 231.11h1.8v1.5h-1.8zM146.29 231.11h1.8v1.5h-1.8zM151.97 231.11h1.8v1.5h-1.8zM166.19 231.11h1.8v1.5h-1.8zM168.63 231.11h1.8v1.5h-1.8zM187.32 231.11h1.8v1.5h-1.8zM204.79 231.11h1.8v1.5h-1.8zM207.22 231.11h1.8v1.5h-1.8zM209.26 231.11h1.8v1.5h-1.8zM211.29 231.11h1.8v1.5h-1.8zM219.01 231.11h1.8v1.5h-1.8zM225.91 231.11h1.8v1.5h-1.8zM252.32 231.11h1.8v1.5h-1.8zM264.1 231.11h1.8v1.5h-1.8zM271.82 231.11h1.8v1.5h-1.8zM274.26 231.11h1.8v1.5h-1.8zM276.69 231.11h1.8v1.5h-1.8zM307.16 231.11h1.8v1.5h-1.8zM310.82 231.11h1.8v1.5h-1.8zM320.98 231.11h1.8v1.5h-1.8zM343.4 166.14h1.8v1.5h-1.8zM371.43 166.14h1.8v1.5h-1.8zM390.12 166.14h1.8v1.5h-1.8zM425.05 166.14h1.8v1.5h-1.8zM439.07 166.14h1.8v1.5h-1.8zM524.18 166.14h1.8v1.5h-1.8zM326.54 173.78h1.8v1.5h-1.8zM351.12 173.78h1.8v1.5h-1.8zM366.35 173.78h1.8v1.5h-1.8zM379.35 173.78h1.8v1.5h-1.8zM383.01 173.78h1.8v1.5h-1.8zM390.12 173.78h1.8v1.5h-1.8zM406.37 173.78h1.8v1.5h-1.8zM416.52 173.78h1.8v1.5h-1.8zM419.16 173.78h1.8v1.5h-1.8zM509.35 173.78h1.8v1.5h-1.8zM514.02 173.78h1.8v1.5h-1.8zM519.1 173.78h1.8v1.5h-1.8zM523.16 173.78h1.8v1.5h-1.8zM539.82 173.78h1.8v1.5h-1.8zM543.07 173.78h1.8v1.5h-1.8zM548.55 173.78h1.8v1.5h-1.8zM556.68 173.78h1.8v1.5h-1.8zM559.73 173.78h1.8v1.5h-1.8zM562.16 173.78h1.8v1.5h-1.8zM333.24 189.07h1.8v1.5h-1.8zM346.44 189.07h1.8v1.5h-1.8zM365.74 189.07h1.8v1.5h-1.8zM368.38 189.07h1.8v1.5h-1.8zM377.32 189.07h1.8v1.5h-1.8zM386.05 189.07h1.8v1.5h-1.8zM395.6 189.07h1.8v1.5h-1.8zM411.85 189.07h1.8v1.5h-1.8zM449.02 189.07h1.8v1.5h-1.8zM462.63 189.07h1.8v1.5h-1.8zM496.76 189.07h1.8v1.5h-1.8zM502.85 189.07h1.8v1.5h-1.8zM526.82 189.07h1.8v1.5h-1.8zM538.4 189.07h1.8v1.5h-1.8zM571.51 189.07h1.8v1.5h-1.8zM337.91 204.36h1.8v1.5h-1.8zM344.01 204.36h1.8v1.5h-1.8zM360.26 204.36h1.8v1.5h-1.8zM364.73 204.36h1.8v1.5h-1.8zM368.79 204.36h1.8v1.5h-1.8zM380.57 204.36h1.8v1.5h-1.8zM384.02 204.36h1.8v1.5h-1.8zM394.79 204.36h1.8v1.5h-1.8zM398.24 204.36h1.8v1.5h-1.8zM402.3 204.36h1.8v1.5h-1.8zM414.49 204.36h1.8v1.5h-1.8zM417.54 204.36h1.8v1.5h-1.8zM421.19 204.36h1.8v1.5h-1.8zM437.44 204.36h1.8v1.5h-1.8zM452.48 204.36h1.8v1.5h-1.8zM458.16 204.36h1.8v1.5h-1.8zM466.69 204.36h1.8v1.5h-1.8zM474.01 204.36h1.8v1.5h-1.8zM482.94 204.36h1.8v1.5h-1.8zM486.19 204.36h1.8v1.5h-1.8zM489.04 204.36h1.8v1.5h-1.8zM500.41 204.36h1.8v1.5h-1.8zM502.85 204.36h1.8v1.5h-1.8zM508.54 204.36h1.8v1.5h-1.8zM529.66 204.36h1.8v1.5h-1.8zM536.37 204.36h1.8v1.5h-1.8zM543.48 204.36h1.8v1.5h-1.8zM549.98 204.36h1.8v1.5h-1.8zM553.23 204.36h1.8v1.5h-1.8zM554.65 204.36h1.8v1.5h-1.8zM561.35 204.36h1.8v1.5h-1.8zM325.12 212h1.8v1.5h-1.8zM337.91 212h1.8v1.5h-1.8zM341.37 212h1.8v1.5h-1.8zM348.48 212h1.8v1.5h-1.8zM353.55 212h1.8v1.5h-1.8zM357.62 212h1.8v1.5h-1.8zM359.65 212h1.8v1.5h-1.8zM373.87 212h1.8v1.5h-1.8zM383.01 212h1.8v1.5h-1.8zM385.04 212h1.8v1.5h-1.8zM389.1 212h1.8v1.5h-1.8zM394.18 212h1.8v1.5h-1.8zM405.35 212h1.8v1.5h-1.8zM407.38 212h1.8v1.5h-1.8zM409.41 212h1.8v1.5h-1.8zM413.48 212h1.8v1.5h-1.8zM426.68 212h1.8v1.5h-1.8zM434.19 212h1.8v1.5h-1.8zM440.29 212h1.8v1.5h-1.8zM443.94 212h1.8v1.5h-1.8zM446.38 212h1.8v1.5h-1.8zM471.37 212h1.8v1.5h-1.8zM474.41 212h1.8v1.5h-1.8zM479.49 212h1.8v1.5h-1.8zM485.58 212h1.8v1.5h-1.8zM487.62 212h1.8v1.5h-1.8zM495.13 212h1.8v1.5h-1.8zM499.8 212h1.8v1.5h-1.8zM505.9 212h1.8v1.5h-1.8zM512.6 212h1.8v1.5h-1.8zM515.04 212h1.8v1.5h-1.8zM520.73 212h1.8v1.5h-1.8zM524.18 212h1.8v1.5h-1.8zM526.21 212h1.8v1.5h-1.8zM531.29 212h1.8v1.5h-1.8zM533.32 212h1.8v1.5h-1.8zM553.23 212h1.8v1.5h-1.8zM556.68 212h1.8v1.5h-1.8zM559.73 212h1.8v1.5h-1.8zM563.38 212h1.8v1.5h-1.8zM326.13 215.82h1.8v1.5h-1.8zM340.35 215.82h1.8v1.5h-1.8zM376.51 215.82h1.8v1.5h-1.8zM386.66 215.82h1.8v1.5h-1.8zM396.21 215.82h1.8v1.5h-1.8zM403.32 215.82h1.8v1.5h-1.8zM413.07 215.82h1.8v1.5h-1.8zM465.27 215.82h1.8v1.5h-1.8zM478.88 215.82h1.8v1.5h-1.8zM498.79 215.82h1.8v1.5h-1.8zM518.69 215.82h1.8v1.5h-1.8zM522.15 215.82h1.8v1.5h-1.8zM532.3 215.82h1.8v1.5h-1.8zM554.65 215.82h1.8v1.5h-1.8zM560.13 215.82h1.8v1.5h-1.8zM348.48 227.29h1.8v1.5h-1.8zM401.29 227.29h1.8v1.5h-1.8zM501.23 227.29h1.8v1.5h-1.8zM507.93 227.29h1.8v1.5h-1.8zM551.19 227.29h1.8v1.5h-1.8zM373.26 231.11h1.8v1.5h-1.8zM390.73 231.11h1.8v1.5h-1.8zM398.24 231.11h1.8v1.5h-1.8zM400.27 231.11h1.8v1.5h-1.8zM455.12 231.11h1.8v1.5h-1.8zM514.02 231.11h1.8v1.5h-1.8zM533.32 231.11h1.8v1.5h-1.8zM539.01 231.11h1.8v1.5h-1.8zM550.58 231.11h1.8v1.5h-1.8zM552.62 231.11h1.8v1.5h-1.8zM567.85 231.11h1.8v1.5h-1.8zM91.44 254.04h1.8v1.5h-1.8zM94.49 254.04h1.8v1.5h-1.8zM112.77 254.04h1.8v1.5h-1.8zM118.87 254.04h1.8v1.5h-1.8zM123.94 254.04h1.8v1.5h-1.8zM131.66 254.04h1.8v1.5h-1.8zM144.66 254.04h1.8v1.5h-1.8zM158.47 254.04h1.8v1.5h-1.8zM182.85 254.04h1.8v1.5h-1.8zM210.27 254.04h1.8v1.5h-1.8zM216.37 254.04h1.8v1.5h-1.8zM227.54 254.04h1.8v1.5h-1.8zM229.57 254.04h1.8v1.5h-1.8zM239.72 254.04h1.8v1.5h-1.8zM242.77 254.04h1.8v1.5h-1.8zM245.82 254.04h1.8v1.5h-1.8zM277.3 254.04h1.8v1.5h-1.8zM283.4 254.04h1.8v1.5h-1.8zM295.58 254.04h1.8v1.5h-1.8zM321.99 254.04h1.8v1.5h-1.8zM93.47 269.32h1.8v1.5h-1.8zM113.38 269.32h1.8v1.5h-1.8zM116.22 269.32h1.8v1.5h-1.8zM119.47 269.32h1.8v1.5h-1.8zM123.94 269.32h1.8v1.5h-1.8zM185.29 269.32h1.8v1.5h-1.8zM291.52 269.32h1.8v1.5h-1.8zM298.63 269.32h1.8v1.5h-1.8zM309.19 269.32h1.8v1.5h-1.8zM100.18 273.15h1.8v1.5h-1.8zM114.8 273.15h1.8v1.5h-1.8zM116.22 273.15h1.8v1.5h-1.8zM152.38 273.15h1.8v1.5h-1.8zM197.47 273.15h1.8v1.5h-1.8zM216.37 273.15h1.8v1.5h-1.8zM253.94 273.15h1.8v1.5h-1.8zM95.1 288.43h1.8v1.5h-1.8zM113.38 288.43h1.8v1.5h-1.8zM153.4 288.43h1.8v1.5h-1.8zM179.8 288.43h1.8v1.5h-1.8zM221.44 288.43h1.8v1.5h-1.8zM233.22 288.43h1.8v1.5h-1.8zM236.07 288.43h1.8v1.5h-1.8zM239.32 288.43h1.8v1.5h-1.8zM249.88 288.43h1.8v1.5h-1.8zM256.99 288.43h1.8v1.5h-1.8zM269.18 288.43h1.8v1.5h-1.8zM292.94 288.43h1.8v1.5h-1.8zM309.8 288.43h1.8v1.5h-1.8zM90.43 296.08h1.8v1.5h-1.8zM165.58 296.08h1.8v1.5h-1.8zM118.26 303.72h1.8v1.5h-1.8zM132.47 303.72h1.8v1.5h-1.8zM135.12 303.72h1.8v1.5h-1.8zM164.57 303.72h1.8v1.5h-1.8zM241.76 303.72h1.8v1.5h-1.8zM244.19 303.72h1.8v1.5h-1.8zM255.97 303.72h1.8v1.5h-1.8zM318.94 303.72h1.8v1.5h-1.8zM107.29 307.54h1.8v1.5h-1.8zM116.83 307.54h1.8v1.5h-1.8zM157.46 307.54h1.8v1.5h-1.8zM228.55 307.54h1.8v1.5h-1.8zM241.35 307.54h1.8v1.5h-1.8zM258.01 307.54h1.8v1.5h-1.8zM79.26 311.36h1.8v1.5h-1.8zM96.12 311.36h1.8v1.5h-1.8zM112.77 311.36h1.8v1.5h-1.8zM116.22 311.36h1.8v1.5h-1.8zM147.3 311.36h1.8v1.5h-1.8zM154.41 311.36h1.8v1.5h-1.8zM162.13 311.36h1.8v1.5h-1.8zM170.66 311.36h1.8v1.5h-1.8zM176.35 311.36h1.8v1.5h-1.8zM180.41 311.36h1.8v1.5h-1.8zM231.6 311.36h1.8v1.5h-1.8zM234.04 311.36h1.8v1.5h-1.8zM256.99 311.36h1.8v1.5h-1.8zM259.63 311.36h1.8v1.5h-1.8zM277.3 311.36h1.8v1.5h-1.8zM283.4 311.36h1.8v1.5h-1.8zM292.54 311.36h1.8v1.5h-1.8zM301.68 311.36h1.8v1.5h-1.8zM319.96 311.36h1.8v1.5h-1.8zM133.08 315.18h1.8v1.5h-1.8zM176.35 315.18h1.8v1.5h-1.8zM202.76 315.18h1.8v1.5h-1.8zM81.69 322.83h1.8v1.5h-1.8zM265.12 322.83h1.8v1.5h-1.8zM85.35 326.65h1.8v1.5h-1.8zM97.13 326.65h1.8v1.5h-1.8zM188.94 326.65h1.8v1.5h-1.8zM244.8 326.65h1.8v1.5h-1.8zM249.88 326.65h1.8v1.5h-1.8zM254.96 326.65h1.8v1.5h-1.8zM260.44 326.65h1.8v1.5h-1.8zM270.6 326.65h1.8v1.5h-1.8zM286.04 326.65h1.8v1.5h-1.8zM301.68 326.65h1.8v1.5h-1.8zM317.93 326.65h1.8v1.5h-1.8zM86.97 330.47h1.8v1.5h-1.8zM105.66 330.47h1.8v1.5h-1.8zM107.69 330.47h1.8v1.5h-1.8zM112.77 330.47h1.8v1.5h-1.8zM150.35 330.47h1.8v1.5h-1.8zM155.43 330.47h1.8v1.5h-1.8zM160.51 330.47h1.8v1.5h-1.8zM167.62 330.47h1.8v1.5h-1.8zM174.72 330.47h1.8v1.5h-1.8zM227.13 330.47h1.8v1.5h-1.8zM233.63 330.47h1.8v1.5h-1.8zM240.74 330.47h1.8v1.5h-1.8zM256.99 330.47h1.8v1.5h-1.8zM261.05 330.47h1.8v1.5h-1.8zM276.29 330.47h1.8v1.5h-1.8zM282.38 330.47h1.8v1.5h-1.8zM286.44 330.47h1.8v1.5h-1.8zM304.73 330.47h1.8v1.5h-1.8zM307.16 330.47h1.8v1.5h-1.8zM309.8 330.47h1.8v1.5h-1.8zM334.26 254.04h1.8v1.5h-1.8zM349.49 254.04h1.8v1.5h-1.8zM355.58 254.04h1.8v1.5h-1.8zM358.63 254.04h1.8v1.5h-1.8zM380.98 254.04h1.8v1.5h-1.8zM385.44 254.04h1.8v1.5h-1.8zM408.4 254.04h1.8v1.5h-1.8zM460.6 254.04h1.8v1.5h-1.8zM486.19 254.04h1.8v1.5h-1.8zM534.33 254.04h1.8v1.5h-1.8zM537.79 254.04h1.8v1.5h-1.8zM543.07 254.04h1.8v1.5h-1.8zM333.24 269.32h1.8v1.5h-1.8zM363.71 269.32h1.8v1.5h-1.8zM395.19 269.32h1.8v1.5h-1.8zM407.38 269.32h1.8v1.5h-1.8zM430.13 269.32h1.8v1.5h-1.8zM444.35 269.32h1.8v1.5h-1.8zM449.02 269.32h1.8v1.5h-1.8zM454.1 269.32h1.8v1.5h-1.8zM478.88 269.32h1.8v1.5h-1.8zM488.63 269.32h1.8v1.5h-1.8zM522.15 269.32h1.8v1.5h-1.8zM531.29 269.32h1.8v1.5h-1.8zM539.41 269.32h1.8v1.5h-1.8zM545.51 269.32h1.8v1.5h-1.8zM553.63 269.32h1.8v1.5h-1.8zM357.01 273.15h1.8v1.5h-1.8zM375.9 273.15h1.8v1.5h-1.8zM338.32 288.43h1.8v1.5h-1.8zM339.94 288.43h1.8v1.5h-1.8zM370.41 288.43h1.8v1.5h-1.8zM380.98 288.43h1.8v1.5h-1.8zM410.43 288.43h1.8v1.5h-1.8zM419.57 288.43h1.8v1.5h-1.8zM423.23 288.43h1.8v1.5h-1.8zM431.35 288.43h1.8v1.5h-1.8zM434.8 288.43h1.8v1.5h-1.8zM453.69 288.43h1.8v1.5h-1.8zM506.51 288.43h1.8v1.5h-1.8zM515.04 288.43h1.8v1.5h-1.8zM537.38 288.43h1.8v1.5h-1.8zM553.63 288.43h1.8v1.5h-1.8zM561.76 288.43h1.8v1.5h-1.8zM342.38 296.08h1.8v1.5h-1.8zM392.15 296.08h1.8v1.5h-1.8zM411.04 296.08h1.8v1.5h-1.8zM465.27 296.08h1.8v1.5h-1.8zM493.1 296.08h1.8v1.5h-1.8zM342.38 303.72h1.8v1.5h-1.8zM409.01 303.72h1.8v1.5h-1.8zM454.1 303.72h1.8v1.5h-1.8zM442.32 307.54h1.8v1.5h-1.8zM518.69 307.54h1.8v1.5h-1.8zM532.3 307.54h1.8v1.5h-1.8zM331.21 311.36h1.8v1.5h-1.8zM334.26 311.36h1.8v1.5h-1.8zM356.6 311.36h1.8v1.5h-1.8zM360.26 311.36h1.8v1.5h-1.8zM374.48 311.36h1.8v1.5h-1.8zM381.99 311.36h1.8v1.5h-1.8zM385.04 311.36h1.8v1.5h-1.8zM388.69 311.36h1.8v1.5h-1.8zM396.21 311.36h1.8v1.5h-1.8zM406.37 311.36h1.8v1.5h-1.8zM420.58 311.36h1.8v1.5h-1.8zM437.85 311.36h1.8v1.5h-1.8zM448.01 311.36h1.8v1.5h-1.8zM465.88 311.36h1.8v1.5h-1.8zM502.85 311.36h1.8v1.5h-1.8zM514.02 311.36h1.8v1.5h-1.8zM527.23 311.36h1.8v1.5h-1.8zM550.58 311.36h1.8v1.5h-1.8zM552.62 311.36h1.8v1.5h-1.8zM554.65 311.36h1.8v1.5h-1.8zM559.73 311.36h1.8v1.5h-1.8zM327.76 326.65h1.8v1.5h-1.8zM338.32 326.65h1.8v1.5h-1.8zM340.76 326.65h1.8v1.5h-1.8zM356.6 326.65h1.8v1.5h-1.8zM383.01 326.65h1.8v1.5h-1.8zM414.49 326.65h1.8v1.5h-1.8zM452.07 326.65h1.8v1.5h-1.8zM465.88 326.65h1.8v1.5h-1.8zM476.04 326.65h1.8v1.5h-1.8zM490.66 326.65h1.8v1.5h-1.8zM493.71 326.65h1.8v1.5h-1.8zM518.69 326.65h1.8v1.5h-1.8zM524.79 326.65h1.8v1.5h-1.8zM551.19 326.65h1.8v1.5h-1.8zM561.35 326.65h1.8v1.5h-1.8zM342.38 330.47h1.8v1.5h-1.8zM358.63 330.47h1.8v1.5h-1.8zM361.07 330.47h1.8v1.5h-1.8zM366.76 330.47h1.8v1.5h-1.8zM403.32 330.47h1.8v1.5h-1.8zM422.62 330.47h1.8v1.5h-1.8zM490.66 330.47h1.8v1.5h-1.8zM502.85 330.47h1.8v1.5h-1.8zM506.91 330.47h1.8v1.5h-1.8zM513.01 330.47h1.8v1.5h-1.8zM520.73 330.47h1.8v1.5h-1.8zM535.35 330.47h1.8v1.5h-1.8zM542.46 330.47h1.8v1.5h-1.8zM549.98 330.47h1.8v1.5h-1.8zM239.72 334.29h1.8v1.5h-1.8zM157.46 338.11h1.8v1.5h-1.8zM176.76 338.11h1.8v1.5h-1.8zM194.02 338.11h1.8v1.5h-1.8zM206.21 338.11h1.8v1.5h-1.8zM278.32 338.11h1.8v1.5h-1.8zM293.55 338.11h1.8v1.5h-1.8zM317.93 338.11h1.8v1.5h-1.8zM89.41 349.58h1.8v1.5h-1.8zM130.04 349.58h1.8v1.5h-1.8zM187.93 349.58h1.8v1.5h-1.8zM266.13 349.58h1.8v1.5h-1.8zM302.29 349.58h1.8v1.5h-1.8zM116.22 353.4h1.8v1.5h-1.8zM131.05 353.4h1.8v1.5h-1.8zM145.27 353.4h1.8v1.5h-1.8zM146.69 353.4h1.8v1.5h-1.8zM160.91 353.4h1.8v1.5h-1.8zM234.65 353.4h1.8v1.5h-1.8zM261.05 353.4h1.8v1.5h-1.8zM285.43 353.4h1.8v1.5h-1.8zM104.65 364.86h1.8v1.5h-1.8zM225.91 364.86h1.8v1.5h-1.8zM315.9 364.86h1.8v1.5h-1.8zM239.32 368.69h1.8v1.5h-1.8zM95.91 376.33h1.8v1.5h-1.8zM146.9 376.33h1.8v1.5h-1.8zM249.88 376.33h1.8v1.5h-1.8zM155.02 387.79h1.8v1.5h-1.8zM197.68 387.79h1.8v1.5h-1.8zM223.47 387.79h1.8v1.5h-1.8zM187.93 391.62h1.8v1.5h-1.8zM91.85 395.44h1.8v1.5h-1.8zM220.43 395.44h1.8v1.5h-1.8zM223.47 395.44h1.8v1.5h-1.8zM290.1 395.44h1.8v1.5h-1.8zM91.85 406.9h1.8v1.5h-1.8zM397.63 338.11h1.8v1.5h-1.8zM429.32 338.11h1.8v1.5h-1.8zM328.16 353.4h1.8v1.5h-1.8zM364.73 353.4h1.8v1.5h-1.8zM366.35 353.4h1.8v1.5h-1.8zM388.69 353.4h1.8v1.5h-1.8zM390.12 353.4h1.8v1.5h-1.8zM509.96 353.4h1.8v1.5h-1.8zM513.41 353.4h1.8v1.5h-1.8zM519.1 353.4h1.8v1.5h-1.8zM534.33 353.4h1.8v1.5h-1.8zM545.1 353.4h1.8v1.5h-1.8zM466.69 361.04h1.8v1.5h-1.8zM529.66 364.86h1.8v1.5h-1.8zM516.66 368.69h1.8v1.5h-1.8zM551.19 376.33h1.8v1.5h-1.8zM565.41 376.33h1.8v1.5h-1.8zM358.23 391.62h1.8v1.5h-1.8zM484.57 391.62h1.8v1.5h-1.8zM503.26 395.44h1.8v1.5h-1.8zM513.01 395.44h1.8v1.5h-1.8zM528.24 406.9h1.8v1.5h-1.8zM366.35 410.72h1.8v1.5h-1.8zM87.79 418.37h1.8v1.5h-1.8zM179.8 418.37h1.8v1.5h-1.8zM89.82 422.19h1.8v1.5h-1.8zM87.79 426.01h1.8v1.5h-1.8zM241.76 426.01h1.8v1.5h-1.8zM132.47 429.83h1.8v1.5h-1.8zM202.15 429.83h1.8v1.5h-1.8zM320.98 429.83h1.8v1.5h-1.8zM325.65 437.48h1.8v1.5h-1.8zM214.94 448.94h1.8v1.5h-1.8zM171.27 452.76h1.8v1.5h-1.8zM307.77 452.76h1.8v1.5h-1.8zM93.47 456.58h1.8v1.5h-1.8zM150.96 456.58h1.8v1.5h-1.8zM319.96 460.4h1.8v1.5h-1.8zM93.07 464.23h1.8v1.5h-1.8zM93.88 521.55h1.8v1.5h-1.8zM227.54 529.19h1.8v1.5h-1.8zM209.87 559.77h1.8v1.5h-1.8zM432.77 422.19h1.8v1.5h-1.8zM461.82 422.19h1.8v1.5h-1.8zM518.69 422.19h1.8v1.5h-1.8zM373.26 426.01h1.8v1.5h-1.8zM456.13 426.01h1.8v1.5h-1.8zM564.4 426.01h1.8v1.5h-1.8zM325.73 437.48h1.8v1.5h-1.8zM469.74 437.48h1.8v1.5h-1.8zM476.85 448.94h1.8v1.5h-1.8zM526.82 448.94h1.8v1.5h-1.8zM541.85 460.4h1.8v1.5h-1.8zM349.08 494.8h1.8v1.5h-1.8z" fill="#000"/>
<rect x="59.76" y="47.81" width="532.48" height="532.43" fill="none" stroke="#000" stroke-width="0.75"/>
<path d="M126.89 580.24H524.05M126.89 580.24v5.98M226.18 580.24v5.98M325.47 580.24v5.98M424.76 580.24v5.98M524.05 580.24v5.98M59.76 526.12V67.53M59.76 526.12h-5.98M59.76 449.69h-5.98M59.76 373.26h-5.98M59.76 296.83h-5.98M59.76 220.39h-5.98M59.76 143.96h-5.98M59.76 67.53h-5.98" fill="none" stroke="#000" stroke-width="0.75"/>
<text x="126.89" y="602" font-size="10" text-anchor="middle">-400</text>
<text x="226.18" y="602" font-size="10" text-anchor="middle">-200</text>
<text x="325.47" y="602" font-size="10" text-anchor="middle">0</text>
<text x="424.76" y="602" font-size="10" text-anchor="middle">200</text>
<text x="524.05" y="602" font-size="10" text-anchor="middle">400</text>
<text transform="translate(44.9 526.12) rotate(-90)" font-size="10" text-anchor="middle">88</text>
<text transform="translate(44.9 449.69) rotate(-90)" font-size="10" text-anchor="middle">90</text>
<text transform="translate(44.9 373.26) rotate(-90)" font-size="10" text-anchor="middle">92</text>
<text transform="translate(44.9 296.83) rotate(-90)" font-size="10" text-anchor="middle">94</text>
<text transform="translate(44.9 220.39) rotate(-90)" font-size="10" text-anchor="middle">96</text>
<text transform="translate(44.9 143.96) rotate(-90)" font-size="10" text-anchor="middle">98</text>
<text transform="translate(44.9 67.53) rotate(-90)" font-size="10" text-anchor="middle">100</text>
<text x="326" y="625.8" font-size="15.9" text-anchor="middle">Distance to peak summit</text>
<text transform="translate(21.9 314.02) rotate(-90)" font-size="15.9" text-anchor="middle">Motif score</text>
<text transform="translate(323 31.85) scale(1 1.06)" font-size="21.62" font-weight="bold" text-anchor="middle">Top hit for each peak</text>
<g clip-path="url(#c1)" fill="none" stroke-linecap="round"><path d="M59.76 361.79H592.24" stroke="#CD2626" stroke-width="2.25" stroke-dasharray="9 9"/><path d="M316.78 580.24V47.81M334.16 580.24V47.81" stroke="#006400" stroke-width="2.25" stroke-dasharray="9 9"/></g>
<rect x="851" y="48" width="1" height="532" fill="#fff"/><rect x="1048" y="48" width="1" height="532" fill="#fff"/>
<g clip-path="url(#c2)" fill="none" stroke-linecap="round"><path d="M699.76 365.64H1232.24" stroke="#CD2626" stroke-width="1.5" stroke-dasharray="6 6"/><path d="M956.05 580.24V47.81M974.82 580.24V47.81" stroke="#006400" stroke-width="1.5" stroke-dasharray="6 6"/></g>
<rect x="699.76" y="47.81" width="532.48" height="532.43" fill="none" stroke="#000" stroke-width="0.75"/>
<path d="M750.97 580.24H1179.91M750.97 580.24v5.98M858.2 580.24v5.98M965.44 580.24v5.98M1072.67 580.24v5.98M1179.91 580.24v5.98M699.76 543.13V47.81M699.76 543.13h-5.98M699.76 460.58h-5.98M699.76 378.03h-5.98M699.76 295.47h-5.98M699.76 212.92h-5.98M699.76 130.36h-5.98M699.76 47.81h-5.98" fill="none" stroke="#000" stroke-width="0.75"/>
<text x="750.97" y="602" font-size="10" text-anchor="middle">-400</text>
<text x="858.2" y="602" font-size="10" text-anchor="middle">-200</text>
<text x="965.44" y="602" font-size="10" text-anchor="middle">0</text>
<text x="1072.67" y="602" font-size="10" text-anchor="middle">200</text>
<text x="1179.91" y="602" font-size="10" text-anchor="middle">400</text>
<text transform="translate(684.9 543.13) rotate(-90)" font-size="10" text-anchor="middle">88</text>
<text transform="translate(684.9 460.58) rotate(-90)" font-size="10" text-anchor="middle">90</text>
<text transform="translate(684.9 378.03) rotate(-90)" font-size="10" text-anchor="middle">92</text>
<text transform="translate(684.9 295.47) rotate(-90)" font-size="10" text-anchor="middle">94</text>
<text transform="translate(684.9 212.92) rotate(-90)" font-size="10" text-anchor="middle">96</text>
<text transform="translate(684.9 130.36) rotate(-90)" font-size="10" text-anchor="middle">98</text>
<text transform="translate(684.9 47.81) rotate(-90)" font-size="10" text-anchor="middle">100</text>
<text x="966" y="625.8" font-size="15.9" text-anchor="middle">Distance to peak summit</text>
<text transform="translate(661.9 314.02) rotate(-90)" font-size="15.9" text-anchor="middle">Motif score</text>
<text transform="translate(966 31.85) scale(1 1.06)" font-size="21.62" font-weight="bold" text-anchor="middle">Density heat map for the top hits</text>
<path d="M79.48 1200.49 80.44 1200.49 81.41 1200.48 82.37 1200.47 83.34 1200.47 84.3 1200.46 85.27 1200.45 86.23 1200.44 87.19 1200.42 88.16 1200.41 89.12 1200.39 90.09 1200.37 91.05 1200.35 92.02 1200.33 92.98 1200.31 93.94 1200.28 94.91 1200.25 95.87 1200.21 96.84 1200.18 97.8 1200.14 98.77 1200.09 99.73 1200.05 100.69 1200 101.66 1199.94 102.62 1199.89 103.59 1199.82 104.55 1199.76 105.52 1199.69 106.48 1199.62 107.45 1199.54 108.41 1199.46 109.37 1199.38 110.34 1199.29 111.3 1199.2 112.27 1199.11 113.23 1199.01 114.2 1198.92 115.16 1198.82 116.12 1198.72 117.09 1198.62 118.05 1198.52 119.02 1198.42 119.98 1198.32 120.95 1198.22 121.91 1198.12 122.87 1198.02 123.84 1197.92 124.8 1197.82 125.77 1197.73 126.73 1197.64 127.7 1197.55 128.66 1197.46 129.62 1197.38 130.59 1197.3 131.55 1197.22 132.52 1197.14 133.48 1197.07 134.45 1196.99 135.41 1196.92 136.37 1196.85 137.34 1196.79 138.3 1196.72 139.27 1196.66 140.23 1196.6 141.2 1196.54 142.16 1196.48 143.12 1196.42 144.09 1196.36 145.05 1196.31 146.02 1196.25 146.98 1196.19 147.95 1196.14 148.91 1196.09 149.87 1196.03 150.84 1195.98 151.8 1195.93 152.77 1195.88 153.73 1195.83 154.7 1195.79 155.66 1195.74 156.63 1195.7 157.59 1195.65 158.55 1195.61 159.52 1195.57 160.48 1195.53 161.45 1195.49 162.41 1195.45 163.38 1195.41 164.34 1195.37 165.3 1195.32 166.27 1195.28 167.23 1195.22 168.2 1195.17 169.16 1195.1 170.13 1195.03 171.09 1194.95 172.05 1194.87 173.02 1194.76 173.98 1194.65 174.95 1194.52 175.91 1194.38 176.88 1194.21 177.84 1194.03 178.8 1193.83 179.77 1193.6 180.73 1193.35 181.7 1193.08 182.66 1192.77 183.63 1192.44 184.59 1192.08 185.55 1191.69 186.52 1191.27 187.48 1190.81 188.45 1190.32 189.41 1189.79 190.38 1189.23 191.34 1188.63 192.3 1187.99 193.27 1187.32 194.23 1186.61 195.2 1185.86 196.16 1185.08 197.13 1184.27 198.09 1183.42 199.05 1182.53 200.02 1181.62 200.98 1180.68 201.95 1179.71 202.91 1178.72 203.88 1177.71 204.84 1176.67 205.8 1175.63 206.77 1174.57 207.73 1173.5 208.7 1172.43 209.66 1171.36 210.63 1170.3 211.59 1169.24 212.56 1168.19 213.52 1167.16 214.48 1166.15 215.45 1165.16 216.41 1164.2 217.38 1163.27 218.34 1162.37 219.31 1161.5 220.27 1160.67 221.23 1159.88 222.2 1159.13 223.16 1158.41 224.13 1157.73 225.09 1157.09 226.06 1156.49 227.02 1155.93 227.98 1155.4 228.95 1154.91 229.91 1154.44 230.88 1154.01 231.84 1153.61 232.81 1153.23 233.77 1152.87 234.73 1152.54 235.7 1152.22 236.66 1151.93 237.63 1151.64 238.59 1151.38 239.56 1151.12 240.52 1150.87 241.48 1150.64 242.45 1150.41 243.41 1150.19 244.38 1149.97 245.34 1149.76 246.31 1149.55 247.27 1149.34 248.23 1149.12 249.2 1148.91 250.16 1148.69 251.13 1148.46 252.09 1148.21 253.06 1147.95 254.02 1147.67 254.98 1147.36 255.95 1147.02 256.91 1146.64 257.88 1146.22 258.84 1145.74 259.81 1145.21 260.77 1144.61 261.74 1143.93 262.7 1143.18 263.66 1142.33 264.63 1141.37 265.59 1140.32 266.56 1139.14 267.52 1137.84 268.49 1136.4 269.45 1134.83 270.41 1133.1 271.38 1131.22 272.34 1129.18 273.31 1126.96 274.27 1124.57 275.24 1122.01 276.2 1119.25 277.16 1116.31 278.13 1113.18 279.09 1109.85 280.06 1106.32 281.02 1102.59 281.99 1098.67 282.95 1094.54 283.91 1090.22 284.88 1085.71 285.84 1081 286.81 1076.11 287.77 1071.04 288.74 1065.8 289.7 1060.39 290.66 1054.83 291.63 1049.14 292.59 1043.31 293.56 1037.38 294.52 1031.36 295.49 1025.26 296.45 1019.11 297.41 1012.92 298.38 1006.73 299.34 1000.54 300.31 994.4 301.27 988.32 302.24 982.33 303.2 976.45 304.16 970.71 305.13 965.13 306.09 959.74 307.06 954.55 308.02 949.59 308.99 944.89 309.95 940.44 310.92 936.27 311.88 932.4 312.84 928.83 313.81 925.56 314.77 922.62 315.74 919.98 316.7 917.67 317.67 915.67 318.63 913.98 319.59 912.6 320.56 911.52 321.52 910.73 322.49 910.22 323.45 909.97 324.42 909.99 325.38 910.25 326.34 910.74 327.31 911.46 328.27 912.38 329.24 913.5 330.2 914.81 331.17 916.3 332.13 917.94 333.09 919.75 334.06 921.69 335.02 923.77 335.99 925.97 336.95 928.28 337.92 930.69 338.88 933.19 339.84 935.78 340.81 938.43 341.77 941.14 342.74 943.89 343.7 946.66 344.67 949.45 345.63 952.24 346.59 955.01 347.56 957.74 348.52 960.41 349.49 963.01 350.45 965.52 351.42 967.91 352.38 970.18 353.34 972.29 354.31 974.23 355.27 975.97 356.24 977.51 357.2 978.82 358.17 979.88 359.13 980.67 360.1 981.18 361.06 981.38 362.02 981.26 362.99 980.81 363.95 980.01 364.92 978.83 365.88 977.28 366.85 975.32 367.81 972.96 368.77 970.18 369.74 966.96 370.7 963.3 371.67 959.19 372.63 954.62 373.6 949.59 374.56 944.09 375.52 938.13 376.49 931.72 377.45 924.85 378.42 917.55 379.38 909.83 380.35 901.7 381.31 893.2 382.27 884.35 383.24 875.19 384.2 865.77 385.17 856.12 386.13 846.29 387.1 836.35 388.06 826.34 389.02 816.33 389.99 806.38 390.95 796.57 391.92 786.95 392.88 777.61 393.85 768.59 394.81 759.98 395.77 751.84 396.74 744.22 397.7 737.19 398.67 730.8 399.63 725.1 400.6 720.13 401.56 715.93 402.52 712.52 403.49 709.92 404.45 708.16 405.42 707.23 406.38 707.14 407.35 707.88 408.31 709.43 409.28 711.79 410.24 714.91 411.2 718.78 412.17 723.35 413.13 728.59 414.1 734.46 415.06 740.91 416.03 747.91 416.99 755.41 417.95 763.36 418.92 771.72 419.88 780.45 420.85 789.5 421.81 798.84 422.78 808.42 423.74 818.22 424.7 828.2 425.67 838.31 426.63 848.54 427.6 858.86 428.56 869.23 429.53 879.62 430.49 890.02 431.45 900.39 432.42 910.7 433.38 920.93 434.35 931.05 435.31 941.03 436.28 950.83 437.24 960.43 438.2 969.79 439.17 978.87 440.13 987.65 441.1 996.07 442.06 1004.1 443.03 1011.7 443.99 1018.82 444.95 1025.44 445.92 1031.49 446.88 1036.95 447.85 1041.76 448.81 1045.9 449.78 1049.33 450.74 1052.01 451.7 1053.9 452.67 1054.99 453.63 1055.26 454.6 1054.67 455.56 1053.22 456.53 1050.91 457.49 1047.72 458.45 1043.67 459.42 1038.77 460.38 1033.04 461.35 1026.5 462.31 1019.2 463.28 1011.16 464.24 1002.44 465.21 993.1 466.17 983.2 467.13 972.81 468.1 962 469.06 950.85 470.03 939.45 470.99 927.9 471.96 916.27 472.92 904.66 473.88 893.17 474.85 881.9 475.81 870.93 476.78 860.36 477.74 850.27 478.71 840.74 479.67 831.86 480.63 823.7 481.6 816.31 482.56 809.75 483.53 804.06 484.49 799.29 485.46 795.45 486.42 792.56 487.38 790.64 488.35 789.66 489.31 789.62 490.28 790.5 491.24 792.26 492.21 794.86 493.17 798.25 494.13 802.38 495.1 807.2 496.06 812.63 497.03 818.61 497.99 825.08 498.96 831.96 499.92 839.19 500.88 846.71 501.85 854.44 502.81 862.33 503.78 870.33 504.74 878.39 505.71 886.45 506.67 894.48 507.63 902.45 508.6 910.32 509.56 918.09 510.53 925.73 511.49 933.23 512.46 940.59 513.42 947.81 514.39 954.89 515.35 961.84 516.31 968.67 517.28 975.39 518.24 982.02 519.21 988.57 520.17 995.05 521.14 1001.48 522.1 1007.87 523.06 1014.23 524.03 1020.58 524.99 1026.91 525.96 1033.24 526.92 1039.56 527.89 1045.88 528.85 1052.2 529.81 1058.5 530.78 1064.78 531.74 1071.04 532.71 1077.26 533.67 1083.43 534.64 1089.53 535.6 1095.55 536.56 1101.47 537.53 1107.29 538.49 1112.98 539.46 1118.53 540.42 1123.92 541.39 1129.14 542.35 1134.19 543.31 1139.04 544.28 1143.7 545.24 1148.14 546.21 1152.37 547.17 1156.39 548.14 1160.18 549.1 1163.76 550.06 1167.11 551.03 1170.25 551.99 1173.17 552.96 1175.88 553.92 1178.39 554.89 1180.7 555.85 1182.82 556.81 1184.77 557.78 1186.54 558.74 1188.15 559.71 1189.6 560.67 1190.92 561.64 1192.1 562.6 1193.16 563.57 1194.1 564.53 1194.94 565.49 1195.69 566.46 1196.34 567.42 1196.92 568.39 1197.43 569.35 1197.88 570.32 1198.27 571.28 1198.6 572.24 1198.89Z" fill="#F5DEB3" stroke="#000" stroke-width="1.2"/>
<g clip-path="url(#c3)" fill="none" stroke-linecap="round"><path d="M288.32 1220.24V687.81" stroke="#CD2626" stroke-width="1.5" stroke-dasharray="6 6"/></g>
<rect x="59.76" y="687.81" width="532.48" height="532.43" fill="none" stroke="#000" stroke-width="0.75"/>
<path d="M68.52 1220.24H520.16M68.52 1220.24v5.98M219.07 1220.24v5.98M369.61 1220.24v5.98M520.16 1220.24v5.98M59.76 1200.52V699.52M59.76 1200.52h-5.98M59.76 1075.27h-5.98M59.76 950.02h-5.98M59.76 824.77h-5.98M59.76 699.52h-5.98" fill="none" stroke="#000" stroke-width="0.75"/>
<text x="68.52" y="1242" font-size="10" text-anchor="middle">85</text>
<text x="219.07" y="1242" font-size="10" text-anchor="middle">90</text>
<text x="369.61" y="1242" font-size="10" text-anchor="middle">95</text>
<text x="520.16" y="1242" font-size="10" text-anchor="middle">100</text>
<text transform="translate(44.9 1200.52) rotate(-90)" font-size="10" text-anchor="middle">0.00</text>
<text transform="translate(44.9 1075.27) rotate(-90)" font-size="10" text-anchor="middle">0.05</text>
<text transform="translate(44.9 950.02) rotate(-90)" font-size="10" text-anchor="middle">0.10</text>
<text transform="translate(44.9 824.77) rotate(-90)" font-size="10" text-anchor="middle">0.15</text>
<text transform="translate(44.9 699.52) rotate(-90)" font-size="10" text-anchor="middle">0.20</text>
<text x="326" y="1265.8" font-size="15.9" text-anchor="middle">Motif score</text>
<text transform="translate(21.9 954.02) rotate(-90)" font-size="15.9" text-anchor="middle">Density</text>
<text transform="translate(326 671.85) scale(1 1.06)" font-size="21.62" font-weight="bold" text-anchor="middle">Motif score threshold: 92.300</text>
<path d="M718.59 1199.9 719.55 1199.81 720.52 1199.71 721.48 1199.6 722.45 1199.47 723.41 1199.32 724.38 1199.15 725.34 1198.97 726.31 1198.76 727.27 1198.53 728.24 1198.27 729.2 1197.98 730.17 1197.65 731.13 1197.29 732.1 1196.89 733.06 1196.45 734.03 1195.96 734.99 1195.41 735.96 1194.82 736.92 1194.16 737.89 1193.43 738.85 1192.64 739.81 1191.77 740.78 1190.82 741.74 1189.78 742.71 1188.65 743.67 1187.42 744.64 1186.09 745.6 1184.64 746.57 1183.07 747.53 1181.38 748.5 1179.56 749.46 1177.59 750.43 1175.48 751.39 1173.22 752.36 1170.8 753.32 1168.21 754.29 1165.44 755.25 1162.5 756.22 1159.37 757.18 1156.05 758.15 1152.53 759.11 1148.81 760.08 1144.88 761.04 1140.75 762 1136.4 762.97 1131.83 763.93 1127.05 764.9 1122.04 765.86 1116.82 766.83 1111.38 767.79 1105.72 768.76 1099.85 769.72 1093.76 770.69 1087.47 771.65 1080.97 772.62 1074.28 773.58 1067.4 774.55 1060.34 775.51 1053.1 776.48 1045.71 777.44 1038.16 778.41 1030.48 779.37 1022.67 780.34 1014.74 781.3 1006.72 782.27 998.61 783.23 990.44 784.19 982.21 785.16 973.94 786.12 965.65 787.09 957.35 788.05 949.07 789.02 940.81 789.98 932.59 790.95 924.43 791.91 916.35 792.88 908.35 793.84 900.46 794.81 892.68 795.77 885.04 796.74 877.53 797.7 870.18 798.67 863 799.63 855.99 800.6 849.16 801.56 842.52 802.53 836.07 803.49 829.83 804.46 823.8 805.42 817.97 806.38 812.36 807.35 806.97 808.31 801.79 809.28 796.83 810.24 792.08 811.21 787.54 812.17 783.22 813.14 779.1 814.1 775.19 815.07 771.48 816.03 767.97 817 764.65 817.96 761.51 818.93 758.55 819.89 755.77 820.86 753.16 821.82 750.72 822.79 748.43 823.75 746.29 824.72 744.3 825.68 742.45 826.65 740.74 827.61 739.16 828.57 737.7 829.54 736.35 830.5 735.13 831.47 734.01 832.43 732.99 833.4 732.08 834.36 731.26 835.33 730.53 836.29 729.88 837.26 729.32 838.22 728.84 839.19 728.43 840.15 728.1 841.12 727.83 842.08 727.63 843.05 727.49 844.01 727.4 844.98 727.37 845.94 727.4 846.91 727.47 847.87 727.58 848.84 727.74 849.8 727.94 850.76 728.17 851.73 728.44 852.69 728.73 853.66 729.05 854.62 729.39 855.59 729.76 856.55 730.14 857.52 730.53 858.48 730.94 859.45 731.35 860.41 731.76 861.38 732.17 862.34 732.58 863.31 732.98 864.27 733.38 865.24 733.76 866.2 734.12 867.17 734.46 868.13 734.79 869.1 735.08 870.06 735.35 871.03 735.59 871.99 735.79 872.95 735.97 873.92 736.1 874.88 736.2 875.85 736.26 876.81 736.29 877.78 736.27 878.74 736.21 879.71 736.12 880.67 735.99 881.64 735.82 882.6 735.62 883.57 735.39 884.53 735.12 885.5 734.83 886.46 734.51 887.43 734.17 888.39 733.81 889.36 733.44 890.32 733.05 891.29 732.66 892.25 732.26 893.22 731.85 894.18 731.45 895.14 731.06 896.11 730.67 897.07 730.29 898.04 729.92 899 729.57 899.97 729.24 900.93 728.91 901.9 728.61 902.86 728.33 903.83 728.06 904.79 727.81 905.76 727.57 906.72 727.36 907.69 727.15 908.65 726.95 909.62 726.77 910.58 726.59 911.55 726.42 912.51 726.24 913.48 726.07 914.44 725.89 915.41 725.71 916.37 725.51 917.33 725.31 918.3 725.09 919.26 724.85 920.23 724.6 921.19 724.32 922.16 724.03 923.12 723.72 924.09 723.38 925.05 723.03 926.02 722.65 926.98 722.25 927.95 721.83 928.91 721.39 929.88 720.93 930.84 720.46 931.81 719.98 932.77 719.48 933.74 718.97 934.7 718.45 935.67 717.93 936.63 717.41 937.6 716.88 938.56 716.36 939.52 715.84 940.49 715.32 941.45 714.81 942.42 714.31 943.38 713.82 944.35 713.34 945.31 712.88 946.28 712.42 947.24 711.99 948.21 711.56 949.17 711.16 950.14 710.77 951.1 710.4 952.07 710.05 953.03 709.71 954 709.4 954.96 709.1 955.93 708.82 956.89 708.56 957.86 708.32 958.82 708.1 959.78 707.9 960.75 707.72 961.71 707.56 962.68 707.43 963.64 707.31 964.61 707.21 965.57 707.14 966.54 707.09 967.5 707.05 968.47 707.04 969.43 707.05 970.4 707.09 971.36 707.14 972.33 707.21 973.29 707.3 974.26 707.41 975.22 707.54 976.19 707.69 977.15 707.85 978.12 708.03 979.08 708.22 980.05 708.43 981.01 708.65 981.97 708.89 982.94 709.14 983.9 709.4 984.87 709.67 985.83 709.95 986.8 710.25 987.76 710.56 988.73 710.89 989.69 711.23 990.66 711.59 991.62 711.97 992.59 712.36 993.55 712.79 994.52 713.23 995.48 713.71 996.45 714.22 997.41 714.76 998.38 715.34 999.34 715.97 1000.31 716.64 1001.27 717.35 1002.24 718.13 1003.2 718.96 1004.16 719.85 1005.13 720.8 1006.09 721.82 1007.06 722.91 1008.02 724.06 1008.99 725.29 1009.95 726.6 1010.92 727.98 1011.88 729.44 1012.85 730.97 1013.81 732.58 1014.78 734.27 1015.74 736.03 1016.71 737.86 1017.67 739.77 1018.64 741.74 1019.6 743.78 1020.57 745.88 1021.53 748.05 1022.5 750.27 1023.46 752.54 1024.43 754.86 1025.39 757.23 1026.35 759.64 1027.32 762.08 1028.28 764.56 1029.25 767.06 1030.21 769.59 1031.18 772.13 1032.14 774.69 1033.11 777.25 1034.07 779.82 1035.04 782.39 1036 784.95 1036.97 787.5 1037.93 790.03 1038.9 792.54 1039.86 795.03 1040.83 797.48 1041.79 799.89 1042.76 802.26 1043.72 804.58 1044.69 806.84 1045.65 809.04 1046.62 811.18 1047.58 813.23 1048.54 815.21 1049.51 817.09 1050.47 818.89 1051.44 820.58 1052.4 822.16 1053.37 823.63 1054.33 824.98 1055.3 826.2 1056.26 827.29 1057.23 828.25 1058.19 829.06 1059.16 829.73 1060.12 830.25 1061.09 830.62 1062.05 830.83 1063.02 830.89 1063.98 830.79 1064.95 830.53 1065.91 830.11 1066.88 829.54 1067.84 828.81 1068.81 827.93 1069.77 826.91 1070.73 825.74 1071.7 824.43 1072.66 822.99 1073.63 821.42 1074.59 819.74 1075.56 817.94 1076.52 816.04 1077.49 814.05 1078.45 811.97 1079.42 809.82 1080.38 807.6 1081.35 805.33 1082.31 803.02 1083.28 800.67 1084.24 798.29 1085.21 795.91 1086.17 793.52 1087.14 791.15 1088.1 788.8 1089.07 786.48 1090.03 784.21 1091 781.99 1091.96 779.85 1092.92 777.78 1093.89 775.8 1094.85 773.92 1095.82 772.16 1096.78 770.53 1097.75 769.03 1098.71 767.67 1099.68 766.48 1100.64 765.46 1101.61 764.62 1102.57 763.97 1103.54 763.52 1104.5 763.29 1105.47 763.29 1106.43 763.52 1107.4 763.99 1108.36 764.72 1109.33 765.71 1110.29 766.97 1111.26 768.51 1112.22 770.33 1113.19 772.45 1114.15 774.86 1115.11 777.58 1116.08 780.6 1117.04 783.93 1118.01 787.57 1118.97 791.52 1119.94 795.77 1120.9 800.34 1121.87 805.2 1122.83 810.36 1123.8 815.82 1124.76 821.56 1125.73 827.58 1126.69 833.86 1127.66 840.4 1128.62 847.18 1129.59 854.2 1130.55 861.43 1131.52 868.86 1132.48 876.48 1133.45 884.26 1134.41 892.2 1135.38 900.28 1136.34 908.47 1137.3 916.76 1138.27 925.12 1139.23 933.55 1140.2 942.02 1141.16 950.51 1142.13 959 1143.09 967.48 1144.06 975.93 1145.02 984.33 1145.99 992.66 1146.95 1000.91 1147.92 1009.06 1148.88 1017.1 1149.85 1025.02 1150.81 1032.8 1151.78 1040.42 1152.74 1047.89 1153.71 1055.19 1154.67 1062.3 1155.64 1069.23 1156.6 1075.97 1157.57 1082.5 1158.53 1088.83 1159.49 1094.95 1160.46 1100.86 1161.42 1106.56 1162.39 1112.04 1163.35 1117.3 1164.32 1122.35 1165.28 1127.18 1166.25 1131.8 1167.21 1136.21 1168.18 1140.42 1169.14 1144.42 1170.11 1148.21 1171.07 1151.82 1172.04 1155.23 1173 1158.46 1173.97 1161.51 1174.93 1164.38 1175.9 1167.09 1176.86 1169.63 1177.83 1172.02 1178.79 1174.25 1179.76 1176.34 1180.72 1178.3 1181.68 1180.12 1182.65 1181.82 1183.61 1183.4 1184.58 1184.87 1185.54 1186.23 1186.51 1187.49 1187.47 1188.66 1188.44 1189.73 1189.4 1190.72 1190.37 1191.64 1191.33 1192.47 1192.3 1193.24 1193.26 1193.95 1194.23 1194.59 1195.19 1195.18 1196.16 1195.72 1197.12 1196.21 1198.09 1196.66 1199.05 1197.06 1200.02 1197.43 1200.98 1197.76 1201.94 1198.06 1202.91 1198.33 1203.87 1198.57 1204.84 1198.79 1205.8 1198.99 1206.77 1199.16 1207.73 1199.32 1208.7 1199.46 1209.66 1199.59 1210.63 1199.7 1211.59 1199.8Z" fill="#F5DEB3" stroke="#000" stroke-width="1.2"/>
<g clip-path="url(#c4)" fill="none" stroke-linecap="round"><path d="M959.38 1220.24V687.81M971.82 1220.24V687.81" stroke="#006400" stroke-width="1.5" stroke-dasharray="6 6"/></g>
<rect x="699.76" y="687.81" width="532.48" height="532.43" fill="none" stroke="#000" stroke-width="0.75"/>
<path d="M752.25 1220.24H1178.75M752.25 1220.24v5.98M823.33 1220.24v5.98M894.42 1220.24v5.98M965.5 1220.24v5.98M1036.58 1220.24v5.98M1107.67 1220.24v5.98M1178.75 1220.24v5.98M699.76 1200.52V740.75M699.76 1200.52h-5.98M699.76 1108.57h-5.98M699.76 1016.61h-5.98M699.76 924.66h-5.98M699.76 832.7h-5.98M699.76 740.75h-5.98" fill="none" stroke="#000" stroke-width="0.75"/>
<text x="752.25" y="1242" font-size="10" text-anchor="middle">-600</text>
<text x="823.33" y="1242" font-size="10" text-anchor="middle">-400</text>
<text x="894.42" y="1242" font-size="10" text-anchor="middle">-200</text>
<text x="965.5" y="1242" font-size="10" text-anchor="middle">0</text>
<text x="1036.58" y="1242" font-size="10" text-anchor="middle">200</text>
<text x="1107.67" y="1242" font-size="10" text-anchor="middle">400</text>
<text x="1178.75" y="1242" font-size="10" text-anchor="middle">600</text>
<text transform="translate(684.9 1200.52) rotate(-90)" font-size="10" text-anchor="middle">0e+00</text>
<text transform="translate(684.9 1108.57) rotate(-90)" font-size="10" text-anchor="middle">2e-04</text>
<text transform="translate(684.9 1016.61) rotate(-90)" font-size="10" text-anchor="middle">4e-04</text>
<text transform="translate(684.9 924.66) rotate(-90)" font-size="10" text-anchor="middle">6e-04</text>
<text transform="translate(684.9 832.7) rotate(-90)" font-size="10" text-anchor="middle">8e-04</text>
<text transform="translate(684.9 740.75) rotate(-90)" font-size="10" text-anchor="middle">1e-03</text>
<text x="966" y="1265.8" font-size="15.9" text-anchor="middle">Distance to peak summit</text>
<text transform="translate(661.9 954.02) rotate(-90)" font-size="15.9" text-anchor="middle">Density</text>
<text transform="translate(966 671.85) scale(1 1.06)" font-size="21.62" font-weight="bold" text-anchor="middle">Enrichment zone: 17.50</text>
<g fill="none" stroke-linecap="round"><path d="M1017.2 703.4H1042" stroke="#006400" stroke-width="1.125" stroke-dasharray="1.125 3.375"/><path d="M1017.2 718.8H1042" stroke="#CD2626" stroke-width="1.125" stroke-dasharray="1.125 3.375"/></g>
<circle cx="1029" cy="734.5" r="2.8" fill="#0000FF"/>
<text x="1052.1" y="707.9" font-size="13">enrichment zone = 17.5</text>
<text x="1052.1" y="724" font-size="13">motif score threshold = 92.300</text>
<text x="1052.1" y="738.5" font-size="13">centrality p-val = NS</text>
</svg>
<script>
(function(){
var A="ABCDEFGHIJKLMNOPQRSTUVWXYZabcdefghijklmnopqrstuvwxyz0123456789+/";
var S="NHOLPQQTRWSYTYUVVQWIW9XvYcZFZraLana/bRbebnbrbrbmbdbRbCaxaeaJZ1ZhZNY7YqYcYPYGX+X5X3X2X2X5X8X/YDYHYLYOYRYUYWYYYaYdYhYlYrYzY8ZIZWZnZ5aOala9bWbvcJcic7dRdmd4eHeTeceiekejefeYeOeCdzdidQc8cocTb+bobTa+aqaXaEZzZiZSZEY2YpYcYQYFX5XtXhXUXGW3WmWUV/VoVPUzUVT0TQSpSARUQmP2PEOQNbMmLwK6OrP1Q/SITPUVVYWYXVYOZEZ1aibLbvcOcoc+dPdbdidkdjdddTdHc4cncUcBbubbbJa5aqaeaUaNaIaGaGaHaLaPaVabahanataza4a9bCbHbMbRbXbebnbxb9cLcccvdDdadyeLele/fZfygJgfgyhChQhahhhkhjhfhYhNhAgwgegKf1fefHeveXd/dndRc7cmcSb/bubebPbBa1aoadaSaHZ8ZwZjZWZGY1YiYNX1XaW9WcV4VRUnT6TKSYRjQsPzO4N9NBMFQTRjSyUAVLWUXaYcZaaUbKb7cmdNdveMele4fGfQfVfWfSfMfCe1emeWeEdzdhdQdBczcocecYcUcScTcVcachcocwc5dCdLdUdcdkdsd0d7eDeLeVefeqe4fHfYfrgAgXgvhIhih9iXiwjJjfjzkEkSkdkkkokokkkckRkDjyjfjJixiZh+hkhJgugTf5fhfJeyedeKd4dodZdMc/c0cpcfcVcLcAb0bnbYbHa0aeaFZpZJYnYAXWWpV4VEUNTTSWRYQYPXOVNTR+TTUoV6XJYVZdahbgcadOd9enfMfrgFgagqg2g9g/g+g5gygngagMf8fsfdfNe/ezeoegebeYeXeZedekese2fAfMfYfkfwf8gHgSgdgogzg+hKhWhkhziEiWiqjAjXjwkKklk/lal0mNmjm4nKnZnknsnwnvnrnknYnJm3mimLlxlWk5kbj9jfjBikiHhshTg7glgRf/fufgfTfHe9ezeqeheYeOeDd3dpdYdFcucVb4bXayaJZcYrX3W/WDVEUCS/R5QyPqOiToVEWdXzZGaVbecjdiebfOf7gjhEhgh3iIiVidigigidiWiNiCh2hohahLg+gxgmgdgXgSgRgSgVgcgkgug6hHhWhlh0iDiSihiwi/jNjbjpj4kIkYkpk8lQlml9mWmwnKnmoBodo3pRpop+qQqfqrqzq3q3qzqrqfqPp8pmpMoxoTnznTmxmQlulOkukPjyjXi9imiSh/hvhhhUhKhAg4gxgpghgZgPgEf2fmfTe8eieEdic7cQbgasZ0Y4X4W0VuUkTZSMQ+PwVQWwYOZoa+cPdaeffegVhHhxiVizjMjejrj0j4j5j2jwjojejSjFi4isifiUiLiDh+h7h7h+iDiLiWiiixjBjSjkj2kJkbkulAlSlkl2mImamsnAnUnpn/oXowpKpmqCqfq8rYr0sOsns9tQthttt2t6t6t2tutitRs9slsKrsrMqqqHpjo+oYn0nQmtmMltlQk2kekJj2jmjZjNjEi8i1ivipijiciUiJh9hthahEgpgKfne/eRdfcobtatZoYgXVWGU1TjSPQ7WxYWZ4bVcueAfMgRhPiFi0jbj8kWkqk5lClGlHlEk+k2kskgkUkIj8jwjmjejYjUjSjUjYjfjpj1kEkVknk7lQlll7mRmnm9nTnon9oSooo9pUpqqCqbq1rRrtsKsotHtmuEuhu9vXvuwDwUwiwrwxwxwuwmwZwIvzvau+uft9tZszsLrjq7qSprpEofn8nbm9mhmIlzlglRlEk5kxkqklkgkckYkSkMkDj3jpjWjAiliGhhg3gIfUebdccYbQaEY0XhWLUzTaSBYGZvbVc1ePfjgvhziwjkkRk1lSlol4mCmHmImFl+l2lrlflTlGk6kvklkdkXkUkUkWkckkkwk+lOlhl2mMmkm8nVnuoHogo5pSpqqDqbq0rNrnsBscs5tWt1uUu1vVv2wWw1xTxvyIyeyxzBzLzSzUzRzKy9ytyYx+xhxBwev4vQumt7tPskr4rOqlp+pZo2oWn6nhnLm4mpmdmTmMmHmDmBl+l7l4lylrlglTlBkrkQjwjLighwg6f+e9d2crbbaHYwXWV6UcS+ZNa5cgeCfegyh+jCj9kvlZl6mUmmmym4m5m2mvmlmamNl/lylllZlPlHlBk+k+lAlHlQlclrl9mSmonBnbn1oRotpJplqBqcq4rTrusJsltBtet7uau6vav8wexAxjyFymzGzk0A0Z0u0/1M1V1Y1X1R1G020h0IzszLynyAxWwrv+vQuhtztFsYrtrEqdp6pZo8oioMn6nrngnXnRnNnLnKnJnInGnCm8mzmmmVmAlllFkgj0jDiLhOgLfCd0chbLZwYSWzVRTwZ/btdXe6gWhqi1j4kxlhmImmm8nLnTnVnTnMnCm2momZmKl8lvljlalTlPlOlRlWlglsl8mPmkm8nWnxoOorpJpoqGqkrCrgr+sbs5tWt0uTuyvSv0wWw5xdyBylzJzt0P0w1O1p2B2V2k2v21222y2p2b2I1w1U000Qzpy/yTxkw1wEvUujtztFsYrurGqhqApipIoyogoSoHn/n6n4n3n3n4n4n4n1nxnpndnNm5mfl/lZkuj8jEiGhBf3endTb6adY9XbV3UTabcKd0fXgziGjRkRlJl2mbm2nJnVnZnYnTnJm8mtmdmNl9lulhlWlNlHlFlGlLlTlflumBmWmunInloCohpBphqBqhrBrhsAsfs+tdt8ucu9vewAwjxHxsySy3zd0C0m1J1q2I2i253M3a3j3n3m3f3U3D2t2T101S0r0CzWyox4xGwUviuwt/tPshr2rNqoqHpppPo5onoaoPoJoFoDoEoFoHoJoKoJoFn+n0nlnRm4mZl0lJkXjfihhcgSfBdscSa0ZTXwWKUlafcNd2fZgziFjOkNlCltmPmom4nBnDm/m3mrmcmLl5lolXlIk6kwkokjkiklkrk1lDlUlomAmam2nUnzoTo0pVp2qXq4rYr4sYs4tYt5uau7vewBwlxLxwyXy9zk0J0u1Q1x2O2o293P3b3j3l3i3a3N262i2G1m1C0azvzCyTxiwvv8vJuXtls1sHrbqzqNprpOo0ofoNoAn2nwntntnunxn0n3n5n5n3nxnonanImwmSlulEkTjciehagQfAdrcRa0ZTXwWKUlaKb2dde+gWhmitjqkdlGlll7mKmQmQmKmAlylhlPk9kqkZkJj8jxjqjmjmjpjxj8kLkekzlMlmmDminCnioEolpGpnqIqprJrpsJsqtKtsuNuwvUv5wexExryRy4zd0B0j1D1f142N2d2o2v2w2r2i2T1/1n1K0o0EzbywyDxTwivwu9uKtXsmr2rIqdp0pPouoQn3ninRnEm7m2m0m0m2m5m9nBnEnGnEnAm4msmbmElolGkdjui4h8g5fxejdQb4acY8XaV3USZdbHcreIfegrhviqjakBkfkzk/lElDk7kwkhkPj8jpjWjEi1inidiWiSiTiXifiri6jNjjj8kWkzlSlxmRmynTn0oUo0pUp0qTqzrTrzsUs1tYt7ufvEvqwQw2xbyAyjzEzjz+0W0p041D1I1I1D040p0Vz8zfy+yZxyxHwavru7uJtXslr0rDqUpno9oVnxnQmzmamGl1lplglblZlaldlhlllqlulwlwlulnlclNk4kej9jXiqh3g9f9e3dscbbGZtYQWxVRTvYcaBbhc7eOfYgahRiAiljAjTjejijfjXjLi7ipiWiDhwhehOhBg3gwgsgtgxg5hFhUhmh7iTiujJjnkFkklDljmCmhnAnfn9obo5pYp3qXq3rZr7setCtmuLuwvUv3wZw5xWxwyGyZynywy1y0yvykyVyBxpxNwswJviu5uNtgsxsBrRqhpxpCoUnom/mYl1lVk5khkNj9jxjpjkjijjjmjrjwj1j6j9j/j9j4jvjhjPi3iZh1hLgbfleodmcebRaAYrXSV3UaS9XKYraHbdcsdzexfmgTg2hQhihshvhshkhXhHg1gigPf8frfbfOfDe8e5e5e9fEfPfdfvgDgZgyhMhniEihi+jbj4kVkylPlrmImknBnen9obo7pcp9qfrCrlsIsrtMtsuKumu+vTvlvyv6v+v+v4vuvgvNu1uat8tas1sOrlq6qNpgoxoDnVmol8lSkrkFjjjEipiRh+huhihahWhUhVhZhdhjhphuhzh1h1hyhrhfhPg6gff+fYerd5dAcCa/Z3YqXaWGUwTYR/VuXKYhZza+cBc9dweae8fVfnfwfzfwfofcfMe7eoeVeDdxdidVdKdDc/c+dBdHdRdedtd/eUeqfCfbf1gPgphEhfh5iTiujIjij8kXkylOlrmJmnnHnnoHoopJppqJqnrDrdr0sIsYskssswswsrshsUsCrtrUq3qYp2pRoqoCnYmtmClWkqkAjWiuiHhkhDglgKfzfgfRfFe9e5e3e4e7fAfGfNfTfYfcfdfcfXfOfBeueXd6dXcvcBbNaUZVYSXLWAUxThSOQ7UNVkW2YEZLaMbFb2cfdAdZdqdzd3d0dsdhdSdCcwcdcLb6brbdbTbLbGbEbGbLbTbdbrb6cMcfc0dKdhd4ePene+fWftgFgcg0hMhkh9iXixjMjpkGkklClgl/mdm6nWnwoJoeoxpApLpTpXpXpTpLo/ovocoFnrnOmvmNlplEkdj1jMijh6hRgqgEffe9edeAdmdPc9ctcicacVcTcUcXcccjcqcxc3c8c/dAc9c3ctcecKbxbSauaFZWYiXpWrVpUjTaSPRCP1SuUAVPWYXdYbZSaBapbJbibzb+cBcAb5bvbhbSbAavadaMZ9ZvZkZcZWZTZTZWZcZkZuZ7aKaaara+bRblb5cNchc2dKdedzeIedezfKfhf5gSgshHhih+iai3jSjukHkgk2lKlclql1l9mBmCl/l4lulglPk7kjkJjtjOiuiLhnhCgcf1fPeoeDdec7cab7bebFavacaNaBZ5Z0ZyZyZ2Z7aCaJaRaZafakananakadaRaBZsZSYyYNXjW0WAVHULTKSHRBP6OyRXSlTwU3V4W0XqYZZAZgZ5aLaXacacaWaNaBZyZiZRZAYvYgYSYHX9X2XyXwXxX0X5YBYLYWYjYwY/ZPZfZvaAaRaiazbFbWbpb7cPcjc4dOdld9eVevfIfif9gWgvhHhehziGiWikivi2i7i8i6i1itihiSiBhshVg8gggCfjfBefd7dXcycObqbGakaEZlZKYwYaYHX4XsXjXeXbXcXfXlXsX1X9YGYPYWYbYeYdYZYRYFX0XeXDWiV9VSUjTvS3R8Q9P9O6N3QNRXSgTkUkVfWUXDXrYLYmY5ZGZMZOZKZCY4YqYbYLX6XqXbXNXAW2WtWnWjWiWiWlWpWwW3XAXKXVXhXuX6YIYVYjYxZAZPZfZwaBaTama6bPblb8cTcrdDdcd0eLehe3fKfcfsf5gEgMgRgTgSgOgIf+fyfjfRe8emeMdxdUc1cVbzbRauaKZnZFYjYDXlXJWwWZWGV2VqVgVbVYVZVdVjVqV0V+WJWTWcWkWpWsWrWnWeWRV/VoVLUqUDTYSpR1Q9QDPGOHNIPTQbRiSlTlUfVVWEWtXPXrYAYPYYYbYZYUYKX+XxXhXRXBWyWkWWWLWBV5VzVvVtVsVuVwV0V6WAWHWPWYWhWrW2XBXMXZXmXzYCYSYiY0ZGZaZuaEaaawbHbeb0cKcfczdGdXdmdzd9eGeLePePeNeIeAd2dpdZdHczcccDbnbKasaLZqZIYlYDXhW/WfWBVkVKUzUfUPUBT4TyTvTwT0T7UDUOUaUmUyU+VJVRVXVZVYVTVJU7UnUOTwTNSlR4RHQTPcOhNmMoOrPzQ5R9S9T4UvVgWLWvXNXlX2YBYHYIYEX9XzXmXYXJW5WqWbWNWAV1VrVjVcVXVUVSVRVSVTVWVaVeVkVqVwV4WAWKWUWfWrW4XGXWXmX4YLYeYzZIZdZzaJafa0bIbbbtb9cMcZckcsczc2c4c3c0cuclcacMb8bpbUa8ajaHZpZJYoYGXkXBWeV8VcU8UfUETsTXTGS4SuSoSlSnSrSyS8TITWTkTzUCUPUaUjUpUrUoUiUWUFTvTTSySMRiQzQAPKOSNXMbOXPfQmRrStTrUkVXWFWsXOXoX9YLYUYXYWYRYJX+XxXjXTXEW1WnWZWMWAV2VtVlVfVaVVVSVRVQVQVRVTVWVaVfVmVtV1V/WKWWWkWzXDXUXnX6YOYjY4ZOZjZ4aMagazbEbUbjbwb6cDcKcPcRcRcPcKcDb5btbebNa4aiaIZtZPYwYPXsXJWlWBVeU8UbT9ThTISySfSRSHSAR+SASFSNSZSnS2THTZTqT6UIUTUcUhUhUdUTUETwTWS2SRRnQ5QGPROYNdMhOWPgQqRxS2T2UzVqWbXGXrYKYiY0ZAZHZJZGZAY3YsYfYRYCXzXkXVXHW6WtWiWXWOWGV+V4VzVvVrVpVpVpVrVuVyV4V/WIWTWfWsW7XLXdXwYDYYYtZCZYZtaCaXaqa9bObebsb5cEcNcUcZcccdcbcYcRcIb9bvbebKa0aaZ/ZgZAYeX6XVWwWKVlVBUfT/ThTHSwSdSOSDR9R7R9SESOSbSrS9TQTkT4ULUcUqU1U8U/U8U0UmUTT5TZS0SJRaQmPvO1N4M6OnP0RBSMTUUZVaWVXLX7YlZIZkZ7aLaWabacaZaSaJZ+ZxZiZUZEY1YmYXYJX7XuXiXWXMXCW6WzWtWoWkWiWiWjWmWrWyW6XFXRXfXvYAYSYmY7ZQZmZ8aSaoa9bSblb4cJcZcnczc+dHdPdUdXdZdYdUdPdGc7ctcccIbxbXa6abZ5ZVYvYIXhW5WRVrVHUlUFTpTRS9SuSjSdScSfSnSzTDTVTpUAUWUtVCVWVnV0V9WBV/V4VqVWU8UbT0THSVRfQlPnOnNmPIQZRqS6UHVRWXXXYTZIZ3afbBbcbxcBcKcPcPcMcFb8bxbkbVbGa3anaXaHZ3ZnZZZKY9YxYlYbYSYLYFYBX/X/YBYFYMYUYfYsY7ZMZeZyaIaea0bLbjb6cQcmc7dPdhdyeCeQedenewe4e9fAfCfBe9e4evekeVeEdvdXc7cdb7bXaxaJZfY1YKXgW3WQVsVLUtUUT/TvTlTgTgTlTuT8UOUjU7VUVtWGWfW1XHXWXhXlXkXcXOW5WcV5VPUfTpSvRwQuPpOiP2RMSiT3VKWaXlYsZuapbecNc0dVdweEeTeceheheeeXeOeDd2dndXdHc2clcTcCbwbgbPbAayalaZaQaIaCZ/Z+Z/aDaKaTafata+bQbkb6cRcpdBdadzeLeie5fOfjf1gGgWgkgwg6hDhKhOhRhShRhNhHg+gygjgQf6fgfDeid+dXcucDbWaoZ7ZNYiX4XSWuWPV1VgVQVGVCVDVKVWVmV7WTWtXJXmYCYcY1ZJZZZkZpZoZfZOY3YXXwXCWOVTUTTOSGQ7PuQuSKTmVBWaXwZCaQbYcadWeLe6fhgCgcgxg/hJhNhOhLhFg7gwgjgTgDfxfffMe5eleSd/dudddNc/czcqcjcecccdchcpczdAdPdid2eMeke9fXfygMgmhAhZhwiGiaiti+jNjajmjwj4j+kCkEkFkDj+j3jtjgjPi7ijiHhnhEgdfzfHeYdoc2cFbVamZ6ZRYsYMXwXbXLXCW/XCXLXaXtYFYgY9ZcZ8aba4bSbob5cEcIcFb6bobMapZ9ZKYQXPWIU8TtSbRHRtTPUyWTXzZQapb+dNeXfagXhMh7ijjEjejzkCkMkRkSkPkJkAj0jmjWjFixidiJhzhehJg1ghgQgAfyfmfefYfWfXfbfjfuf8gOgig4hRhriGiji/jbj3kSkrlElalumBmSmgmtm3nAnHnMnQnRnQnNnIm/m0mlmTl9ljlFkij8jSilh1hCgOfZeldxc/cQbla+adaBZrZcZUZTZYZkZ1aLambFbmcIcqdLdreGedeve5e9e4ereUd1dNccbiahZZYKW3VgUFSpSxUZWCXqZRa1cWdyfJgbhmiqjnkdlNl1mXmynHnXninnnpnmngnWnKm7mqmWmBlrlVk+knkQj7jnjVjFi4iuioilimiqizi/jOjhj3kQkrlHllmDmhm/ncn4oTorpCpWpop4qGqSqbqjqpqtqvqvqtqoqhqYqLp7pnpOoyoRnsnDmVllkxj6jDiKhSgbfme1eHdfc9cgcLb9b2b3b+cNchc7dZd7effFfqgOgvhMhkh1h/iBh6hqhPgrf9fGeGc9btaWY6XaV3UST3VlXUZDaxcdeFfphHihj0lAmFnDn6oqpUp2qSqoq5rErKrMrJrCq4qqqaqHpypbpDoroSn6ninNm5mnmZmOmGmCmDmImRmemvnDnbn1oSowpPpvqPqvrNrqsFses0tItatpt1uAuIuOuSuVuVuUuQuKuCt3totWtAsmsHrkq8qQpfornzm5l+lCkGjMiUhggxgIfkfIezemehejeue/fXf0gWg8hjiMi0jaj9kck0lFlOlOlFkxkSjpi1h3gvffeGcnbCZYXsV9U7WwYlabcPeCfxhdjDkkl/nTohpnqmresPs5tct5uQuhusuyu0uwupuduOt8tntQs4sesErrrRq6qkqRqBp1pspopoptp2qDqVqqrDrfr9sds+tfuAuhvAvdv4wRwnw6xLxYxkxsxzx3x6x6x5x2xxxqxgxTxDwvwYv7vau0uKtasmrvq0p2o3n4m5l8lCkMjbiwiMhwhchQhNhShfh0iPiwjVj/kqlVmAmpnOntoGoXofodoQn5nVmnltkojZiBgge3dJbWZhXpV9X3ZybudpfihYjKk4mgoDpfq0sCtJuJvBvzwdxBxfx2yHySyYyZyUyLx+xuxaxDwrwQv2vbvAunuQt7tqtctStNtMtQtZtnt5uPuovFvkwEwmxIxqyLyqzIziz60Q0i0x091H1N1S1V1V1U1R1M1G090x0j0Rz8zizEyhx5xMwavjuotqsqroqlpjoknnmvl9lRktkRj+j0jzj6kKkilBllmOm7nqoZpGpxqYq4rRrirprlrWq6qTpfofnUl9kdi0hDfMdQbRZQW4Y3a4c5e5g4i0ktmhoQp6rds5uPvdwkxlydzPz60e071S1j1t1y1y1s1i1T1A0r0Tz4zdzBymyMxzxdxKw7wwwpwnwqwzxAxRxnyAydy8zdz/0h1D1k2C2f253Q3k314C4M4U4Z4b4c4b4X4T4M4E363t3d3K2z2Y141T0pz6zGyNxPwOvLuGtBr9q7p9pDoQnknAmkmSmJmKmUmnnCnkoMo5ppqbrNr9sqtTt0uOueukufuNtutDsKrFpzoWmuk+jFhGfBc6axXsZvb0d6f/iCkEmCn7pwrftJuswIxdyrzy0y1q2c3G3p4G4c4s4145424v4j4T3+3n3O2z2X171g1G0u0a0Jz8z0zxzzz60F0W0r1D1f1+2e2/3g4B4h4/5a5z6J6b6p61697D7F7G7E7B68616t6j6Y6K555l5N4w4P3p292M1W0bzcyZxTwMvFt/s7r7rBqNpgo8oioRoJoMoZoupMpxqcrNsAs1tqudvMv2wZwzxExJxCwuwNveuhtXsAqdovm4k4ixgleWcGYWaccleug2i+lDnFpDq8swuewGxozD0X1j2p3o4f5P556b627L7Z7h7j7f7W7I626h6I5u5S424a4A3n3S2/2x2n2i2h2m2w2/3S3p4D4g4/5e5+6e687Y7x8I8c8s849B9H9L9L9J9G9A868x8o8d8Q8B7v7a7B6j6B5a4u373E2H1G0Cy7xywqviudtdsirtrBqdqDpzpupyqBqZq5rhsQtDt5uxvowdxPx6yfy6zLzQzIyzyPxewevQt1sNqaodmXkLh5fjdMY1a+dIfThejnlvnzp0rwtovaxFyr0K1j203/5C5/607j8K8q9E9X9j9p9p9k9Z9K838g8H7s7R616a6B5q5W5G464y4v4y455F5W5q6C6d657W708R8t9G9e9y+D+R+b+i+l+m+k+g+b+U+L+B929q9c9M858k8K7s7K6i515C4K3M2L1Fz9y0xrwivducthstsArdrEq1qxq3rIrisFsvtguVvOwIxCx5ytzaz/0c0t0y0q0Uzwy9x7wrvMthrrpqnglOi4geeCZIbRdcfohzj+mGoMqOsMuFv4xmzO0w2M3g4v52627w8j9P90+S+p+6/E/I/H/A+0+j+P949f9F8p8O707c7H616n6d6Y6X6b6k6y7D7X7v8I8i899X9w+H+b+s+7/G/N/S/T/R/N/H/A+3+t+i+W+I959p9W8/8m8I7l696Q5d4k3n2l1g0YzOyFw8v3u2t7tIscr6rhrUrRrYrqsGsqtXuJvBv7w3xzyszh0Q031U1m1s1l1P0rz3y0xjwDuWsdqaoNl5jghDekZObXdhfsh3kBmJoOqPsNuGv6xozR002Q3n436B7E8B839m+P+x/N/h/w/4/7/4/v/i/R+9+m+N9y9Y8+8l8P777r7e7W7S7T7Z7i7w8A8U8p9A9X9t+D+W+o+2/B/K/O/Q/P/L/F+9+0+q+e+S+F939n9W9C8s8S707S6q595L4T3W2V1Q0Iy/x2wvvrurtws9sTrxrarNrLrUrnsEsptWuKvDv/w8x5yzzp0a1C1h1017111g080JzHx2wWupswqsoemKjvhRexZIbPdXfhhpjxl3n5p5r0tsvexLyz0V1x3I4Y5j6n7m8e9Q98+h/A/Z/r/4/+///7/x/k/S+++n+O919b9C8q8V8D707p7i7f7h7n7w798M8d8w9D9V9n93+F+Q+Y+e+g+f+c+W+O+E959t9h9U9G838n8V8C7r7S606S5r4/4N3W2a1a0XzRyJxCv8u4t6tBsPrmrFqvqjqiqrq/rcsCsvtkudvZwXxUyPzHz40h1B1W1f1a1H0lzzyzxjwFuasiqfoTl/jlhHeoY2a6c/fFhLjPlRnQpMrEs4unwRx2zW0w2F3U4e5i6h7a8N879j+E+g+2/H/R/W/W/Q/H+5+n+T989k9L8y8a8E7w7f7R7H7B6/7A7G7O7Z7m708D8S8f8s828+9D9G9G9D89818s8g8U8H757r7d7N696r6X6B5o5L4q4D3Y2o1z04z6y4x0wvvpultksnrwrAqYp5pjpYpXphp1qSq3rlsYtRuNvLwIxDx7ytzXz40P0Z0W0Fzmy3x5wsvRtpr0p0nqlZjCgneKYZaacbedgeiekbmVoNqArvtZu+wfx7zR0j1v2336435w6j7R768e889V9p93+A+D+C989y9j9S8+8o8Q747g7K606i6S6F57525z50555/6I6S6d6n6x667B7G7J7J7G7B666w6l6Z6L595v5g5R5B4w4e4L313c2/2f161Q0hzuy2x6w6v5u2tzsyrzq5qEpWovoRn9nynyn7oOorpPp8qurlsgtduZvUwLw9xoyKyiyuytyfyCxXwdvUt9sZqoosmnkbiIfxdZX0ZwbtdqfmhgjXlMm9oqqTr4tXuywJxaynzv0z1z2u3k4W5E5t6S6y7N7j708B8I8K8I8C737p7Y7E6u6Y6A5q5U5A4u4f4T4K4F4C4C4F4K4Q4X4e4l4q4u4w4w4u4q4j4a4P4D313n3Y3J262q2a2J131j1N010Zz5zWytyBxPwavguktmsmrmqopto1oDnXmymVmCl4l3mAmSmtnQn6orpgqZrTsOtIt+uvvav9wWwjwlwawBvZujtfsNqupDnNlOjHg6epcWXIY/a3cvelgZiKj5ljnKosqJris2uGvRwYxbyazV0M0/1v2b3D3o4I4k485Q5f5q5w5y5v5o5d5P4+4r4W4A3q3V3A2t2d2P2D17111y1y1z12161+2B2E2G2F2D1/151x1n1b1O1A0x0h0S0CzxzhzQy+yqyUx8xhxDwgv6vPugtts3r+rDqHpLoQnYmkl0lKkokNj6jwjvj3kHkhlBlpmXnJn/o3pvqmrbsLs1tYtyuBuFt8tntDsSrTqHounJlajhhhfcdSbGWYYKZ9bvdffNg4ifkDlim9oTpkqxr5s9t9u5vywnxZyJy1ze0E0n1H1k192T2k2x273A3B29222r2e2N171n1S090p0W0Fz1zpzezWzRzOzNzNzOzPzQzRzQzOzLzFy+y1yqyeyQyBxyxixSxCwxwgwPv9vpvUu8uhuEtjs+sWrpq5qGpRoanimqlzk+kNjhi6iZh/hthjhhhoh3iOirjQj6kplbmPnFn5orpaqDqlq/rPrVrPq9qdpxo3nxmflBjZhofvdxbvZrVmXUZBatcYeAfkhFihj5lMmankooppqlrdsStEtzufvJvwwWw5xax5yVyuzEzXznzzz7z/z/z7z0zqzczNy7yoyVyCxwxfxPxCw2wtwmwhwewcwbwbwawawYwVwQwKwCv4vtvgvSvEu0ukuUuDtythtQs9spsUr9rjrGqnqEpdo0oHnXmmlyk+kKjYinh6hQgsgNf0fjfZfWfbfof8gWg3hdiIi2jmkXlIl3mjnKnroFoWodoZoKnvnHmTlTkHiwhPfmd2cAaGYJU1WeYHZubSc0eSfshCiSjekklmmjnboPo/psqXq+rksIsqtLtquIuku/vXvuwCwTwgwrwyw1w1wxwqwgwUwFv1vlvTvCuyujuWuLuBt5t0twtttrtptotmtktgtbtUtMtDs3srsdsOr/rvrfrOq9qsqaqHpzpepHouoSn0nTmvmIlekykEjVilh1hHgafwfKeoeLd0djdYdUdYdidyeJemfHftgWhChuibjGjvkUkzlMldllljlXk/kbjsiyhsgdfDdib6aMYaWmUHVrXPYxaRbudGeafpgyh3i2jvkklUmBmpnOnxoRowpNppqFqfq5rTrrsCsYsrs9tMtZtitptrtrtothtYtNtAsysksVsHr5rtrirZrSrMrIrFrDrBrAq+q7q3qyqsqkqbqQqEp3pppZpKo5opoYoGn0nhnNm4mimJlulSkykQjsjGidhzhIgcfxfGedd3dTc0cZcCbybnbibjbqb3cKcic/dfeDepfRf5gghFhniEicisi0i0ipiUh1hKgVfWeMc6bgaAYaWwVETcU9WdX7ZWaucBdPeYfcgZhRiEixjaj+kfk8lXlwmHmem0nKnfn1oKogo1pJpcpup+qMqXqgqmqpqpqmqhqZqQqFp5pupipXpMpDo8o2oxotoropooonolojogocoWoPoHn9nxnlnXnIm5mpmYmHl2ljlRk9kokSj6jgjFiniIhmhDgef3fQeoeBdac1cSbybUa7amaVaJaDaCaGaPadaxbIbjcCcjdFdoeKerfKfkf5gJgRgRgIf1fZeyeCdIcEa5ZmYMWuVMToS3UVVyXMYjZ3bFcPdTeRfIf6gmhMhuiLiki6jOjfjwkAkPkfkvlAlSljl2mImamrm7nKnXninqnwn0n0nznvnpninbnSnJnBm5mzmtmomlmjmimhmhmhmgmfmdmamWmQmIl/l1lpldlPlAkwkgkPj+jsjZjFixibiEhrhRg2gYf5fZe3eUdxdNcqcHblbFanaMZ0ZfZPZCY6Y2Y3Y9ZHZVZnZ9aVaxbNbrcJcldAdXdqd3d/d+d2dldLcob8bGaIZCX1WiVLTwSSSYTzVNWlX5ZJaUbZcZdSeEexfXf3gSgpg7hLhXhihsh1h/iJiUigiti7jKjajqj6kKkZknk0k+lHlNlSlUlUlSlPlLlGlBk8k3kzkwkuktksktkukvkwkxkykxkvkskokikakRkHj7jujgjRjCixigiOh7hohUg/gpgRf5fffEeoeKdsdMctcNbtbNavaSZ2ZdZGYyYgYTYJYCYAYCYHYQYdYtZAZWZtaFaea2bMbgbwb7cBcAb4bobQavaGZUYbXaWSVFTzSeRHR/TZUwWGXXYlZtavbrcgdOd2eYezfIfZfmfvf1f6f+gBgFgJgPgWgegpg0hChQhehuh9iLiZiliwi6jBjHjLjNjOjOjNjLjKjJjIjHjIjJjLjNjQjTjWjZjbjcjcjbjYjUjOjGi9iziniaiMh9hthdhLg5gmgTf+fpfTe8ekeLdxdXc7cfcDbmbKauaSZ3ZeZGYwYcYKX7XvXmXgXeXfXjXrX2YDYTYlY3ZLZeZwaAaNaWaaaYaQaAZpZKYjX0W+WBU9T1SoRYQGRtTFUbVvW/YKZQaQbJb7cmdKdod/eQecejenepeoemekejeieielepeve3fBfNfafof3gGgUgigvg7hFhOhWhchhhlhohqhshuhxh0h3h6h/iDiIiNiSiXibieifigifidiZiTiMiDh4hthghShDgzgigRf+fsfYfEeveaeEdtdVc9clcMbzbZbAamaNZ1ZdZGYxYdYKX6XsXgXXXRXNXNXPXVXdXnX0YBYQYeYsY4ZCZIZKZGY9YtYWX4XTWmVyU4T5S0RrQfPRRhS5UOVhWvX5Y9Z7aybicLcsdHdadodwd0d0dxdrdldedYdSdOdMdMdPdTdadkdvd7eJeYene2fEfSfffrf2gAgJgQgXgdgjgpgug0g6hBhHhOhVhchjhqhwh1h4h7h8h8h5h2hwhphghWhLg+gwghgRgBfvfdfLe4ekeRd8dndSc9cncRb6bjbNa2afaIZyZcZGYyYfYNX9XuXiXYXQXLXJXJXMXSXZXhXrX1X/YHYNYQYQYKYAXvXYW6WWVqU4UBTDSBQ7PzOoRcSzUIVaWoXxY0ZxambVb8cbc0dFdQdWdWdTdMdDc5cuckcacScMcIcHcIcMcTcbcmczdBdQdgdweAePeeese5fFfQfbflfuf3gAgJgRgagjgtg2g/hIhQhYhfhlhphthuhuhthphkhdhVhLhAgzglgXgHf3fmfUfDeweeeLd4dldSc+cqcWcCbtbYbDauaYaDZuZZZFYxYfYOX+XxXlXcXWXRXPXQXSXWXbXhXmXrXuXuXrXjXXXFWtWPVrVAUPTZSdRdQZPTOKRcSzUIVaWnXwYzZvakbSb4cWctc9dHdKdJdDc6cuchcTcFb4bsbjbbbWbUbVbZbfbpb0cBcQcgcxdCdTdkd1eFeVekeye/fMfYfkfvf7gGgSgdgogzg+hIhShbhjhqhvhzh1h2h1hyhthmhehVhJg9gwghgSgCfyfhfQe/eteceKd5dndVdDcwcecKb3bibOa5ajaOZ5ZkZPY8YpYZYKX9XyXpXjXfXdXdXeXgXhXiXiXfXZXPXBWuWVV2VRUmT2TASFRGQDO+N3RiS5UOVgWuX2Y5Z1aqbYb+cccydBdKdMdKdCc4cqcbcKb6bqbbbObDa7a2a0a1a5bAbKbWbkb0cFcYcrc+dRdkd2eIeZeqe6fJfYfmf0gCgQgdgqg3hEhQhchnhxh6iBiHiMiPiQiPiNiIiCh6hxhmhahMg+gvgggQgAfwfffPe/eueeeOd9dsdadIc1cicNb5bjbNa3agaKZ0ZfZMY6YpYbYPYFX9X4XzXxXvXtXqXnXhXYXMW8WnWMVsVHUbTqS0R5Q6P4O0NuRsTDUZVrW6YDZGaCa4blcLcqdAdPdYdadXdPdDc0cjcRb/bsbbbLa9ayaqalakalaqaya9bKbabrb+cTcnc9dSdnd8eQeke3fJfafrf8gMgbgrg6hJhXhlhziAiMiXihipiwi1i5i6i6i4i0iuimiciRiFh4hqhbhMg8gtgdgNf+fufffPfAevefeNd7dodUc/cpcSb7bjbLa0adaHZyZfZOY/YyYnYeYWYQYLYGYBX6XyXmXYXFWuWSVwVJUdTrS0R5Q5P3OzNtR6TSUoV7XKYUZXaVbLb5cgc+dVdldudxdudmdadKc4clcRb9bpbXbHa5auanaiahakaqaza/bObgbzcIcfc2dNdld8eTepe/fUfof8gPghgzhEhVhmh2iGiVikiyi/jLjWjfjnjtjxjzjzjxjsjmjejUjJi8ivigiRiChyhjhThEg1glgWgHf3fmfVfDeweceHdwdZdBcocPb2bebGavaaaHZ1ZmZYZMZCY6YyYqYiYZYOYAXvXbXBWjWAVXUpT2S+SBRBP+O5NySKTjU6WOXdYoZsaqbhcQc4dYdweBeKeOeLeEd4dpdXdDcucYcDbvbcbMa/a0ataqaqaua1bAbPbgbzcJcgc5dSdseGege5fRfpf/gWgrg/hThnh6iMieiwjBjSjijxj/kMkXkhkqkwk0k2k1kzkuknkekTkHj6jrjcjMi8isiciMh9hthdhOg9gtgcgJf2fifMe1eeeFdsdSc4cecFbubXbCavaeaOaBZ1ZqZgZWZMZBYzYjYQX5XeW+WYVuU+UJTPSRRQQLPFN9ScT1VNWhXyY9aCbBb5cqdSdzeNefeqeveteneceNd7dndRc7ckcOb6bobYbLbBa7a5a7bAbKbXbob7cScqdEdfd6eXezfOfpgEgdg2hNhkh6iQili5jNjgjzkGkXkpk5lIlVlhlsl0l6l+l/l9l6lzlrlhlUlGk3knkXkGj1jkjTjCixihiQh/huhchJg2ghgLf0fcfDepePd1dbdCcpcSb8bobWbGa3aqaeaSaHZ7ZuZfZNY4YeYBXfW3WKVYUhTmSmRjQdPVOMStUHVfW0YGZSaYbYcRdCdsePepe9fKfQfQfLfBezeheNd3dgdJcycccIb2bmbabSbNbNbRbZblb1cIcfc4dTdveNerfJfngFgig+hZhziNili8jTjpj/kUkpk9lRljl1mGmWmkmwm6nBnGnJnInFm/m3msmfmRmBlvldlLk4klkSkAjujcjKi3iliSh/hrhWg/gogQf3fefEeqeQd3dfdHcycecMb7bsbfbSbFa5asadaNZ5ZiZHYoYDXZWrV3U9UAS+R5QxPnOdS8UXVvXFYXZjaqbrcldYeDenfDfYfnfufwfsfkfXfGezedeGdudWc/cpcVcDb1brbkbibkbqb1cEcXcudHdjeBegfAfhgBgihBhgh+iai2jQjqkDkbkylJlfl1mKmemxnEnVnknxn9oFoLoPoPoMoGn9nynknUnCmvmbmGlxlclHkzkekKj2jijPi7imiRh8hmhOg2gegFfsfTe6eieKd0dgdNc7crcdcPcDb2bpbcbMa6amaNZwZPYpX9XMWWVaUbTXSQRGP6OuTHUiV7XRYjZwa4b5c0doeUe5fXfuf+gHgLgJgBf2fmfUe+enePd3dedHcycfcOcCb5b1b2b7cEcTclc7dVdyeReyfUf2gZg8heh/igi/jcj5kVkvlJlil6mSmpm/nUnpn8oOofoto5pCpJpMpMpJpDo5osodoLn4ninMm1mdmFltlWk/kpkTj9jnjSi9iniRh6hjhMg0gcgEftfVe/epeVeCdxdhdTdFc5ctchcVcHb3blbPa1aXZ0ZMYeXrWzV2U0TuSlRZQLO9TOUoWBXXYpZ2a+cAc7dwedfDfjf7gNgYgdgdgXgNf/ftfZfCeqeRd4dgdJc1cjcVcLcFcEcHcQcdcvdFdfd9ede/fjgHgshRh2iZi8jdj9kck6lWlxmLmlm9nVnsoCoYoso+pPpdpppzp5p8p8p4pwpmpYpGozodoFnsnRm3mcmBlnlNk0kckEjsjWi/ipiSh8hlhOg4ghgLf1fgfMe5eneXeId7dvdjdZdOdEc4cqcbcIbybYa4aUZrY7YHXMWNVJUCS2RpQaPKTNUnWAXVYnZ0a7b9c5duecfEfkf+gRgeglgmgigZgNf8fpfTe7eieJdwdZdDcwchcVcOcLcOcWcic0dKdkeCejfGfrgRg4hfiGisjQj0kWk2lVlzmPmrnFnen2oOoko5pNpfpwp+qKqTqYqbqZqUqLp/pvpcpGotoTn3nZm8memAljlGkqkPj1jcjEisiVh+hohSg8gngSf+frfZfIe4epeceQeGd9d0dsdjdbdQdEc1cjcMbybSataCZRYbXfWeVZUQTDR0QjPSTEUeV1XKYaZnaubwcsdheQe4fZf0gJgXgfgigggZgOf/fsfXfAeoePd2dedIc0ckcXcPcLcNcTcfcwdGdgd/egfEfqgSg7hjiLizjZj+kilElkmDmgm8nWnwoIofo1pKpdpup+qLqWqeqiqjqhqaqQqBpvpapConoJnqnKmqmJlolIkokKjsjQi1iciDhrhUg+gpgVgBfvfdfNe+ewekeZeQeIeBd7d2dwdrdkdcdRdDcycccBbha7aQZeYnXqWoVhUXTJR5QnPVSzULVhW0YEZPaWbXcSdId3effBfdfzgDgMgRgQgLgBfzfifOe4egeHdvdXdBctcccOcFcBcCcIcTckc6dUdyeUe5ffgIgxhbiFitjVj7kglCljmCmgm8nWnvoHodoypFpXpop2qCqLqRqUqTqPqHp6pqpWo/okoHnnnGmjl/lck4kVjzjTiziVh4hdhEgsgVf/frfYfHe3eoebePeFd9d2dxdtdqdodndldidedYdQdDczcecEbka+aSZgYoXrWoVhUVTHR2QkPRSZTvVDWUXiYsZyaybtcidQd5ece5fPfgfrfxfyfufmfZfJe3eheLdzdbdDctcZcIb6bxbsbtbyb9cOcjc9dbd9eifJfygchGhwiZjBjokNkwlRlwmNmonCnanwoFoYoqo6pJpVpfpmpqprpppjpYpKo4oioJnsnNmrmIljk9kXjxjMioiFhkhEgngLfwfYfBeteaeId5drdgdWdOdIdEdBdBdBdDdFdHdJdKdJdGc/c1cmcSb5baa0aJZXYfXhWeVWULS8RrQZPHR3TKUcVrW3X/ZDaCa7bvcedHdpeGeeeve8fDfFfCe7eweieRd9dndQc5cicNb5bobbbRbNbNbSbdbscBcbc5dad/emfOf4gihMh1idjDjokKkrlJlll/mXmtnCnVnnn2oEoQoaoionopooojoboPn/nrnUm5mbl6lWkxkLjji8iUhuhIgkgBfgfCeleKdydcdIc3cncacPcGcAb8b6b6b8b/cEcKcRcXcdchcjcjcfcXcKb4bgbCadZyZBYJXMWJVCT3SpRYQHO1RMSdTrU4WCXHYJZHZ/aybgcIcrdIdgdyd/eHeKeJeDd6dtdddKc2cgcKb0bgbNa9awanaiaianaybBbVbucLcsdQd2eefGfwgZhBhoiNiwjRjwkNkolAlWlql9mNmcmqm1m+nGnLnOnNnKnDm5msmamFltlQkxkPjrjFidh1hNgkf9fWexeNdsdNcwcVb9bobVbFa3asakafacabadahanava5bDbNbYbhbpbvbybwbrbgbQa5adZ5ZPYfXoWsVqUkTaSNQ+PuOdQbRoS0T9VEWHXHYCY5ZraXa/bhb+cWcpc2c/dDdDc/c2crcccLb4bkbPa7anaWaGZ6ZyZtZuZzZ9aMafa3bTbzcVc6dgeHevfWf9gihFhmiGiji9jVjrj/kRkhkvk7lFlOlUlZlclclZlUlMlAkxkekIjvjSiyiQhshFgef1fMekd8dVcvcMbqbLauaUZ9ZoZXZIY9Y0YuYsYsYvY1Y9ZHZTZgZvZ9aLaZakataza0axapaaaGZrZJYhXyW8WCVBT9S0RpQcPON/PlQuR2S8UAVBV+W3XrYbZHZtaParbDbWbkbtbybybvbobebQbBavadaKZ3ZlZUZGY7YzYwYwY1Y/ZNZgZ3aSavbQbzcXc8dheGeqfMftgMgohChahwiDiUijiwi7jEjLjRjVjXjXjVjRjJi/iyiiiPh4hfhCgigAfce2ePdnc/cXbvbJakaAZfZAYkYLX1XhXRXEW6W0WxWxW0W7XEXQXdXtX+YQYjY0ZFZUZfZoZsZsZmZaZHYuYOXoW7WHVOUQTOSIQ/P0OoNcOqPwQ0R3S3T1UvVlWYXGXwYVY1ZRZoZ7aJaTaYaZaXaRaHZ8ZuZeZNY7YqYaYLX+X0XuXrXsXxX6YIYZYvZIZkaCaibDblcHcpdKdpeGeie7fSfnf5gJgXgjgtg1g7hAhDhEhEhBg9g3gugjgVgEfwfafAekeGdkdBccb2bQaoaBZbY1YRXvXPWxWWV+VoVXVIU9U1UxUwUzU5VCVOVdVuWBWWWrXAXVXpX6YJYUYbYdYZYPX/XoXKWmV7VKUUTYSYRVQPPHN+M2NuOvPwQvRsSmTdURVBVtWVW4XXXyYJYbYpYyY4Y6Y4YzYrYgYUYGX2XnXXXJW8WxWoWiWgWhWnWwW9XNXhX4YRYtZKZoaGalbCbfb7cVcsdCdVdmd1eCeMeVecehekemenemejefeZeReHd7dsdcdIcycZb+bhbBafZ8ZYYzYNXoXDWfV9VcU9UhUHTwTcTMS/S2SwSuSvS0S9TITXTpT9UTUqVCVaVxWHWbWtW6XDXHXGW+WwWbWAVeU2UHTUSbReQePbOWNRMMMxNvOrPmQfRWSKS6ToURU3VZV3WQWmW3XFXOXUXWXVXRXKXBW2WpWcWOWBV0VpVfVYVUVSVUVZViVuV9WPWjW6XSXsYGYhY7ZVZtaFaaaua/bPbcbobxb4b+cBcEcEcEcCb/b6b0btbkbZbNa+auabaGZuZUY4YbX7XaW4WVVyVPUsUKTpTKStSTR7RlRTRFQ6QyQuQuQxQ5RDRRRiR2SMSkS+TYTyUMUkU6VNVcVnVtVuVoVcVKUxURTsTASQRaQhPkOlNkMiLgL2MvNnOePTQHQ3RlSPS2TaT6UVUuVCVSVfVoVuVxVwVtVnVfVWVLU/U0UoUeUUUMUHUDUDUFUKUSUdUrU7VNVgV1WLWhW4XOXjX3YKYbYqY3ZDZNZUZaZeZhZiZiZgZdZZZVZPZIY/Y2YrYeYQYAXuXaXEWsWSV2VZU6UbT6TaS5SZR5RbQ+QjQKP0PhPRPEO7O1OzO0O6PDPPPfPyQHQfQ5RURwSMSnTATYTsT9UKUSUUUQUGT2TfTDSgR3RKQYPiOoNtMwLyK0K9LyMmNZOKO6PnQRQ5RdR+ScS2TMTfTuT7UDUJUMUMUJUET+T2TtTjTaTQTITAS6S2S0S0S3S8TDTNTZTnT2UGUYUqU8VOVfVwV/WNWaWlWuW1W7W/XCXDXDXCW/W8W3WyWsWlWdWUWKV/VzVlVWVFUzUeUITxTXS9ShSERmRIQqQMPvPUO5OhOKN2NlNXNMNFNBNANENLNVNjN0OJOgO5PUPwQNQpRFRgR4SOSgSuS3S6S4SwSiSORzRTQuQEPVOiNtM1L8LCKIKHK4LoMYNFNxOaPCPmQHQmRBRZRtR/SNSYShSmSpSpSoSkSfSZSRSKSCR7R0RvRqRoRnRoRrRwR2R/SJSUShSuS8TKTYTlTyT+UIUSUaUhUmUqUsUtUtUrUpUlUhUcUWUQUIUBT5TwTmTbTPTDS1SlSUSCRuRYRCQpQQP2PbPAOlOKNwNWM/MpMUMDL0LoLfLZLXLYLdLmLyMBMTMoNANaN2OTOwPNPqQFQdQ0RGRVReRjRiRcRQQ+QmQIPmO+OTNkMzL/LJKTJeJXKEKwLbMFMtNTN3OYO2PSPqQAQTQjQwQ6RCRHRKRLRKRIREQ/Q6Q0QvQqQlQhQfQdQeQfQiQnQtQ0Q8RFRPRZRjRtR3SASISPSWSbSfShSjSjSiSgSdSaSVSQSKSER9R2RuRnReRVRMRCQ3QrQfQRQBPxPfPMO4OiOLN0NcNDMrMTL7LlLQK8KqKbKOKEJ9J6J5J8KCKMKZKpK8LSLrMFMhM+NbN4OVOwPJPfPxQAQLQQQQQLQAPwPaPAOgN8NUMoL6LKKZJmI0IrJUJ9KkLKLvMRMxNPNrODOaOtO+PMPYPhPoPtPwPyPyPwPuPrPoPkPgPdPbPZPYPYPZPbPfPjPoPuP0P7QCQJQPQWQbQgQkQnQpQqQqQpQnQkQgQcQXQRQLQFP+P3PvPoPgPZPRPIPAO2OtOiOWOKN9NuNeNNM7MoMUL/LpLUK+KpKUKAJtJcJNJAI1ItIoImInIsIzI+JMJdJxKHKgK6LWLyMPMsNINiN7OROjOyO8PCPDO/O2OnOTN6NdM8MXLvLEKYJqI8INIFIrJQJ0KWK3LWLzMNMmM8NPNgNvN8OGOOOVOaOdOfOgOfOeOdObOaOYOXOWOWOXOYOaOdOgOkOoOtOxO2O6O+PBPEPFPGPGPGPEPBO+O5O0OvOpOiObOUONOGN+N3NvNoNgNZNSNKNCM6MxMoMeMTMHL6LsLdLNK8KqKYKFJyJfJMI5IoIYIJH8HxHpHjHgHfHiHoHxH8ILIdIxJHJfJ5KVKxLNLpMEMdM1NKNcNqN1N7N8N4NwNjNQM6MfMALeK5KRJoI+ITHoHlIHIpJJJoKGKhK7LSLoL7MMMaMnMyM7NCNINNNQNTNUNVNWNWNWNWNWNXNYNZNbNeNgNjNnNqNuNxN0N2N4N5N5N4N2N0NwNsNnNhNbNUNMNEM8M0MsMkMcMUMMMFL+L3LwLpLiLbLULNLGK9K1KrKhKWKKJ9JuJfJQI/IvIeINH8HsHdHPHDG4GwGpGlGkGlGpGwG6HGHWHnH7ISIqJDJeJ5KUKvLJLhL4MMMdMqM0M6M7M4MwMkMTL+LlLIKpKGJiI8IVHtHGHKHqIIIlJBJbJ0KKKeKxLBLPLcLnLwL3L+MDMHMLMOMQMSMTMVMXMZMbMdMgMiMmMpMsMwMzM2M4M6M7M8M7M5M3MzMuMpMiMbMTMKMCL4LvLlLcLTLKLBK5KxKpKiKbKVKOKIKDJ9J3JxJqJjJcJUJLJBI3IrIfIRIEH1HmHXHJG6GsGfGUGJGBF6F2FzF0F2F8GEGOGbGrG9HRHnH+IXIwJKJkJ+KWKtLCLVLlLxL6L/MAL9L2LqLaLHKwKVJ4JYI2ITHvHKGmG1HSHtIIIgI4JNJgJxKBKOKaKlKtK1K7LBLFLJLNLQLTLVLYLbLeLiLlLpLtLxL1L5L9MBMEMGMIMIMIMGMEMAL7L0LtLlLcLSLIK9KzKoKdKSKIJ+J1JsJjJcJVJOJIJCI9I4IzIuIpIkIfIZITIMIEH7HyHoHdHRHFG4GrGeGRGFF5FuFkFcFVFQFNFNFOFSFZFiFtF7GLGdGwHGHcH0IMIlI9JVJsKBKUKlK0K/LHLLLMLJLBK2KnKVJ/JmJLItIOHtHMGqGIGlG/HYHwIGIaIsI9JLJYJjJtJ1J7KBKGKLKPKSKWKZKcKgKkKoKsKxK2K7LALFLKLOLSLWLZLaLbLaLZLWLRLLLEK8KyKoKdKSKGJ5JtJhJWJKJAI2IsIkIcIUIOIIIDH+H6H2HyHuHqHmHiHdHYHSHLHEG7GyGpGeGTGIF8FxFlFbFQFHE/E5E0EwEvEwEzE4FAFKFWFkFzGFGYGtHDHZHwIHIeI0JJJcJuJ9KKKUKbKeKeKaKTKIJ6JoJTI8IiIHHqHLGsGNFtGZGxHIHdHxICISIgIsI2I/JGJMJRJVJZJcJfJiJlJpJtJxJ1J6KAKFKLKRKXKdKiKnKrKvKxKyKyKwKtKpKjKbKTKJJ+JyJlJYJLI+IxIlIZINIDH5HwHoHhHaHVHQHLHIHEHBG+G8G5G2GyGvGqGlGfGZGRGJGAF3FtFjFYFOFEE7EyEqEkEfEcEaEaEdEhEnEwE6FGFUFkF1GIGcGwHFHbHwIFIZIsI+JNJbJmJvJ0J2J1JxJpJfJRJAIsIWH+HkHJGsGPFyFUGRGnG8HPHhHwH9IIISIaIgIlIpIsIvIxI0I2I5I8I/JDJIJNJSJYJfJlJsJyJ5J+KDKHKLKMKNKMKJKFKAJ4JwJlJaJOJBI0ImIYILH+HxHlHaHQHHG+G3GxGsGnGjGgGeGcGaGYGWGUGSGPGMGIGEF+F4FyFqFiFaFRFHE+E1EsEkEdEWEREOEMEMENEREWEdEmExE+FMFcFsF+GRGkG4HMHfHyIFIVIlIzI+JIJPJTJUJSJNJFI6IsIcIJH0HdHFGrGQF1FaE+GMGhG0HFHUHiHtH2H9IDIHIKINIOIPIQISITIVIYIbIfIkIpIvI2I8JDJKJRJXJdJiJmJpJqJqJoJlJgJZJRJHI8IwIjIWIIH6HsHeHRHFG6GwGmGeGXGRGMGIGFGCGAF/F+F9F8F7F6F4F2FzFwFsFnFiFbFUFNFFE8E0ErEjEbEUEOEJEGEDEDEEEGELEREZEjEuE7FJFYFpF6GLGeGwHCHTHkH1IDIRIdImIuIzI2I2IzItIlIaIMH8HqHWHAGpGRF4FeFEErGIGcGuG+HLHXHgHnHtHxHzH0H1H1H1H1H1H2H3H5H8IAIFIKIQIXIeIlIsIzI5I/JDJHJJJKJJJHJDI9I1IsIiIWIKH9HvHhHTHGG4GsGhGWGNGFF+F4F0FwFtFsFqFqFqFpFqFpFpFpFoFmFkFhFdFYFTFNFGE/E3EvEnEfEYERELEGECD/D+D/EBEEEKEREaEkEwE9FLFZFpF5GKGaGrG7HLHaHoH1IBIKISIYIcIdIcIYISIJH+HwHhHPG8GnGRF6FiFKExEZGGGZGqG4HEHOHWHcHgHiHjHjHiHhHfHeHdHdHeHgHiHmHqHvH1H8ICIJIQIXIdIiImIpIrIrIqInIiIcIUIKIAH0HnHaHMG/GxGkGYGNGCF5FxFrFlFhFeFcFbFaFbFbFcFdFeFfFfFfFeFdFbFYFUFPFKFDE9E2EuEmEfEXEREKEFEBD+D8D8D+EBEGEMEUEeEoE0FBFPFdFsF7GLGaGpG4HGHTHfHqHzH7IBIFIHIHIFIAH5HwHlHXHIG3GkGQF7FlFPE4EhEKGFGWGmGzG/HHHOHSHVHWHWHUHSHQHNHLHKHJHJHKHMHPHTHYHdHjHqHxH3H9IDIHILIOIPIOIMIJIDH9H0HqHgHUHHG6GtGgGTGHF8FyFpFiFbFWFSFQFPFOFPFQFRFTFVFXFZFaFbFbFaFZFXFTFPFLFFE/E4EwEpEhEaETENEHECD/D9D8D9EAEEEJEREZEjEuE6FHFUFiFxF/GNGbGpG1HCHNHXHgHnHtHyH0H1HzHwHrHjHaHOHBGyGiGQF8FoFTE+EoESD9GDGUGiGvG5HBHHHKHMHMHKHIHFHCG/G8G5G4G3G4G5G8G/HDHIHOHUHaHgHmHqHvHyHzH0HzHwHsHmHfHWHNHCG2GqGeGRGFF5FvFlFcFVFPFKFHFFFEFFFGFIFLFNFRFUFWFZFaFbFbFbFZFWFTFOFJFDE8E1EtEmEeEXEQEKEFEBD+D9D9D/ECEHENEVEeEpE0FAFNFaFoF1GDGQGcGoG0G+HIHQHXHdHhHkHlHkHiHeHYHQHGG7GtGfGPF9FrFYFEEvEaEGDxF/GQGeGqG0G7HAHCHDHDHBG9G6G2GyGvGsGqGoGoGpGrGuGyG2G7HAHGHLHQHUHXHZHbHaHZHVHRHLHDG7GxGmGbGPGDF4FtFiFZFQFJFEE/E9E7E7E8E+FBFFFJFNFRFVFZFcFeFfFfFeFcFZFUFPFJFDE7E0EsEkEcEVEOEIEDEAD9D9D+EAEEEKEREZEjEuE5FGFSFfFsF5GGGSGdGoGxG6HCHJHOHSHVHXHWHVHRHMHGG+G0GoGbGNF+FtFbFJE2EiEOD7DnF7GLGZGkGtG0G4G7G7G6G3G0GwGrGnGjGgGdGcGbGbGdGfGiGmGqGuGzG3G7G/HBHDHDHCHAG8G3GxGpGgGXGMGBF2FsFhFXFOFGE/E6E2EzEyEzE0E3E7FAFFFKFQFVFZFdFgFiFjFjFiFfFbFXFRFKFCE6EyEqEhEZESELEFEBD+D8D8D9EAEFELETEcEmExE9FJFVFiFvF7GHGSGcGlGuG1G8HBHFHIHJHKHIHGHCG8G1GtGjGYGLF9FuFeFNE7EpEWEEDxDeF0GEGRGdGlGsGwGyGyGxGuGqGmGiGdGZGVGSGQGPGPGQGSGUGXGaGeGiGlGoGrGsGtGtGrGoGkGeGYGQGHF+F0FqFgFWFMFDE7E1EwEsEqEpEqEsEwE0E6FAFGFNFTFZFeFjFmFoFpFoFmFjFeFYFSFKFCE5EwEnEeEVEOEHEBD9D6D4D5D7D+EDEKESEbEmExE9FJFWFiFuF6GFGPGZGhGpGvG0G4G7G8G9G8G6G3GyGsGlGdGTGIF8FuFgFQFAEvEeEMD6DoDWFsF7GIGTGcGiGmGoGoGnGkGhGcGYGTGPGLGIGGGEGEGEGFGHGJGMGPGSGUGWGYGZGYGXGVGRGNGHGAF4FwFnFdFUFKFBE5ExErElEiEgEfEgEjEnEsEyE5FBFIFQFXFeFjFoFrFtFtFsFpFlFgFZFRFJE/E2EsEiEZEQEIEBD7D3D0DzDzD2D5D/EGEPEYEjEuE6FGFTFfFrF2GAGKGSGaGgGmGqGtGvGwGvGuGrGnGjGcGVGNGDF5FtFgFSFDE0EkETECDwDfDOFiFxF9GIGRGXGbGdGdGcGZGWGSGOGJGFGBF+F8F6F5F5F6F7F8F+GAGCGEGFGGGFGEGDGAF8F3FwFpFiFZFRFIE/E2EuEmEgEbEXEVEUEVEYEcEiEoEwE4FBFKFSFaFhFnFrFuFwFwFuFrFmFfFXFPFFE7ExEmEcESEJEAD5DzDvDsDrDsDuDyD4D/EIESEcEoE0FAFMFYFjFuF4GBGJGQGVGaGeGgGhGhGgGeGbGXGSGMGFF9F0FpFeFSFFE3EoEYEID4DnDXDGFWFkFxF7GEGKGOGQGRGQGOGLGHGDF/F7F3F0FxFwFuFuFuFuFvFwFyFzFzF0F0FzFxFuFrFmFhFbFTFMFEE7EzEqEiEbEVEQEMEJEIEJEMEQEVEcEkEtE2FAFJFTFbFiFoFtFwFxFwFuFpFkFcFUFKFAE1EpEeETEJD/D2DvDpDkDiDhDhDkDoDuD1D+EHESEeEpE1FBFNFYFiFsF0F8GCGHGLGOGQGRGRGQGNGKGGGBF7F1FtFkFaFPFEE3EqEcEND+DuDfDPC/FIFWFiFtF1F7F/GCGDGCGAF+F7F3FzFvFsFpFmFkFjFiFiFiFiFiFjFjFjFjFiFgFdFaFWFRFLFFE+E2EuEmEeEXEPEJEEEAD9D8D8D+ECEHEOEWEfEpEzE9FHFRFZFhFnFrFuFvFtFqFlFfFXFNFDE3EsEgEUEID9DzDqDjDcDYDVDUDVDXDbDhDoDxD6EFEQEbEnEzE+FJFTFcFkFrFxF2F6F9F+F/F+F9F7F4F0FvFqFjFcFUFKFAE1EqEdEQECDzDkDVDGC3E5FHFTFdFlFrFwFyFzFzFyFwFtFqFmFjFgFdFaFYFXFWFVFUFUFUFTFTFSFRFPFNFKFGFBE8E2EwEoEhEZESEKEDD9D3DzDwDuDuDvDyD3D9EFEOEYEiEtE4FDFMFVFdFjFnFpFpFoFkFeFXFOFEE5EtEgEUEID8DwDmDdDVDPDKDHDFDGDIDMDSDZDhDqD0D/EKEWEhEsE2FAFJFRFXFdFiFlFoFqFqFqFpFnFkFhFcFXFRFKFDE6ExEnEbEQEDD2DoDaDMC9CvEpE2FCFMFUFaFeFhFjFjFiFgFeFbFYFVFSFPFNFLFJFIFHFGFFFEFDFCFAE/E8E5E2ExEsEnEhEaETEMEFD9D2DwDqDlDiDgDfDfDiDmDrDyD7EEEPEaElEwE7FFFOFVFbFfFhFhFeFaFUFMFDE4EsEgETEGD6DtDiDXDODGC/C6C3C2C2C4C8DBDHDPDYDiDsD3ECEMEXEhEqEzE6FBFGFLFPFRFTFUFUFTFRFPFMFIFDE+E4ExEpEgEXENECD2DpDdDPDCC0CmEYElEwE5FBFHFMFPFRFRFRFPFNFLFIFFFDFAE+E8E6E4E3E2E0EzExEwEuErEoElEhEcEXERELEFD+D3DwDpDiDdDYDUDRDPDPDRDUDYDeDmDvD5EEEPEbEmExE6FDFKFQFUFVFVFSFNFHE/E1EqEeEREED3DrDeDSDIC+C2CvCqCnClClCnCqCvC1C8DEDODXDhDsD2EAEJESEaEhEoEtEyE2E4E6E7E7E7E6E4E1EyEuEqEkEeEXEPEGD9DzDoDcDQDEC3CqCdEHETEdEmEuE0E5E8E+E+E+E9E7E5E3E0EyEvEtErEpEnElEkEiEgEfEcEaEXEUEQELEHEBD7D1DvDoDhDbDVDPDJDFDCC/C/C/DBDFDKDRDZDiDsD3ECEOEZEjEtE2E9FCFFFGFGFDE+E3EvElEaEOECD1DoDbDODDC4CvCmCgCaCXCVCUCWCYCcCiCoCwC4DBDLDUDeDnDwD4EAEHENETEXEbEeEgEhEiEiEhEgEeEcEYEUEQEKEED9D1DtDjDZDODDC3CrCfCTD1EAEKETEaEgEkEoEpEqEqEpEoEmEkEhEfEdEbEYEWEVETEREPENEKEIEFECD+D6D1DwDrDlDfDZDTDMDGDAC7C2CzCwCuCuCvCxC1C7DCDKDTDdDoDzD+EJEUEdElEsExE0E1E0EyEtEmEeEUEJD9DxDkDXDLC+CzCoCfCXCQCLCHCECECECHCKCPCVCbCjCrC0C8DFDODWDeDlDsDyD3D8D/EDEFEHEIEIEIEHEGEEEBD+D6D2DwDqDjDbDTDKDAC1CqCfCUCIDjDuD3D/EGEMEQETEVEWEWEVETESEQEOELEJEHEFEDEBD+D8D6D4D1DyDvDsDoDkDfDaDVDPDJDEC+C4CyCtCoCkChCeCdCdCfChCmCrCyC6DDDNDYDjDtD4ECELETEZEeEhEiEhEeEaETELECD3DsDgDUDHC7CvCkCaCQCICBB8B4B1B0B0B2B5B8CCCHCOCVCdClCtC1C8DDDKDRDWDbDgDkDnDpDrDtDuDuDuDtDsDqDoDkDhDcDXDQDJDCC5CwCnCdCSCIB9DRDbDkDrDyD3D7D+EAEAEAEAD+D9D7D5D3D0DyDwDuDrDpDnDlDiDfDcDZDVDSDNDJDEC/C6C0CvCpCkCeCaCVCSCPCNCMCNCOCRCWCbCiCqCzC8DGDRDbDlDvD3D/EFEKEMEOENEKEGEAD4DvDlDbDPDDC3CsCgCWCMCCB6B0BuBqBnBlBlBmBoBrBvB0B6CACHCOCVCcCjCqCwC2C7DADEDIDLDODQDSDTDUDVDUDUDSDRDODLDHDCC9C3CwCpChCYCPCFB8ByDADJDRDYDeDjDmDpDqDrDrDqDpDnDlDjDhDfDcDaDYDWDTDRDODMDJDGDDC/C7C3CzCuCpClCfCaCVCQCMCICECBB+B9B9B9B/CCCGCLCSCaCiCrC1C+DIDSDbDjDqDwD0D3D4D4D1DxDsDlDdDUDKC/C0CpCeCTCIB/B2BuBnBiBdBaBYBXBYBZBbBfBjBoBtBzB5B/CFCLCRCXCcChCmCqCuCxC0C2C4C6C7C7C8C8C7C6C4C1CyCuCqCkCeCYCRCJCBB4BwBnCvC3C/DFDKDPDSDUDVDWDWDVDTDSDQDODLDJDHDEDCDAC9C7C4C2CzCwCtCpCmCiCeCaCVCRCMCHCDB/B7B3B0BxBvBuBuBuBwBzB3B8CCCJCRCaCjCsC1C+DGDODVDaDfDiDjDjDhDdDZDSDLDDC5CvClCbCQCGB9BzBrBjBdBXBSBPBNBLBLBMBNBQBTBXBbBgBlBqBwB1B6B/CECJCNCRCUCXCaCdCfChCiCjCkCkCkCjCiCgCdCaCWCSCNCHCAB6ByBrBjBbCfCmCtCzC4C7C+DADBDBDBDAC+C9C6C4C2C0CxCvCsCqCoClCjCgCdCbCYCUCRCOCKCGCCB+B6B2ByBuBrBoBlBjBhBgBgBhBjBlBpBuBzB6CBCJCRCZCiCqCyC5DADFDJDMDODODNDKDGDAC6CyCqChCYCOCFB7ByBpBhBaBTBOBJBFBDBBBABABBBDBFBIBMBPBUBYBdBhBmBqBuByB2B6B9CACDCFCHCJCLCMCNCOCOCNCNCLCJCHCDCAB7B2BxBrBlBeBXBQCQCXCdCiCmCpCrCtCuCuCtCsCqCoCmCkChCfCcCaCYCVCTCQCOCMCJCGCECBB+B7B4B1BxBuBqBnBjBgBdBaBYBWBVBUBUBVBXBZBcBhBmBrByB5CACICQCXCfClCrCxC1C4C6C6C5C3C0CvCqCjCcCUCMCDB6BxBpBhBZBSBMBGBBA9A6A4A3A2A3A3A5A7A+BBBEBIBMBPBTBXBbBeBhBlBoBqBtBvByB0B1B3B4B5B5B5B4B3B2B0BxBuBqBmBiBcBXBRBLBGCCCICOCSCWCYCaCbCcCbCbCZCXCVCTCQCOCLCJCGCECCB/B9B7B5B2B0ByBvBtBqBoBlBiBfBdBaBXBUBSBPBNBMBLBKBKBLBMBOBRBVBZBeBkBqBxB4B/CGCMCTCYCdChClCnCoCnCmCjCgCbCVCPCICAB5BxBpBhBZBSBLBFA/A7A2AzAxAvAuAuAuAvAwAyA0A3A6A9BABDBGBJBMBPBSBVBXBaBcBeBgBhBjBkBlBmBmBmBlBkBiBgBeBbBXBTBPBKBFBAA7B2B8CACECHCJCLCMCMCLCKCICGCECCB/B8B6B3B1ByBwBuBsBqBoBmBkBiBgBeBcBaBYBWBUBRBPBNBLBJBHBFBEBDBCBCBCBDBFBIBLBOBTBYBdBjBpBvB1B7CBCHCLCPCTCVCWCWCWCUCRCNCICDB9B2BvBoBhBZBSBLBFA/A6A1AxAtArAoAnAmAmAmAnAoAqAsAuAwAzA1A4A6A9A/BCBEBGBJBLBMBOBQBRBSBTBUBUBUBUBTBSBQBOBMBJBGBCA+A6A2AyBsBwB1B4B7B8B9B+B+B9B7B5B3B1ByBvBtBqBnBlBiBgBeBcBbBZBXBWBUBTBSBQBPBNBMBKBJBHBFBDBCBAA/A+A9A8A8A8A9A+BABCBFBJBNBRBWBcBhBnBsBxB2B7B/CCCFCGCHCHCFCDCAB8B4ByBtBnBgBZBTBMBGBAA6A1AwAsAoAlAjAhAgAgAfAgAgAhAjAkAmAoAqAsAuAwAyA0A2A4A6A8A9A/BABCBDBEBEBFBFBFBEBEBCBBA/A8A6A3A0AwAtApBjBnBrBuBwBxByByBxBwBvBsBqBnBlBiBfBcBaBXBVBTBRBPBOBMBLBKBJBJBIBHBGBFBEBDBCBBBAA/A+A8A7A6A5A4A4A3A4A4A6A7A+BABEBHBMBQBVBaBeBjBoBsBwBzB2B3B4B5B4B3B0BxBtBpBkBeBZBTBNBHBBA7A2AxAsAoAkAhAfAdAbAaAaAaAaAaAbAcAdAfAgAiAjAlAnAoAqAsAtAvAwAyAzA0A1A2A3A3A4A4A3A3A2A0AzAxAvAtAqAnAlAiBcBfBjBlBnBoBpBoBnBmBkBiBfBcBZBWBUBRBOBMBJBIBGBFBDBCBCBBBBBBBABABABABAA/A/A+A9A8A7A6A5A4A3A2A1A1A1A1A1A2A4A6A8A/BCBGBKBOBSBXBbBfBiBlBoBqBrBsBsBrBpBnBjBgBbBXBSBMBHBBA8A2AxAtAoAkAhAeAbAZAXAWAVAVAUAVAVAWAXAXAZAaAbAcAeAfAgAiAjAkAlAnAoApAqArArAsAsAsAsArArAqApAnAmAkAiAgAdAbBWBZBcBfBgBhBhBgBfBeBcBZBWBTBQBNBKBHBFBCBAA/A9A8A7A7A7A7A7A7A7A8A8A9A9A9A9A9A9A8A8A7A6A4A3A2A1A0AzAzAzAzA0A1A2A4A7A+BBBEBIBMBPBTBWBZBcBeBfBgBgBgBeBdBaBXBTBPBLBGBBA8A3AyAtApAlAhAdAaAYAWAUASARARAQAQAQARARASASATAUAVAWAXAYAZAbAcAdAeAfAfAgAhAiAiAiAiAiAiAhAhAgAfAdAcAaAZAXAVBRBVBXBZBbBbBbBaBZBXBVBSBPBMBJBGBDBAA9A7A5A4A3A2A1A1A2A2A3A4A5A6A7A8A9A+A+A+A+A+A9A9A7A6A5A3A2A0AzAyAxAxAxAxAyAzA1A3A5A8A/BCBFBIBLBOBQBSBUBVBVBVBUBTBRBOBLBIBEBAA7A3AyAuApAlAhAeAaAXAVATARAPAOANANANANANANANAOAOAPAQAQARASATAUAVAVAWAXAYAYAZAaAaAaAaAaAaAaAZAZAYAXAWAUATASAQBOBRBTBVBWBXBWBVBUBSBPBNBKBGBDBAA9A6A4A2A0AzAyAxAxAyAyAzA1A2A4A6A7A9A+BABABBBBBBBBBAA/A9A8A6A4A2A0AyAxAwAvAuAuAvAwAxAzA1A3A6A8A/BBBEBGBIBKBLBLBLBLBKBIBGBDBAA9A5A1AxAtApAlAiAeAbAYAVASAQAPANAMALAKAKAKAKAKAKAKAKALALAMANANAOAPAPAQAQARASASATATATAUAUAUAUATATATASARAQAQAPAOANBLBOBQBSBTBTBSBRBQBOBLBIBFBCA/A8A5A2A0AyAwAvAvAvAvAwAxAzA0A3A5A7A9A/BBBDBEBFBGBGBFBEBDBCBAA9A7A5A2A0AyAwAuAtAsAsAsAsAtAvAwAyA0A3A5A7A9A/BABBBCBCBCBBBAA+A8A5A2AzAwAsAoAlAhAeAbAYAVASAQAOAMALAKAJAIAIAHAHAHAHAHAIAIAIAJAJAKAKAKALALAMAMANANAOAOAOAPAPAPAPAOAOAOANANAMAMALAKAJBJBLBNBPBQBQBPBOBMBKBIBFBCA+A7A4A1AzAxAvAuAtAtAtAuAvAxAzA1A4A7A+BABDBFBHBJBKBLBLBLBKBIBGBEBBA/A8A5A2AzAwAuAsAqApApApApAqArAsAtAvAxAzA0A2A3A4A5A5A5A5A4A2A0AyAwAtAqAnAkAhAdAaAYAVASAQAOAMALAJAIAHAHAGAGAFAFAFAFAFAGAGAGAGAHAHAHAIAIAJAJAJAKAKAKAKALALALALALAKAKAKAJAJAIAIAHAHBGBJBLBMBNBNBMBLBJBHBEBCA/A7A4A1AzAwAvAtAsAsAsAtAuAwAyA0A3A7A+BBBEBHBKBMBOBQBQBRBQBPBNBLBJBGBCA/A7A4A0AxAuAsApAoAmAlAlAlAmAmAnApAqArAtAuAvAwAxAxAxAxAwAvAtArApAnAkAiAfAcAaAXAUASAQAOAMAKAJAIAHAGAFAFAEAEAEAEAEAEAEAEAEAEAFAFAFAFAGAGAGAHAHAHAHAHAHAIAIAIAIAHAHAHAHAGAGAGAFAFBDBGBIBJBJBJBJBIBGBEBBA/A8A5A2AzAxAvAtAsArArAsAtAvAxA0A3A6A+BBBFBJBMBPBSBUBVBWBWBWBUBTBQBNBKBGBCA+A6A2AyAvArApAmAkAjAiAhAhAiAiAjAkAlAmAnAoApApApApApApAoAmAlAjAhAfAdAaAYAWAUARAPANAMAKAJAIAGAGAFAEAEADADADADADADADADADADADADAEAEAEAEAEAFAFAFAFAFAFAFAFAFAFAFAFAFAFAFAEAEAEADBABCBEBFBGBGBFBEBCBAA+A7A5A2AzAxAvAtAsArArArAsAtAwAyA2A5A9BBBFBJBNBRBUBXBZBbBbBcBbBZBXBVBRBNBJBFBAA8A3AzAvArAoAlAjAhAfAeAeAdAdAeAeAfAgAhAhAiAiAjAjAiAiAhAgAfAdAcAaAYAWAUASAQAPANALAKAIAHAGAFAFAEADADADACACACACACACACACACACACACADADADADADADADADAEAEAEAEAEAEAEAEADADADADADADACA8A+BABBBCBCBBBAA/A9A6A4A2AzAxAvAtArAqAqAqArAsAuAxA0A4A8BABEBJBNBSBVBZBcBeBgBgBgBfBeBbBYBVBRBMBHBCA9A4A0AvArAnAkAhAfAdAbAaAaAZAZAaAaAaAbAcAcAcAcAcAcAcAbAaAZAYAXAVAUASARAPAOAMALAJAIAHAGAFAEAEADADACACACACABABABABABABABABACACACACACACACACACACACACACACACACACACACACACACACACACA4A6A8A9A9A9A9A8A6A4A2A0AyAwAuAsArAqApApAqArAtAvAyA2A6A+BDBIBMBRBVBZBdBgBiBkBkBkBjBhBfBbBXBTBOBJBEA+A5A0AvAqAmAjAgAdAbAZAXAXAWAWAVAWAWAWAWAXAXAXAXAXAWAWAVAVAUATARAQAPAOAMALAKAJAIAHAGAFAEADADACACACABABABABABABABABABABABABABABABABABABABABACACACACACACACACACACABABABABABABAzA1A2A3A4A4A3A3A1A0AyAwAuAtArAqAoAoAoAoApArAtAwAzA3A8BABFBKBPBUBZBdBgBjBlBnBnBnBmBjBhBdBZBUBPBKBEA+A5A0AuAqAlAiAeAbAZAXAVAUATASASASASASASASASASASASASARARAQAQAPAOANAMALAKAJAIAHAGAFAEAEADADACACACABABABABABABABABABABABABABABABABABABABABABABABABABABABABABABABABABABABABABAuAwAxAyAyAyAyAxAwAvAuAsAqApAoAnAmAmAmAnAoAqAtAwA0A4A9BCBHBMBRBWBbBfBiBlBnBpBpBoBnBlBiBeBZBUBPBJBEA+A4AzAuApAkAgAdAZAXAUATARAQAPAPAPAOAOAOAOAOAOAOAOAOAOANANAMALALAKAJAIAIAHAGAFAFAEADADACACACABABABABABABABAAAAAAAAAAAAAAAAAAAAAAAAABABABABABABABABABABABABABABABABABABAAAAApAqArAsAtAtAsAsArAqApAnAmAlAkAkAjAkAkAmAnAqAtAwA0A5A+BDBIBNBSBXBcBgBjBmBoBpBpBpBnBkBhBdBZBUBOBIBDA9A3AxAsAnAjAfAbAYAVATARAPAOANAMAMAMALALALALALALALALAKAKAKAJAJAIAIAHAGAGAFAFAEAEADADACACACABABABABABABAAAAAAAAAAAAAAAAAAAAAAAAAAAAAAAAAAAAAAAAAAAAAAAAAAAAAAAAAAAAAAAAAAAAAjAlAmAmAnAnAnAmAmAlAkAjAiAhAhAhAhAhAiAkAmApAsAwA0A5A+BDBIBNBTBXBcBgBjBmBoBoBoBnBmBjBgBcBXBSBMBGBBA7A1AwAqAlAhAdAZAWATARAPANAMALAKAKAJAJAJAJAJAIAIAIAIAIAIAHAHAHAGAGAFAFAEAEADADADACACACABABABABABABAAAAAAAAAAAAAAAAAAAAAAAAAAAAAAAAAAAAAAAAAAAAAAAAAAAAAAAAAAAAAAAAAAAAAAAAAeAfAgAhAhAhAhAhAgAgAfAeAeAeAdAeAeAfAgAiAlAoArAvAzA4A9BCBHBNBSBWBbBfBiBkBmBmBmBlBjBgBdBZBUBPBJBEA+A4AzAtAoAjAfAbAXAUARAPANAMAKAJAIAIAHAHAHAHAGAGAGAGAGAGAGAFAFAFAFAEAEAEADADADACACACABABABABABABAAAAAAAAAAAAAAAAAAAAAAAAAAAAAAAAAAAAAAAAAAAAAAAAAAAAAAAAAAAAAAAAAAAAAAAAAAAAAZAaAbAbAcAcAcAcAbAbAbAaAaAaAaAaAbAcAeAgAjAmApAtAyA3A8BBBGBLBQBUBYBcBfBhBiBjBjBhBfBdBZBVBQBLBGBAA7A1AwAqAmAhAdAZAVASAQAOAMAKAJAIAHAGAGAFAFAFAFAFAFAEAEAEAEAEAEAEADADADADACACACACABABABABABABABAAAAAAAAAAAAAAAAAAAAAAAAAAAAAAAAAAAAAAAAAAAAAAAAAAAAAAAAAAAAAAAAAAAAAAAAAAAAAAAVAVAWAXAXAXAXAXAXAXAWAWAWAWAXAXAYAaAcAeAhAkAnArAwA1A5A+BDBIBNBRBVBYBbBdBeBeBeBdBaBYBUBQBMBHBCA8A3AyAsAnAjAeAaAXAUARAOAMAKAJAHAGAGAFAFAEAEAEAEADADADADADADADADACACACACACACABABABABABABABABAAAAAAAAAAAAAAAAAAAAAAAAAAAAAAAAAAAAAAAAAAAAAAAAAAAAAAAAAAAAAAAAAAAAAAAAAAAAAAAAAA", N=134, W=532, H=532;
var Z=new Float32Array(N*N);
for(var i=0;i<N*N;i++){Z[i]=(A.indexOf(S.charAt(2*i))*64+A.indexOf(S.charAt(2*i+1)))/4095;}
var c=document.getElementById('hm'), ctx=c.getContext('2d'), im=ctx.createImageData(W,H), d=im.data;
for(var y=0;y<H;y++){
  var fy=(y+0.5)/H*(N-1), iy=Math.min(N-2,Math.floor(fy)), ty=fy-iy;
  for(var x=0;x<W;x++){
    var fx=(x+0.5)/W*(N-1), ix=Math.min(N-2,Math.floor(fx)), tx=fx-ix;
    var z=(Z[iy*N+ix]*(1-tx)+Z[iy*N+ix+1]*tx)*(1-ty)+(Z[(iy+1)*N+ix]*(1-tx)+Z[(iy+1)*N+ix+1]*tx)*ty;
    var r,g,b;
    if(z<0.5){r=255*(1-2*z);g=r;b=255;}else{r=255*(2*z-1);g=0;b=255*(2-2*z);}
    var k=(y*W+x)*4; d[k]=r; d[k+1]=g; d[k+2]=b; d[k+3]=255;
  }
}
ctx.putImageData(im,0,0);
})();
</script>
</body></html>
